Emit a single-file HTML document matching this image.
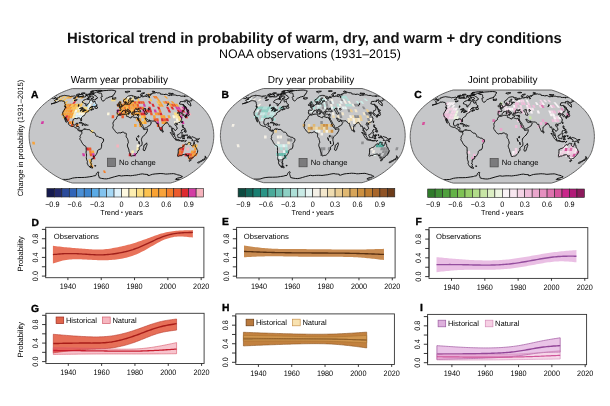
<!DOCTYPE html>
<html><head><meta charset="utf-8"><title>Historical trend in probability of warm, dry, and warm + dry conditions</title>
<style>
html,body{margin:0;padding:0;background:#fff;}
body{width:610px;height:406px;overflow:hidden;}
svg{display:block;}
text{font-family:"Liberation Sans",Arial,Helvetica,sans-serif;fill:#1a1a1a;text-rendering:geometricPrecision;}
.title{font-size:14.86px;font-weight:bold;fill:#111;}
.sub{font-size:12.4px;fill:#000;}
.t10{font-size:10.05px;fill:#000;}
.t7{font-size:7.3px;fill:#000;}
.t75{font-size:7.65px;fill:#000;}
.lg{font-size:7.55px;fill:#000;}
.t76{font-size:7.6px;fill:#000;}
.nc{font-size:7.6px;fill:#000;}
.tn{font-size:7.9px;fill:#000;}
.pl{font-size:7.6px;fill:#000;}
.lb{font-size:10.3px;font-weight:bold;fill:#000;stroke:#000;stroke-width:0.35px;}
</style></head><body>
<svg width="610" height="406" viewBox="0 0 610 406">
<rect width="610" height="406" fill="#fff"/>
<text x="314.4" y="43.4" text-anchor="middle" class="title">Historical trend in probability of warm, dry, and warm + dry conditions</text>
<text x="309.9" y="57.7" text-anchor="middle" class="sub">NOAA observations (1931–2015)</text>
<text transform="translate(22.9 137.9) rotate(-90)" text-anchor="middle" class="t76">Change in probability (1931–2015)</text>
<text x="119.4" y="83.1" text-anchor="middle" class="t10">Warm year probability</text>
<text x="311.0" y="83.1" text-anchor="middle" class="t10">Dry year probability</text>
<text x="502.6" y="83.3" text-anchor="middle" class="t10">Joint probability</text>
<text x="31.0" y="97.7" class="lb">A</text>
<text x="221.4" y="97.9" class="lb">B</text>
<text x="414.3" y="97.8" class="lb">C</text>
<clipPath id="clipA"><path d="M170.6 88.6 L172.31 89.08 L174.29 89.73 L176.48 90.53 L178.83 91.46 L181.26 92.5 L183.62 93.62 L185.79 94.79 L187.81 95.99 L189.74 97.23 L191.61 98.5 L193.43 99.8 L195.2 101.13 L196.91 102.48 L198.56 103.85 L200.13 105.24 L201.6 106.65 L202.95 108.07 L204.21 109.5 L205.43 110.95 L206.56 112.4 L207.58 113.85 L208.51 115.32 L209.35 116.78 L210.11 118.24 L210.76 119.7 L211.31 121.17 L211.76 122.63 L212.16 124.09 L212.54 125.56 L212.88 127.02 L213.16 128.48 L213.38 129.95 L213.55 131.41 L213.67 132.87 L213.75 134.34 L213.8 135.8 L213.75 137.26 L213.67 138.73 L213.55 140.19 L213.38 141.65 L213.16 143.12 L212.88 144.58 L212.54 146.04 L212.16 147.51 L211.76 148.97 L211.31 150.43 L210.76 151.9 L210.11 153.36 L209.35 154.82 L208.51 156.28 L207.58 157.75 L206.56 159.2 L205.43 160.65 L204.21 162.1 L202.95 163.53 L201.6 164.95 L200.13 166.36 L198.56 167.75 L196.91 169.12 L195.2 170.47 L193.43 171.8 L191.61 173.1 L189.74 174.37 L187.81 175.61 L185.79 176.81 L183.62 177.98 L181.26 179.1 L178.83 180.14 L176.48 181.07 L174.29 181.87 L172.31 182.52 L170.6 183 L72.3 183 L70.59 182.52 L68.61 181.87 L66.42 181.07 L64.07 180.14 L61.64 179.1 L59.28 177.98 L57.11 176.81 L55.09 175.61 L53.16 174.37 L51.29 173.1 L49.47 171.8 L47.7 170.47 L45.99 169.12 L44.34 167.75 L42.77 166.36 L41.3 164.95 L39.95 163.53 L38.69 162.1 L37.47 160.65 L36.34 159.2 L35.32 157.75 L34.39 156.28 L33.55 154.82 L32.79 153.36 L32.14 151.9 L31.59 150.43 L31.14 148.97 L30.74 147.51 L30.36 146.04 L30.02 144.58 L29.74 143.12 L29.52 141.65 L29.35 140.19 L29.23 138.73 L29.15 137.26 L29.1 135.8 L29.15 134.34 L29.23 132.87 L29.35 131.41 L29.52 129.95 L29.74 128.48 L30.02 127.02 L30.36 125.56 L30.74 124.09 L31.14 122.63 L31.59 121.17 L32.14 119.7 L32.79 118.24 L33.55 116.78 L34.39 115.32 L35.32 113.85 L36.34 112.4 L37.47 110.95 L38.69 109.5 L39.95 108.07 L41.3 106.65 L42.77 105.24 L44.34 103.85 L45.99 102.48 L47.7 101.13 L49.47 99.8 L51.29 98.5 L53.16 97.23 L55.09 95.99 L57.11 94.79 L59.28 93.62 L61.64 92.5 L64.07 91.46 L66.42 90.53 L68.61 89.73 L70.59 89.08 L72.3 88.6Z"/></clipPath><path d="M170.6 88.6 L172.31 89.08 L174.29 89.73 L176.48 90.53 L178.83 91.46 L181.26 92.5 L183.62 93.62 L185.79 94.79 L187.81 95.99 L189.74 97.23 L191.61 98.5 L193.43 99.8 L195.2 101.13 L196.91 102.48 L198.56 103.85 L200.13 105.24 L201.6 106.65 L202.95 108.07 L204.21 109.5 L205.43 110.95 L206.56 112.4 L207.58 113.85 L208.51 115.32 L209.35 116.78 L210.11 118.24 L210.76 119.7 L211.31 121.17 L211.76 122.63 L212.16 124.09 L212.54 125.56 L212.88 127.02 L213.16 128.48 L213.38 129.95 L213.55 131.41 L213.67 132.87 L213.75 134.34 L213.8 135.8 L213.75 137.26 L213.67 138.73 L213.55 140.19 L213.38 141.65 L213.16 143.12 L212.88 144.58 L212.54 146.04 L212.16 147.51 L211.76 148.97 L211.31 150.43 L210.76 151.9 L210.11 153.36 L209.35 154.82 L208.51 156.28 L207.58 157.75 L206.56 159.2 L205.43 160.65 L204.21 162.1 L202.95 163.53 L201.6 164.95 L200.13 166.36 L198.56 167.75 L196.91 169.12 L195.2 170.47 L193.43 171.8 L191.61 173.1 L189.74 174.37 L187.81 175.61 L185.79 176.81 L183.62 177.98 L181.26 179.1 L178.83 180.14 L176.48 181.07 L174.29 181.87 L172.31 182.52 L170.6 183 L72.3 183 L70.59 182.52 L68.61 181.87 L66.42 181.07 L64.07 180.14 L61.64 179.1 L59.28 177.98 L57.11 176.81 L55.09 175.61 L53.16 174.37 L51.29 173.1 L49.47 171.8 L47.7 170.47 L45.99 169.12 L44.34 167.75 L42.77 166.36 L41.3 164.95 L39.95 163.53 L38.69 162.1 L37.47 160.65 L36.34 159.2 L35.32 157.75 L34.39 156.28 L33.55 154.82 L32.79 153.36 L32.14 151.9 L31.59 150.43 L31.14 148.97 L30.74 147.51 L30.36 146.04 L30.02 144.58 L29.74 143.12 L29.52 141.65 L29.35 140.19 L29.23 138.73 L29.15 137.26 L29.1 135.8 L29.15 134.34 L29.23 132.87 L29.35 131.41 L29.52 129.95 L29.74 128.48 L30.02 127.02 L30.36 125.56 L30.74 124.09 L31.14 122.63 L31.59 121.17 L32.14 119.7 L32.79 118.24 L33.55 116.78 L34.39 115.32 L35.32 113.85 L36.34 112.4 L37.47 110.95 L38.69 109.5 L39.95 108.07 L41.3 106.65 L42.77 105.24 L44.34 103.85 L45.99 102.48 L47.7 101.13 L49.47 99.8 L51.29 98.5 L53.16 97.23 L55.09 95.99 L57.11 94.79 L59.28 93.62 L61.64 92.5 L64.07 91.46 L66.42 90.53 L68.61 89.73 L70.59 89.08 L72.3 88.6Z" fill="#c6c7c9"/><g clip-path="url(#clipA)"><path d="M53.85 101.13 L55.89 101.13 L59.09 98.5 L57.14 98.5Z" fill="#fcdd80"/><path d="M57.14 98.5 L59.09 98.5 L62.46 95.99 L60.62 95.99Z" fill="#fcc24e"/><path d="M57.94 101.13 L59.99 101.13 L62.98 98.5 L61.04 98.5Z" fill="#fcc24e"/><path d="M61.04 98.5 L62.98 98.5 L66.15 95.99 L64.3 95.99Z" fill="#fcc24e"/><path d="M62.04 101.13 L64.09 101.13 L66.88 98.5 L64.93 98.5Z" fill="#fcc24e"/><path d="M64.93 98.5 L66.88 98.5 L69.83 95.99 L67.99 95.99Z" fill="#fcc24e"/><path d="M66.88 98.5 L68.83 98.5 L71.68 95.99 L69.83 95.99Z" fill="#f9a233"/><path d="M63.62 103.85 L65.76 103.85 L68.19 101.13 L66.14 101.13Z" fill="#fcc24e"/><path d="M68.83 98.5 L70.78 98.5 L73.52 95.99 L71.68 95.99Z" fill="#f9a233"/><path d="M72.28 101.13 L74.33 101.13 L76.63 98.5 L74.68 98.5Z" fill="#fcdd80"/><path d="M74.68 98.5 L76.63 98.5 L79.05 95.99 L77.21 95.99Z" fill="#f9a233"/><path d="M78.58 98.5 L80.52 98.5 L82.74 95.99 L80.9 95.99Z" fill="#fcdd80"/><path d="M80.52 98.5 L82.47 98.5 L84.58 95.99 L82.74 95.99Z" fill="#f9a233"/><path d="M63.56 106.65 L65.79 106.65 L67.9 103.85 L65.76 103.85Z" fill="#f8a33a"/><path d="M60.99 115.32 L63.41 115.32 L64.71 112.4 L62.35 112.4Z" fill="#f9a233"/><path d="M62.35 112.4 L64.71 112.4 L66.27 109.5 L63.97 109.5Z" fill="#f8a33a"/><path d="M63.97 109.5 L66.27 109.5 L68.02 106.65 L65.79 106.65Z" fill="#f57f2a"/><path d="M65.79 106.65 L68.02 106.65 L70.04 103.85 L67.9 103.85Z" fill="#f9a233"/><path d="M62.35 118.24 L64.81 118.24 L65.83 115.32 L63.41 115.32Z" fill="#fcc24e"/><path d="M63.41 115.32 L65.83 115.32 L67.07 112.4 L64.71 112.4Z" fill="#f9a233"/><path d="M64.71 112.4 L67.07 112.4 L68.57 109.5 L66.27 109.5Z" fill="#f8a33a"/><path d="M66.27 109.5 L68.57 109.5 L70.24 106.65 L68.02 106.65Z" fill="#f9a233"/><path d="M68.02 106.65 L70.24 106.65 L72.18 103.85 L70.04 103.85Z" fill="#f57f2a"/><path d="M64.81 118.24 L67.27 118.24 L68.25 115.32 L65.83 115.32Z" fill="#dd2a2f"/><path d="M65.83 115.32 L68.25 115.32 L69.44 112.4 L67.07 112.4Z" fill="#f8a33a"/><path d="M67.07 112.4 L69.44 112.4 L70.87 109.5 L68.57 109.5Z" fill="#f9a233"/><path d="M68.57 109.5 L70.87 109.5 L72.47 106.65 L70.24 106.65Z" fill="#f9a233"/><path d="M70.24 106.65 L72.47 106.65 L74.33 103.85 L72.18 103.85Z" fill="#fcc24e"/><path d="M67.27 118.24 L69.73 118.24 L70.67 115.32 L68.25 115.32Z" fill="#f57f2a"/><path d="M68.25 115.32 L70.67 115.32 L71.8 112.4 L69.44 112.4Z" fill="#f9a233"/><path d="M69.44 112.4 L71.8 112.4 L73.17 109.5 L70.87 109.5Z" fill="#f57f2a"/><path d="M70.87 109.5 L73.17 109.5 L74.7 106.65 L72.47 106.65Z" fill="#fcc24e"/><path d="M72.47 106.65 L74.7 106.65 L76.47 103.85 L74.33 103.85Z" fill="#f9a233"/><path d="M69.73 118.24 L72.2 118.24 L73.08 115.32 L70.67 115.32Z" fill="#f8a33a"/><path d="M70.67 115.32 L73.08 115.32 L74.17 112.4 L71.8 112.4Z" fill="#f9a233"/><path d="M71.8 112.4 L74.17 112.4 L75.47 109.5 L73.17 109.5Z" fill="#fcc24e"/><path d="M73.17 109.5 L75.47 109.5 L76.92 106.65 L74.7 106.65Z" fill="#fcc24e"/><path d="M74.7 106.65 L76.92 106.65 L78.61 103.85 L76.47 103.85Z" fill="#fcc24e"/><path d="M72.2 118.24 L74.66 118.24 L75.5 115.32 L73.08 115.32Z" fill="#fdeeb0"/><path d="M73.08 115.32 L75.5 115.32 L76.53 112.4 L74.17 112.4Z" fill="#fdeeb0"/><path d="M74.17 112.4 L76.53 112.4 L77.77 109.5 L75.47 109.5Z" fill="#fdf8e0"/><path d="M75.47 109.5 L77.77 109.5 L79.15 106.65 L76.92 106.65Z" fill="#fcdd80"/><path d="M76.92 106.65 L79.15 106.65 L80.75 103.85 L78.61 103.85Z" fill="#fcc24e"/><path d="M74.66 118.24 L77.12 118.24 L77.92 115.32 L75.5 115.32Z" fill="#dff2fb"/><path d="M75.5 115.32 L77.92 115.32 L78.9 112.4 L76.53 112.4Z" fill="#dff2fb"/><path d="M76.53 112.4 L78.9 112.4 L80.07 109.5 L77.77 109.5Z" fill="#fcdd80"/><path d="M77.77 109.5 L80.07 109.5 L81.37 106.65 L79.15 106.65Z" fill="#fdf8e0"/><path d="M77.12 118.24 L79.58 118.24 L80.34 115.32 L77.92 115.32Z" fill="#dff2fb"/><path d="M77.92 115.32 L80.34 115.32 L81.26 112.4 L78.9 112.4Z" fill="#fdf8e0"/><path d="M78.9 112.4 L81.26 112.4 L82.37 109.5 L80.07 109.5Z" fill="#fdeeb0"/><path d="M80.07 109.5 L82.37 109.5 L83.6 106.65 L81.37 106.65Z" fill="#fdeeb0"/><path d="M79.58 118.24 L82.05 118.24 L82.76 115.32 L80.34 115.32Z" fill="#dff2fb"/><path d="M80.34 115.32 L82.76 115.32 L83.62 112.4 L81.26 112.4Z" fill="#fdf8e0"/><path d="M81.26 112.4 L83.62 112.4 L84.67 109.5 L82.37 109.5Z" fill="#fcc24e"/><path d="M82.37 109.5 L84.67 109.5 L85.83 106.65 L83.6 106.65Z" fill="#fcdd80"/><path d="M82.76 115.32 L85.18 115.32 L85.99 112.4 L83.62 112.4Z" fill="#fdf8e0"/><path d="M83.62 112.4 L85.99 112.4 L86.96 109.5 L84.67 109.5Z" fill="#fcc24e"/><path d="M84.67 109.5 L86.96 109.5 L88.05 106.65 L85.83 106.65Z" fill="#fcdd80"/><path d="M85.99 112.4 L88.35 112.4 L89.26 109.5 L86.96 109.5Z" fill="#fcc24e"/><path d="M89.26 109.5 L91.56 109.5 L92.51 106.65 L90.28 106.65Z" fill="#fcdd80"/><path d="M85.83 106.65 L88.05 106.65 L89.32 103.85 L87.18 103.85Z" fill="#a6d8f5"/><path d="M87.18 103.85 L89.32 103.85 L90.72 101.13 L88.67 101.13Z" fill="#fdf8e0"/><path d="M86.96 109.5 L89.26 109.5 L90.28 106.65 L88.05 106.65Z" fill="#dff2fb"/><path d="M88.05 106.65 L90.28 106.65 L91.46 103.85 L89.32 103.85Z" fill="#fdf8e0"/><path d="M89.32 103.85 L91.46 103.85 L92.77 101.13 L90.72 101.13Z" fill="#dff2fb"/><path d="M92.51 106.65 L94.73 106.65 L95.75 103.85 L93.6 103.85Z" fill="#a6d8f5"/><path d="M93.6 103.85 L95.75 103.85 L96.87 101.13 L94.82 101.13Z" fill="#dff2fb"/><path d="M94.73 106.65 L96.96 106.65 L97.89 103.85 L95.75 103.85Z" fill="#dff2fb"/><path d="M79.15 106.65 L81.37 106.65 L82.89 103.85 L80.75 103.85Z" fill="#fcc24e"/><path d="M80.75 103.85 L82.89 103.85 L84.57 101.13 L82.53 101.13Z" fill="#fcdd80"/><path d="M68.54 124.09 L71.06 124.09 L71.53 121.17 L69.03 121.17Z" fill="#f57f2a"/><path d="M70.66 127.02 L73.2 127.02 L73.58 124.09 L71.06 124.09Z" fill="#ec5a2d"/><path d="M72.18 103.85 L74.33 103.85 L76.38 101.13 L74.33 101.13Z" fill="#dd2a2f"/><path d="M66.54 121.17 L69.03 121.17 L69.73 118.24 L67.27 118.24Z" fill="#ec5a2d"/><path d="M71.06 124.09 L73.58 124.09 L74.03 121.17 L71.53 121.17Z" fill="#f9a233"/><path d="M111.21 101.13 L113.26 101.13 L113.65 98.5 L111.71 98.5Z" fill="#fcdd80"/><path d="M113.26 101.13 L115.3 101.13 L115.6 98.5 L113.65 98.5Z" fill="#fcdd80"/><path d="M106.94 115.32 L109.36 115.32 L109.63 112.4 L107.27 112.4Z" fill="#fdf8e0"/><path d="M111.6 118.24 L114.06 118.24 L114.2 115.32 L111.78 115.32Z" fill="#ec5a2d"/><path d="M40.82 124.09 L43.34 124.09 L44.07 121.17 L41.58 121.17Z" fill="#d33ca4"/><path d="M32.56 144.58 L35.1 144.58 L34.63 141.65 L32.08 141.65Z" fill="#f8a33a"/><path d="M75.74 127.02 L78.28 127.02 L78.62 124.09 L76.1 124.09Z" fill="#f57f2a"/><path d="M90.71 132.87 L93.27 132.87 L93.36 129.95 L90.81 129.95Z" fill="#fcdd80"/><path d="M86.51 150.43 L89 150.43 L88.69 147.51 L86.18 147.51Z" fill="#dd2a2f"/><path d="M89.44 153.36 L91.9 153.36 L91.5 150.43 L89 150.43Z" fill="#f57f2a"/><path d="M89 150.43 L91.5 150.43 L91.21 147.51 L88.69 147.51Z" fill="#ec5a2d"/><path d="M91.9 153.36 L94.36 153.36 L93.99 150.43 L91.5 150.43Z" fill="#f8a33a"/><path d="M92.43 156.28 L94.85 156.28 L94.36 153.36 L91.9 153.36Z" fill="#d33ca4"/><path d="M93.08 159.2 L95.44 159.2 L94.85 156.28 L92.43 156.28Z" fill="#dd2a2f"/><path d="M89.26 162.1 L91.56 162.1 L90.72 159.2 L88.35 159.2Z" fill="#fcc24e"/><path d="M90.28 164.95 L92.51 164.95 L91.56 162.1 L89.26 162.1Z" fill="#fcc24e"/><path d="M91.46 167.75 L93.6 167.75 L92.51 164.95 L90.28 164.95Z" fill="#f9a233"/><path d="M82.76 156.28 L85.18 156.28 L84.51 153.36 L82.05 153.36Z" fill="#d33ca4"/><path d="M103.91 173.1 L105.86 173.1 L105.06 170.47 L103.01 170.47Z" fill="#f57f2a"/><path d="M90.01 156.28 L92.43 156.28 L91.9 153.36 L89.44 153.36Z" fill="#ec5a2d"/><path d="M116.61 115.32 L119.03 115.32 L119.09 112.4 L116.72 112.4Z" fill="#fcc24e"/><path d="M116.72 112.4 L119.09 112.4 L119.15 109.5 L116.85 109.5Z" fill="#d33ca4"/><path d="M117 106.65 L119.22 106.65 L119.31 103.85 L117.17 103.85Z" fill="#f57f2a"/><path d="M119.03 115.32 L121.45 115.32 L121.45 112.4 L119.09 112.4Z" fill="#dd2a2f"/><path d="M119.09 112.4 L121.45 112.4 L121.45 109.5 L119.15 109.5Z" fill="#f9a233"/><path d="M119.15 109.5 L121.45 109.5 L121.45 106.65 L119.22 106.65Z" fill="#f9a233"/><path d="M119.22 106.65 L121.45 106.65 L121.45 103.85 L119.31 103.85Z" fill="#fcc24e"/><path d="M119.31 103.85 L121.45 103.85 L121.45 101.13 L119.4 101.13Z" fill="#f8a33a"/><path d="M121.45 115.32 L123.87 115.32 L123.81 112.4 L121.45 112.4Z" fill="#f57f2a"/><path d="M121.45 112.4 L123.81 112.4 L123.75 109.5 L121.45 109.5Z" fill="#f9a233"/><path d="M121.45 109.5 L123.75 109.5 L123.68 106.65 L121.45 106.65Z" fill="#f9a233"/><path d="M121.45 106.65 L123.68 106.65 L123.59 103.85 L121.45 103.85Z" fill="#f57f2a"/><path d="M123.87 115.32 L126.29 115.32 L126.18 112.4 L123.81 112.4Z" fill="#f8a33a"/><path d="M123.81 112.4 L126.18 112.4 L126.05 109.5 L123.75 109.5Z" fill="#f57f2a"/><path d="M123.75 109.5 L126.05 109.5 L125.9 106.65 L123.68 106.65Z" fill="#f57f2a"/><path d="M123.68 106.65 L125.9 106.65 L125.73 103.85 L123.59 103.85Z" fill="#f9a233"/><path d="M123.59 103.85 L125.73 103.85 L125.55 101.13 L123.5 101.13Z" fill="#f57f2a"/><path d="M126.29 115.32 L128.7 115.32 L128.54 112.4 L126.18 112.4Z" fill="#fcc24e"/><path d="M126.18 112.4 L128.54 112.4 L128.35 109.5 L126.05 109.5Z" fill="#f8a33a"/><path d="M126.05 109.5 L128.35 109.5 L128.13 106.65 L125.9 106.65Z" fill="#fcc24e"/><path d="M125.9 106.65 L128.13 106.65 L127.88 103.85 L125.73 103.85Z" fill="#f8a33a"/><path d="M125.73 103.85 L127.88 103.85 L127.6 101.13 L125.55 101.13Z" fill="#f8a33a"/><path d="M128.54 112.4 L130.91 112.4 L130.65 109.5 L128.35 109.5Z" fill="#f57f2a"/><path d="M128.35 109.5 L130.65 109.5 L130.36 106.65 L128.13 106.65Z" fill="#f57f2a"/><path d="M128.13 106.65 L130.36 106.65 L130.02 103.85 L127.88 103.85Z" fill="#f57f2a"/><path d="M127.88 103.85 L130.02 103.85 L129.64 101.13 L127.6 101.13Z" fill="#f8a33a"/><path d="M131.12 115.32 L133.54 115.32 L133.27 112.4 L130.91 112.4Z" fill="#f8a33a"/><path d="M130.91 112.4 L133.27 112.4 L132.95 109.5 L130.65 109.5Z" fill="#fcc24e"/><path d="M130.65 109.5 L132.95 109.5 L132.58 106.65 L130.36 106.65Z" fill="#f8a33a"/><path d="M130.36 106.65 L132.58 106.65 L132.16 103.85 L130.02 103.85Z" fill="#f9a233"/><path d="M130.02 103.85 L132.16 103.85 L131.69 101.13 L129.64 101.13Z" fill="#f9a233"/><path d="M133.54 115.32 L135.96 115.32 L135.63 112.4 L133.27 112.4Z" fill="#f8a33a"/><path d="M133.27 112.4 L135.63 112.4 L135.24 109.5 L132.95 109.5Z" fill="#f57f2a"/><path d="M132.95 109.5 L135.24 109.5 L134.81 106.65 L132.58 106.65Z" fill="#f8a33a"/><path d="M132.58 106.65 L134.81 106.65 L134.3 103.85 L132.16 103.85Z" fill="#f57f2a"/><path d="M132.16 103.85 L134.3 103.85 L133.74 101.13 L131.69 101.13Z" fill="#f8a33a"/><path d="M135.96 115.32 L138.38 115.32 L138 112.4 L135.63 112.4Z" fill="#f9a233"/><path d="M135.24 109.5 L137.54 109.5 L137.03 106.65 L134.81 106.65Z" fill="#f57f2a"/><path d="M134.81 106.65 L137.03 106.65 L136.44 103.85 L134.3 103.85Z" fill="#f9a233"/><path d="M134.3 103.85 L136.44 103.85 L135.79 101.13 L133.74 101.13Z" fill="#ec5a2d"/><path d="M138.38 115.32 L140.8 115.32 L140.36 112.4 L138 112.4Z" fill="#f9a233"/><path d="M138 112.4 L140.36 112.4 L139.84 109.5 L137.54 109.5Z" fill="#f9a233"/><path d="M137.54 109.5 L139.84 109.5 L139.26 106.65 L137.03 106.65Z" fill="#f57f2a"/><path d="M137.03 106.65 L139.26 106.65 L138.59 103.85 L136.44 103.85Z" fill="#ec5a2d"/><path d="M136.44 103.85 L138.59 103.85 L137.84 101.13 L135.79 101.13Z" fill="#f9a233"/><path d="M123.5 101.13 L125.55 101.13 L125.35 98.5 L123.4 98.5Z" fill="#fcc24e"/><path d="M125.55 101.13 L127.6 101.13 L127.3 98.5 L125.35 98.5Z" fill="#fcc24e"/><path d="M127.6 101.13 L129.64 101.13 L129.25 98.5 L127.3 98.5Z" fill="#fdeeb0"/><path d="M127.3 98.5 L129.25 98.5 L128.82 95.99 L126.98 95.99Z" fill="#fdf8e0"/><path d="M129.64 101.13 L131.69 101.13 L131.19 98.5 L129.25 98.5Z" fill="#fcc24e"/><path d="M131.69 101.13 L133.74 101.13 L133.14 98.5 L131.19 98.5Z" fill="#fcdd80"/><path d="M133.14 98.5 L135.09 98.5 L134.35 95.99 L132.51 95.99Z" fill="#fdeeb0"/><path d="M121.45 118.24 L123.91 118.24 L123.87 115.32 L121.45 115.32Z" fill="#ec5a2d"/><path d="M134.15 127.02 L136.69 127.02 L136.57 124.09 L134.05 124.09Z" fill="#f9a233"/><path d="M136.43 121.17 L138.92 121.17 L138.69 118.24 L136.23 118.24Z" fill="#f9a233"/><path d="M139.23 127.02 L141.77 127.02 L141.61 124.09 L139.09 124.09Z" fill="#f9a233"/><path d="M139.09 124.09 L141.61 124.09 L141.42 121.17 L138.92 121.17Z" fill="#f8a33a"/><path d="M138.92 121.17 L141.42 121.17 L141.15 118.24 L138.69 118.24Z" fill="#f8a33a"/><path d="M141.61 124.09 L144.13 124.09 L143.91 121.17 L141.42 121.17Z" fill="#fcc24e"/><path d="M141.15 118.24 L143.61 118.24 L143.21 115.32 L140.8 115.32Z" fill="#fcc24e"/><path d="M144.13 124.09 L146.65 124.09 L146.41 121.17 L143.91 121.17Z" fill="#f9a233"/><path d="M143.91 121.17 L146.41 121.17 L146.08 118.24 L143.61 118.24Z" fill="#fcc24e"/><path d="M143.61 118.24 L146.08 118.24 L145.63 115.32 L143.21 115.32Z" fill="#f9a233"/><path d="M140.8 115.32 L143.21 115.32 L142.73 112.4 L140.36 112.4Z" fill="#dd2a2f"/><path d="M139.84 109.5 L142.14 109.5 L141.49 106.65 L139.26 106.65Z" fill="#dd2a2f"/><path d="M138.59 103.85 L140.73 103.85 L139.89 101.13 L137.84 101.13Z" fill="#dd2a2f"/><path d="M143.21 115.32 L145.63 115.32 L145.09 112.4 L142.73 112.4Z" fill="#dd2a2f"/><path d="M142.73 112.4 L145.09 112.4 L144.44 109.5 L142.14 109.5Z" fill="#d33ca4"/><path d="M142.14 109.5 L144.44 109.5 L143.71 106.65 L141.49 106.65Z" fill="#f57f2a"/><path d="M140.73 103.85 L142.87 103.85 L141.94 101.13 L139.89 101.13Z" fill="#ec5a2d"/><path d="M145.09 112.4 L147.46 112.4 L146.74 109.5 L144.44 109.5Z" fill="#ec5a2d"/><path d="M143.71 106.65 L145.94 106.65 L145.01 103.85 L142.87 103.85Z" fill="#d33ca4"/><path d="M142.87 103.85 L145.01 103.85 L143.98 101.13 L141.94 101.13Z" fill="#ec5a2d"/><path d="M147.46 112.4 L149.82 112.4 L149.04 109.5 L146.74 109.5Z" fill="#dd2a2f"/><path d="M150.47 115.32 L152.89 115.32 L152.18 112.4 L149.82 112.4Z" fill="#ec5a2d"/><path d="M149.82 112.4 L152.18 112.4 L151.34 109.5 L149.04 109.5Z" fill="#dd2a2f"/><path d="M149.04 109.5 L151.34 109.5 L150.39 106.65 L148.17 106.65Z" fill="#dd2a2f"/><path d="M149.3 103.85 L151.44 103.85 L150.13 101.13 L148.08 101.13Z" fill="#dd2a2f"/><path d="M155.31 115.32 L157.72 115.32 L156.91 112.4 L154.55 112.4Z" fill="#f9a233"/><path d="M154.55 112.4 L156.91 112.4 L155.94 109.5 L153.64 109.5Z" fill="#d33ca4"/><path d="M152.62 106.65 L154.85 106.65 L153.58 103.85 L151.44 103.85Z" fill="#dd2a2f"/><path d="M157.72 115.32 L160.14 115.32 L159.28 112.4 L156.91 112.4Z" fill="#f57f2a"/><path d="M160.14 115.32 L162.56 115.32 L161.64 112.4 L159.28 112.4Z" fill="#dd2a2f"/><path d="M159.28 112.4 L161.64 112.4 L160.53 109.5 L158.23 109.5Z" fill="#f57f2a"/><path d="M158.23 109.5 L160.53 109.5 L159.3 106.65 L157.07 106.65Z" fill="#dd2a2f"/><path d="M159.3 106.65 L161.53 106.65 L160.01 103.85 L157.86 103.85Z" fill="#f8a33a"/><path d="M157.86 103.85 L160.01 103.85 L158.33 101.13 L156.28 101.13Z" fill="#fcc24e"/><path d="M154.58 98.5 L156.53 98.5 L154.63 95.99 L152.79 95.99Z" fill="#f57f2a"/><path d="M161.53 106.65 L163.75 106.65 L162.15 103.85 L160.01 103.85Z" fill="#f9a233"/><path d="M160.01 103.85 L162.15 103.85 L160.37 101.13 L158.33 101.13Z" fill="#f9a233"/><path d="M158.33 101.13 L160.37 101.13 L158.48 98.5 L156.53 98.5Z" fill="#f9a233"/><path d="M156.53 98.5 L158.48 98.5 L156.47 95.99 L154.63 95.99Z" fill="#f57f2a"/><path d="M164.29 103.85 L166.43 103.85 L164.47 101.13 L162.42 101.13Z" fill="#f9a233"/><path d="M166.43 103.85 L168.57 103.85 L166.52 101.13 L164.47 101.13Z" fill="#ec5a2d"/><path d="M170.43 106.65 L172.66 106.65 L170.72 103.85 L168.57 103.85Z" fill="#f8a33a"/><path d="M168.57 103.85 L170.72 103.85 L168.57 101.13 L166.52 101.13Z" fill="#f9a233"/><path d="M172.66 106.65 L174.88 106.65 L172.86 103.85 L170.72 103.85Z" fill="#ec5a2d"/><path d="M166.27 98.5 L168.22 98.5 L165.69 95.99 L163.85 95.99Z" fill="#f8a33a"/><path d="M174.88 106.65 L177.11 106.65 L175 103.85 L172.86 103.85Z" fill="#ec5a2d"/><path d="M172.86 103.85 L175 103.85 L172.67 101.13 L170.62 101.13Z" fill="#f8a33a"/><path d="M177.11 106.65 L179.34 106.65 L177.14 103.85 L175 103.85Z" fill="#f9a233"/><path d="M137.84 101.13 L139.89 101.13 L138.99 98.5 L137.04 98.5Z" fill="#fcc24e"/><path d="M150.13 101.13 L152.18 101.13 L150.68 98.5 L148.73 98.5Z" fill="#fcc24e"/><path d="M149.1 95.99 L150.94 95.99 L149.08 93.62 L147.35 93.62Z" fill="#f9a233"/><path d="M168.73 112.4 L171.1 112.4 L169.73 109.5 L167.43 109.5Z" fill="#dd2a2f"/><path d="M167.43 109.5 L169.73 109.5 L168.2 106.65 L165.98 106.65Z" fill="#dd2a2f"/><path d="M172.03 109.5 L174.33 109.5 L172.66 106.65 L170.43 106.65Z" fill="#dd2a2f"/><path d="M180.55 118.24 L183.02 118.24 L181.91 115.32 L179.49 115.32Z" fill="#d33ca4"/><path d="M178.19 112.4 L180.55 112.4 L178.93 109.5 L176.63 109.5Z" fill="#dd2a2f"/><path d="M176.63 109.5 L178.93 109.5 L177.11 106.65 L174.88 106.65Z" fill="#d33ca4"/><path d="M181.91 115.32 L184.33 115.32 L182.92 112.4 L180.55 112.4Z" fill="#f6b3bd"/><path d="M180.55 112.4 L182.92 112.4 L181.22 109.5 L178.93 109.5Z" fill="#d33ca4"/><path d="M178.93 109.5 L181.22 109.5 L179.34 106.65 L177.11 106.65Z" fill="#d33ca4"/><path d="M185.48 118.24 L187.94 118.24 L186.74 115.32 L184.33 115.32Z" fill="#dd2a2f"/><path d="M182.92 112.4 L185.28 112.4 L183.52 109.5 L181.22 109.5Z" fill="#dd2a2f"/><path d="M181.22 109.5 L183.52 109.5 L181.56 106.65 L179.34 106.65Z" fill="#f6b3bd"/><path d="M186.74 115.32 L189.16 115.32 L187.65 112.4 L185.28 112.4Z" fill="#d33ca4"/><path d="M183.52 109.5 L185.82 109.5 L183.79 106.65 L181.56 106.65Z" fill="#d33ca4"/><path d="M189.16 115.32 L191.58 115.32 L190.01 112.4 L187.65 112.4Z" fill="#f6b3bd"/><path d="M187.65 112.4 L190.01 112.4 L188.12 109.5 L185.82 109.5Z" fill="#d33ca4"/><path d="M185.82 109.5 L188.12 109.5 L186.02 106.65 L183.79 106.65Z" fill="#d33ca4"/><path d="M174.36 124.09 L176.88 124.09 L176.36 121.17 L173.87 121.17Z" fill="#fdf8e0"/><path d="M173.17 118.24 L175.63 118.24 L174.65 115.32 L172.23 115.32Z" fill="#fdf8e0"/><path d="M176.88 124.09 L179.4 124.09 L178.86 121.17 L176.36 121.17Z" fill="#fdf8e0"/><path d="M176.36 121.17 L178.86 121.17 L178.09 118.24 L175.63 118.24Z" fill="#fdf8e0"/><path d="M175.63 118.24 L178.09 118.24 L177.07 115.32 L174.65 115.32Z" fill="#fdeeb0"/><path d="M174.65 115.32 L177.07 115.32 L175.83 112.4 L173.46 112.4Z" fill="#fcdd80"/><path d="M178.86 121.17 L181.35 121.17 L180.55 118.24 L178.09 118.24Z" fill="#fcdd80"/><path d="M178.09 118.24 L180.55 118.24 L179.49 115.32 L177.07 115.32Z" fill="#fcdd80"/><path d="M177.07 115.32 L179.49 115.32 L178.19 112.4 L175.83 112.4Z" fill="#fcdd80"/><path d="M161.76 124.09 L164.28 124.09 L163.88 121.17 L161.39 121.17Z" fill="#f8a33a"/><path d="M160.85 118.24 L163.32 118.24 L162.56 115.32 L160.14 115.32Z" fill="#f8a33a"/><path d="M164.28 124.09 L166.8 124.09 L166.38 121.17 L163.88 121.17Z" fill="#f8a33a"/><path d="M163.88 121.17 L166.38 121.17 L165.78 118.24 L163.32 118.24Z" fill="#ec5a2d"/><path d="M163.32 118.24 L165.78 118.24 L164.98 115.32 L162.56 115.32Z" fill="#f9a233"/><path d="M168.24 118.24 L170.7 118.24 L169.82 115.32 L167.4 115.32Z" fill="#f8a33a"/><path d="M153.9 121.17 L156.39 121.17 L155.93 118.24 L153.46 118.24Z" fill="#ec5a2d"/><path d="M153.46 118.24 L155.93 118.24 L155.31 115.32 L152.89 115.32Z" fill="#f9a233"/><path d="M157 127.02 L159.54 127.02 L159.24 124.09 L156.72 124.09Z" fill="#ec5a2d"/><path d="M156.72 124.09 L159.24 124.09 L158.89 121.17 L156.39 121.17Z" fill="#d33ca4"/><path d="M156.39 121.17 L158.89 121.17 L158.39 118.24 L155.93 118.24Z" fill="#ec5a2d"/><path d="M159.75 129.95 L162.31 129.95 L162.08 127.02 L159.54 127.02Z" fill="#dd2a2f"/><path d="M161.39 121.17 L163.88 121.17 L163.32 118.24 L160.85 118.24Z" fill="#dd2a2f"/><path d="M166.38 121.17 L168.87 121.17 L168.24 118.24 L165.78 118.24Z" fill="#dd2a2f"/><path d="M181.92 124.09 L184.44 124.09 L183.85 121.17 L181.35 121.17Z" fill="#d33ca4"/><path d="M116.41 147.51 L118.93 147.51 L118.91 144.58 L116.37 144.58Z" fill="#f6b3bd"/><path d="M136.57 147.51 L139.09 147.51 L139.23 144.58 L136.69 144.58Z" fill="#fdf8e0"/><path d="M131.3 153.36 L133.76 153.36 L133.93 150.43 L131.43 150.43Z" fill="#fdeeb0"/><path d="M128.7 156.28 L131.12 156.28 L131.3 153.36 L128.84 153.36Z" fill="#dd2a2f"/><path d="M133.54 156.28 L135.96 156.28 L136.23 153.36 L133.76 153.36Z" fill="#d33ca4"/><path d="M136.43 150.43 L138.92 150.43 L139.09 147.51 L136.57 147.51Z" fill="#fdeeb0"/><path d="M177.07 156.28 L179.49 156.28 L180.55 153.36 L178.09 153.36Z" fill="#ec5a2d"/><path d="M178.09 153.36 L180.55 153.36 L181.35 150.43 L178.86 150.43Z" fill="#f57f2a"/><path d="M178.86 150.43 L181.35 150.43 L181.92 147.51 L179.4 147.51Z" fill="#ec5a2d"/><path d="M179.49 156.28 L181.91 156.28 L183.02 153.36 L180.55 153.36Z" fill="#ec5a2d"/><path d="M180.55 153.36 L183.02 153.36 L183.85 150.43 L181.35 150.43Z" fill="#ec5a2d"/><path d="M181.35 150.43 L183.85 150.43 L184.44 147.51 L181.92 147.51Z" fill="#dd2a2f"/><path d="M181.92 147.51 L184.44 147.51 L184.94 144.58 L182.4 144.58Z" fill="#ec5a2d"/><path d="M187.65 159.2 L190.01 159.2 L191.58 156.28 L189.16 156.28Z" fill="#f57f2a"/><path d="M189.16 156.28 L191.58 156.28 L192.87 153.36 L190.4 153.36Z" fill="#ec5a2d"/><path d="M190.4 153.36 L192.87 153.36 L193.83 150.43 L191.34 150.43Z" fill="#f8a33a"/><path d="M192 147.51 L194.52 147.51 L195.1 144.58 L192.56 144.58Z" fill="#f9a233"/><path d="M190.01 159.2 L192.37 159.2 L194 156.28 L191.58 156.28Z" fill="#ec5a2d"/><path d="M191.58 156.28 L194 156.28 L195.33 153.36 L192.87 153.36Z" fill="#f9a233"/><path d="M192.87 153.36 L195.33 153.36 L196.33 150.43 L193.83 150.43Z" fill="#f57f2a"/><path d="M193.83 150.43 L196.33 150.43 L197.04 147.51 L194.52 147.51Z" fill="#f8a33a"/><path d="M194.52 147.51 L197.04 147.51 L197.64 144.58 L195.1 144.58Z" fill="#fcc24e"/><path d="M194 156.28 L196.42 156.28 L197.79 153.36 L195.33 153.36Z" fill="#f57f2a"/><path d="M184.33 156.28 L186.74 156.28 L187.94 153.36 L185.48 153.36Z" fill="#dd2a2f"/><path d="M186.74 156.28 L189.16 156.28 L190.4 153.36 L187.94 153.36Z" fill="#dd2a2f"/><path d="M186.35 150.43 L188.84 150.43 L189.48 147.51 L186.96 147.51Z" fill="#f6b3bd"/><path d="M187.48 144.58 L190.02 144.58 L190.39 141.65 L187.84 141.65Z" fill="#fcdd80"/><path d="M56.31 98.24 L56.41 98.76 L57.58 98.76 L57.72 99.28 L55.47 99.8 L54.29 100.59 L55.07 101.13 L55.92 101.83 L55.63 102.48 L52.34 103.57 L51.02 104.02 L53.31 103.46 L55.76 102.75 L57.17 102.21 L58.88 101.4 L59.97 100.59 L60.11 101.02 L61.21 100.75 L61.91 100.86 L62.86 101.13 L63.98 101.23 L64.63 101.83 L64.79 102.1 L64.77 103.02 L64.71 103.57 L65.24 103.96 L65.3 104.4 L65.06 105.52 L65 106.2 L65.6 106.93 L65.32 107.56 L64.95 108.64 L63.76 110.66 L62.83 112.11 L62.63 113.27 L62.83 113.85 L62.86 114.56 L63.03 115.55 L63.91 115.9 L64.24 116.72 L64.26 117.66 L64.41 118.24 L64.72 119.41 L65.24 120.29 L65.58 121.46 L66.3 122.4 L66.21 121.58 L65.92 120.58 L65.54 119.12 L65.24 117.36 L65.98 117.66 L66.36 118.83 L66.8 120 L67.11 120.82 L67.69 121.64 L68.32 122.34 L68.38 123.51 L68.39 124.09 L68.8 124.68 L69.39 125.15 L70.32 125.73 L71.28 126.08 L72.24 126.49 L73.27 126.44 L73.78 126.38 L74.45 127.2 L75.16 127.66 L76.15 127.96 L76.9 128.19 L77.13 128.48 L77.59 129.07 L77.7 129.65 L77.68 130.06 L78.28 130.24 L78.75 130.88 L79.52 131 L80.26 131.53 L80.52 131.35 L80.81 130.59 L81.31 130.88 L81.8 131.35 L81.92 130.88 L81.64 130.42 L81.09 130.24 L80.31 130.47 L79.79 130.65 L79.3 130.24 L78.84 129.48 L78.86 128.48 L79.13 127.14 L78.59 126.49 L77.82 126.49 L76.8 126.55 L76.77 125.56 L77.27 124.39 L77.71 123.27 L76.97 123.22 L75.97 123.51 L75.81 124.39 L75.22 124.97 L73.95 125.09 L73.22 124.86 L72.81 124.15 L72.52 123.04 L72.57 121.75 L72.99 120.58 L73.2 119.59 L73.97 119.06 L74.83 118.53 L76.08 118.48 L76.75 118.77 L77.37 118.65 L77.41 118.07 L78.18 117.95 L79.15 118.01 L79.83 118.24 L80.27 118.48 L80.47 119.41 L80.66 120.29 L81.03 121.05 L81.34 120.99 L81.63 120.11 L81.57 119.12 L81.45 118.07 L81.67 117.3 L82.3 116.72 L83.14 116.08 L83.89 115.61 L84.5 115.32 L85.01 114.85 L85 114.15 L85.18 113.68 L85.73 113.27 L85.79 112.75 L86.33 112.51 L86.57 112.05 L87.35 111.82 L88.35 111.47 L88.67 111.35 L88.48 110.89 L88.66 110.49 L89.54 110.08 L90.59 109.68 L91.39 109.33 L91.96 109.27 L91.12 109.74 L91.08 110.31 L92.18 109.74 L93.44 109.39 L93.99 109.05 L93.43 108.93 L92.25 108.76 L91.96 108.24 L92.43 107.5 L92.12 107.1 L91.23 107.1 L90.31 107.79 L89.43 108.36 L89.84 107.84 L91.02 107.05 L91.88 106.54 L93.46 106.48 L94.79 106.48 L96.1 105.86 L97.02 105.35 L97.18 104.63 L96.28 104.13 L95.81 103.68 L95.39 103.13 L95.25 102.48 L95.14 101.77 L95.07 101.02 L94.1 101.77 L93.17 101.99 L92.68 101.72 L93.04 100.59 L92.48 100.27 L91.92 99.9 L91.2 99.9 L90.39 99.85 L90.04 100.59 L89.59 101.4 L89.31 102.21 L88.98 103.08 L88.49 103.63 L87.34 104.13 L87.05 104.96 L86.77 105.75 L85.97 105.86 L85.85 105.19 L85.76 104.68 L86.24 103.85 L85.13 103.68 L84.25 103.35 L83.92 102.97 L83.28 102.64 L82.49 102.7 L82.38 101.77 L82.73 101.07 L83.45 100.38 L84.08 100.06 L85.4 99.54 L86.83 98.96 L87.47 98.6 L88.28 97.99 L88.14 97.38 L88.85 97.03 L89.85 96.33 L90.75 96.38 L90.91 96.73 L90.15 97.23 L89.32 97.88 L88.85 97.73 L88.21 97.99 L88.69 97.68 L88.25 96.73 L88.14 96.38 L87.66 96.28 L87.35 95.99 L87.42 95.26 L87.01 95.12 L85.87 95.99 L85.5 96.88 L84.48 96.97 L83.26 97.08 L82.21 96.97 L81.41 96.83 L80.61 96.88 L79.9 97.03 L78.72 97.08 L77.85 97.08 L77.57 96.53 L77.13 96.23 L76.36 96.08 L75.04 96.28 L74.55 95.89 L73.59 96.08 L72.68 96.23 L71.76 96.23 L70.47 96.53 L69.9 96.23 L69.28 96.13 L68.61 95.94 L67.75 95.89 L66.84 95.74 L65.95 95.6 L65.17 95.5 L64.65 95.36 L63.39 95.6 L62.12 95.84 L60.74 96.28 L59.46 96.53 L59.76 96.97 L59.48 97.38 L58.61 97.68 L57.57 97.88 L56.31 98.24M97.47 92.2 L99.77 91.46 L101.77 91 L103.94 90.63 L106.16 90.53 L108.76 90.29 L111.84 90.16 L114.15 90.42 L115.23 90.89 L116.08 91.26 L115.13 91.87 L115.3 92.5 L114.48 93.17 L114.84 93.85 L113.64 94.55 L113.49 95.26 L112.65 95.74 L113.15 95.99 L112.15 96.38 L110.16 96.88 L108.96 97.13 L107.57 97.99 L106.31 98.29 L105.5 99.02 L104.65 99.8 L103.92 100.86 L103.03 101.07 L102.34 100.7 L101.72 100.17 L101.46 99.28 L101.38 98.5 L100.93 97.73 L101.38 96.73 L102.43 96.48 L102.03 95.74 L101.72 95.26 L101.74 94.55 L101.62 93.85 L101.42 93.35 L100.42 93.08 L99.06 93.08 L98.43 92.81 L97.53 92.5 L97.47 92.2M89.28 94.79 L91.15 94.27 L92.95 94.22 L94 94.69 L94.66 95.26 L95.8 95.74 L96.32 96.08 L96.4 96.58 L97.23 97.48 L97.74 97.73 L96.97 98.34 L95.76 98.81 L95.86 99.38 L94.78 99.96 L93.94 99.64 L93.03 99.12 L92.06 98.76 L90.89 98.76 L91.79 98.24 L93.45 97.73 L93.72 96.97 L92.89 96.23 L91.55 96.04 L90.19 95.89 L89.24 95.69 L89.28 94.79M79.26 94.64 L81.13 94.41 L82.82 94.64 L83.02 95.5 L83.76 96.08 L82 96.38 L79.62 96.53 L78.01 96.28 L78 95.6 L79.26 94.64M76.24 95.07 L77.71 94.18 L79.64 93.9 L80.24 94.41 L78.01 95.26 L76.24 95.07M91.55 92.5 L92.33 93.03 L94.36 93.03 L95.41 92.63 L96.65 92.03 L98.34 91.62 L99.99 91.23 L102.21 90.67 L100.8 90.39 L97.8 90.36 L94.94 90.7 L92.61 91.07 L91.3 91.87 L91.55 92.5M90.24 93.08 L92.46 92.9 L94.19 93.03 L93.74 93.71 L91.53 93.85 L89.63 93.67 L90.24 93.08M81.83 93.03 L84.43 92.85 L85.27 93.26 L84.09 93.67 L82.14 93.85 L81.16 93.53 L81.83 93.03M91.1 91.26 L92.71 91 L93.59 91.3 L91.95 91.87 L90.25 92.2 L91.1 91.26M85.82 94.32 L87.42 94.13 L86.91 95.02 L85.43 95.26 L85.82 94.32M88.17 94.08 L89.87 94.13 L88.3 94.88 L88.17 94.08M87.36 98.76 L88.83 98.91 L89.62 99.22 L87.63 99.54 L87.38 99.02 L88.41 98.09 L87.36 98.76M94.57 108.01 L95.17 107.39 L95.96 106.31 L96.98 105.75 L96.74 106.65 L97.45 107.1 L97.56 108.01 L97.06 108.53 L96.11 108.36 L94.57 108.01M64.65 106.2 L65.65 106.54 L65.94 107.5 L65.39 107.44 L64.96 106.88 L64.65 106.2M78.81 122.98 L79.84 122.4 L80.86 122.28 L81.81 122.69 L82.65 123.22 L83.45 123.68 L84.07 123.98 L82.39 124.15 L82.29 123.68 L81.75 123.16 L80.75 123.1 L79.77 122.92 L78.81 122.98M83.86 125.03 L84.76 124.15 L85.66 124.21 L86.62 124.68 L86.9 124.91 L86.07 125.15 L85.27 125.5 L84.55 125.15 L83.86 125.03M87.5 124.97 L88.3 125.03 L88.08 125.26 L87.47 125.26M81.89 125.03 L82.88 125.15 L82.61 125.32 L81.87 125.15M81.92 130.88 L82.34 130.65 L82.77 130.24 L82.91 129.6 L83.6 129.24 L84.49 128.84 L84.87 128.54 L85.15 128.89 L84.81 129.36 L84.94 129.95 L85.22 129.48 L85.75 129.01 L86.51 129.19 L86.74 129.6 L87.76 129.6 L88.78 129.6 L89.55 129.6 L89.89 129.95 L90.36 130.83 L91.02 131.12 L91.76 131.82 L92.26 132.29 L93.28 132.35 L94.05 132.52 L94.8 133.05 L95.16 133.34 L95.3 134.04 L95.8 134.81 L95.8 135.68 L96.31 135.98 L96.67 136.39 L97.34 136.21 L98.37 136.62 L98.89 137.26 L99.91 137.44 L100.94 137.5 L101.72 138.02 L102.49 138.67 L103.37 138.9 L103.64 140.07 L103.46 141.18 L102.82 142 L102.29 142.94 L101.65 143.58 L101.65 144.87 L101.62 146.22 L101.43 147.27 L100.9 148.56 L100.4 149.26 L99.16 149.44 L98.2 149.96 L97.52 150.72 L97.34 151.9 L96.98 153.07 L96.56 153.94 L96.04 154.7 L95.5 155.58 L95.07 156.17 L94.21 156.23 L93.15 155.99 L93.8 156.64 L93.92 157.45 L93.59 158.33 L92.45 158.56 L91.85 158.62 L92.13 159.55 L91.05 159.72 L90.99 160.36 L91.47 160.71 L91.18 161.29 L91.29 162.1 L90.65 162.55 L90.65 163.24 L91.66 163.81 L91.29 164.67 L91.1 165.12 L91.06 165.8 L91.53 166.3 L91.09 166.41 L90.87 166.92 L90.49 167.03 L88.93 166.36 L88.29 165.52 L87.58 164.21 L87.11 163.13 L87.3 162.38 L87.45 161.52 L86.97 160.36 L86.55 159.2 L86.3 157.63 L86.46 156.58 L86.55 155.11 L86.28 153.36 L86.07 152.19 L86.25 150.72 L86.16 149.26 L86.16 147.8 L85.92 146.51 L85.33 146.1 L84.19 145.4 L83.09 144.46 L82.62 143.7 L81.99 142.71 L81.46 141.65 L80.78 140.37 L79.98 139.43 L79.84 138.43 L80.28 137.79 L80.53 137.26 L79.95 136.68 L80.35 135.8 L80.41 135.27 L80.93 134.92 L81.2 134.34 L81.72 133.69 L81.84 132.99 L81.82 132.17 L81.59 131.53 L81.92 130.88M91.49 166.41 L92.96 167.75 L92.44 168.03 L91.25 167.75 L89.92 167.2 L90.95 167.08 L91.49 166.41M94.39 165.63 L95.85 165.63 L95.78 166.08 L94.68 166.08M118.61 114.85 L119.28 115.2 L120.39 115.26 L121.45 114.79 L122.65 114.38 L123.85 114.26 L125.53 114.2 L126.34 114.03 L126.78 114.26 L126.51 114.73 L126.81 115.2 L126.4 115.72 L126.41 116.19 L127.06 116.49 L127.79 116.6 L128.88 116.9 L129.3 117.48 L130.29 117.77 L131.05 118.07 L131.31 117.54 L131.23 116.95 L131.93 116.54 L132.68 116.72 L133.68 117.13 L134.69 117.42 L135.69 117.71 L136.4 117.36 L137.29 117.48 L137.46 118.24 L138.17 119.76 L138.8 120.88 L139.32 121.87 L139.93 122.92 L140.21 123.51 L140.39 124.86 L140.97 125.38 L141.39 126.49 L141.77 127.02 L142.56 127.72 L143.1 128.37 L143.52 128.78 L143.48 129.13 L143.91 129.65 L144.67 129.54 L145.43 129.3 L146.19 129.24 L146.95 129.07 L147.55 128.89 L147.49 129.71 L147.32 130.83 L146.79 132 L146.05 133.17 L145.3 134.34 L144.28 135.1 L143.51 135.98 L142.79 136.79 L142.12 137.32 L141.74 138.32 L141.37 139.31 L141.61 139.9 L141.54 140.77 L141.78 141.54 L142.07 142.06 L142.08 143.12 L142.09 144.29 L141.84 145.16 L140.42 146.1 L139.63 146.86 L138.99 147.39 L139.19 148.38 L139.23 149.55 L138.94 150.2 L137.91 150.72 L137.77 151.31 L137.53 152.48 L136.89 153.07 L136.28 153.94 L135.37 154.82 L134.59 155.41 L133.89 155.64 L132.87 155.64 L132.12 155.88 L131.13 156.17 L130.57 155.88 L130.35 155.41 L130.35 154.65 L129.96 153.65 L129.61 152.54 L129.15 151.6 L128.94 150.43 L128.72 149.14 L128.24 148.09 L127.76 146.92 L127.42 145.93 L127.49 144.93 L127.81 143.7 L128.44 142.53 L128.19 141.36 L128.1 140.66 L127.75 139.78 L127.7 139.19 L127.5 138.61 L126.83 137.85 L126.17 136.74 L126.22 135.51 L126.37 134.34 L126.42 133.63 L125.96 133.22 L125.29 133.22 L124.52 133.28 L124.01 132.52 L123.6 132.05 L122.73 132.11 L122.06 132.23 L120.94 132.82 L120.17 132.93 L119.4 132.76 L118.63 132.82 L117.61 133.22 L117.09 132.99 L116.33 132.41 L115.56 131.76 L115.05 131.35 L114.7 130.88 L114.65 130.24 L114.05 129.6 L113.65 129.19 L113.14 128.78 L112.95 128.07 L112.71 127.31 L112.56 127.14 L113.08 126.32 L113.3 125.56 L113.22 124.68 L112.99 123.8 L112.9 123.39 L113.34 122.05 L113.75 121.46 L114.23 120.58 L114.85 119.7 L115.75 119.35 L116.51 118.71 L116.68 117.95 L116.65 117.36 L117.26 116.31 L118.1 115.84 L118.45 115.2 L118.61 114.85M146.58 142.82 L147.04 144.7 L146.74 145.46 L146.44 146.22 L145.87 147.8 L145.29 149.55 L144.97 150.37 L144.04 150.72 L143.42 150.31 L143.17 148.97 L143.48 148.21 L143.84 147.21 L143.72 145.98 L144.01 145.28 L144.95 144.93 L145.76 143.99 L146.31 143.12 L146.58 142.82M138.67 118.53 L138.27 117.48 L138.47 116.6 L138.7 115.96 L138.8 115.2 L138.64 114.32 L138.01 114.26 L137.33 114.61 L136.34 114.32 L135.64 114.56 L134.89 114.26 L134.51 113.85 L133.99 113.39 L134.17 112.81 L133.84 112.4 L134.19 112.17 L135.09 111.82 L136.21 111.76 L137.12 111.24 L137.92 111.24 L138.84 111.76 L139.57 111.88 L140.36 111.82 L140.95 111.47 L140.8 110.89 L140.02 110.43 L139.23 109.91 L138.68 109.68 L138.95 108.93 L139.29 108.3 L138.79 108.3 L137.85 108.64 L137.49 109.22 L138.17 109.39 L137.66 109.68 L136.95 109.85 L136.4 109.27 L136.76 108.93 L135.95 108.7 L135.45 108.7 L135.09 109.39 L134.7 109.91 L134.48 110.66 L134.5 111.24 L135.03 111.7 L134.62 111.82 L133.94 112.05 L133.69 111.93 L132.75 111.93 L132.3 112.17 L132.73 112.69 L132.27 112.86 L132.66 113.45 L132.92 113.74 L132.5 114.44 L132.25 114.32 L131.86 114.2 L131.51 113.39 L131.08 112.75 L130.6 112.11 L130.58 111.35 L130.08 110.95 L129.35 110.49 L128.62 110.08 L128.3 109.5 L127.68 109.16 L127.1 109.33 L127.13 109.91 L127.71 110.37 L128.23 111.12 L128.96 111.59 L129.69 111.99 L130.19 112.34 L129.56 112.75 L129.53 113.04 L129.14 113.56 L128.94 113.45 L129.08 112.69 L128.82 112.34 L128.48 112.22 L128.04 111.88 L127.3 111.35 L126.68 110.95 L126.33 110.66 L126.17 110.14 L125.46 109.85 L124.92 110.2 L124.33 110.6 L123.68 110.43 L122.94 110.54 L122.9 111.06 L122.95 111.3 L121.92 111.76 L121.54 112.4 L121.31 112.81 L121.5 113.1 L121.12 113.8 L120.68 114.09 L120.39 114.32 L119.34 114.32 L118.75 114.73 L118.38 114.26 L117.9 114.03 L117.18 114.15 L117.25 113.45 L116.93 113.1 L117.25 112.22 L117.38 111.35 L117.12 110.66 L117.74 110.25 L118.67 110.31 L119.83 110.37 L120.71 110.43 L120.9 109.68 L120.9 108.82 L120.45 108.3 L119.46 107.9 L119.38 107.44 L120.1 107.33 L120.73 107.39 L120.87 106.82 L121.54 106.99 L122.07 106.59 L122.2 106.14 L122.55 106.03 L123.12 105.8 L123.38 105.35 L123.54 104.96 L124.01 104.74 L124.53 104.63 L125.13 104.63 L125.29 104.35 L125.12 103.63 L124.87 102.97 L125.07 102.7 L125.8 102.37 L125.89 102.97 L126.06 103.08 L125.71 103.52 L125.56 103.85 L126.14 104.18 L126.75 104.29 L127.59 104.46 L128.43 104.24 L129.44 104.02 L129.93 104.18 L130.47 103.74 L130.35 102.86 L130.83 102.42 L131.35 102.75 L131.64 102.26 L131.22 101.72 L132.36 101.4 L133.06 101.4 L133.71 101.18 L132.95 100.86 L132.18 100.91 L130.84 101.18 L130.11 100.7 L130.04 99.75 L130.33 99.12 L131.05 98.55 L131.34 98.45 L130.92 98.09 L130.04 98.14 L129.74 98.65 L129.35 99.17 L128.82 99.59 L128.52 100.06 L128.5 100.81 L129.16 101.18 L128.96 101.5 L128.4 102.42 L128.37 102.91 L127.69 103.24 L126.91 103.57 L126.79 103.13 L126.48 102.48 L126.09 101.72 L125.78 101.5 L125.67 101.66 L124.95 102.04 L124.37 102.21 L123.77 101.83 L123.59 101.29 L123.48 100.49 L123.65 99.9 L124.47 99.48 L125.28 99.17 L125.72 98.76 L126.24 98.04 L126.63 97.38 L127.24 96.83 L127.6 96.48 L128.25 96.08 L128.81 95.94 L129.69 95.69 L130.37 95.5 L131.03 95.5 L131.71 95.45 L132.42 95.65 L132.91 95.84 L132.54 96.08 L133.3 96.04 L133.9 96.33 L135.07 96.48 L135.91 96.78 L136.78 97.13 L137.16 97.58 L136.86 97.83 L136.18 97.99 L135.13 97.93 L134.46 97.63 L133.89 97.48 L134.28 97.78 L134.89 98.04 L135.09 98.76 L135.85 98.96 L136.08 99.07 L136.44 98.7 L137.07 98.7 L137.25 98.55 L136.96 98.14 L137.73 97.78 L138.38 97.88 L138.26 97.33 L137.92 96.83 L138.77 96.88 L139.07 97.18 L138.69 97.48 L139.69 97.58 L140.02 97.18 L140.96 96.73 L141.54 96.53 L142.29 96.78 L143 96.68 L143.73 96.73 L143.78 96.04 L145 96.23 L145.61 96.33 L146.55 96.53 L147.17 96.83 L147.22 96.53 L146.68 96.13 L146.18 96.04 L145.73 95.36 L146.04 94.88 L146.1 94.55 L146.77 94.46 L147.44 94.74 L147.7 95.26 L147.54 95.36 L148.09 95.74 L148.53 96.48 L149.09 96.78 L149.2 97.13 L148.85 97.68 L149.24 97.83 L149.7 97.08 L149.39 96.48 L148.95 96.38 L148.53 95.74 L147.99 95.26 L148.33 94.93 L148.19 94.6 L148.86 95.07 L149.58 94.83 L150.85 95.12 L150.19 94.74 L149.91 94.27 L150.65 94.22 L151.9 94.13 L151.51 93.67 L151.86 93.53 L152.85 93.26 L153.72 93.12 L154.4 93.12 L154.7 92.94 L155.48 92.94 L155.35 92.72 L156.02 92.42 L156.76 92.55 L157.58 92.9 L158.81 92.85 L159.82 93.03 L160.42 93.26 L160.48 93.49 L160.47 93.67 L160.34 94.08 L161.15 94.18 L162.08 94.22 L163.3 94.27 L163.65 94.5 L165.2 94.55 L165.07 94.22 L166.15 94.27 L167.06 94.5 L167.69 94.83 L167.8 95.12 L168.58 95.41 L169.4 95.6 L169.13 95.12 L169.99 95.31 L170.42 95.17 L171.35 95.36 L172.1 95.26 L171.27 94.83 L171.79 94.74 L172.91 94.93 L174.02 94.93 L175.1 94.93 L175.83 95.21 L177.28 95.6 L178.64 95.5 L179.7 95.55 L180.23 95.89 L181.41 96.28 L182.13 96.13 L183.61 96.18 L184.93 96.63 L185.16 96.48 L184.24 95.94 L185.6 96.08 L186.45 96.04 L187.76 96.28 L188.59 96.48M54.31 96.48 L54.71 96.83 L54.87 97.38 L55.65 97.53 L55.96 97.93 L55.03 98.19 L53.86 98.76 L53.1 98.6 L52.36 98.29 L51.29 98.5M191.61 98.5 L191.47 98.76 L190.89 98.7 L191.6 98.96 L192.42 99.38 L193.33 99.9 L192.39 99.8 L191.76 100.17 L191.46 100.22 L191.33 100.59 L191.19 100.97 L191.29 101.18 L190.26 100.81 L189.72 101.23 L189.25 101.02 L189.21 101.29 L188.5 101.18 L188.94 102.1 L189.19 102.31 L189.81 102.42 L190.61 103.19 L190.25 103.24 L190.55 103.68 L190.95 103.91 L190.57 104.24 L191.01 104.85 L190.49 104.98 L190.92 105.58 L190.77 106.08 L190.24 105.69 L189.27 104.85 L187.8 103.63 L187.22 102.86 L187.25 102.53 L187.01 102.31 L187.56 102.21 L187.52 101.5 L187.6 100.97 L187.82 100.54 L187.17 99.75 L186.75 99.8 L187.09 100.27 L186.74 100.86 L185.6 100.17 L184.8 100.38 L184.75 101.23 L185.49 101.61 L184.7 101.72 L184.14 101.77 L183.73 101.4 L183 101.29 L182.75 101.56 L181.46 101.5 L180.26 101.66 L179.92 102.7 L179.47 104.02 L180.21 104.07 L180.72 104.42 L181.24 104.52 L181.28 104.27 L181.78 104.29 L182.93 104.91 L183.4 105.41 L183.52 105.97 L184.01 106.65 L184.52 107.56 L184.4 108.36 L184.5 108.76 L184.36 109.45 L184.13 110.09 L184.06 110.43 L183.63 110.77 L183.35 110.77 L182.89 110.49 L182.49 110.89 L182.58 111.12 L182.35 111.06 L182.26 111.47 L182.49 111.88 L182.32 111.99 L182.19 112.28 L182 112.46 L181.8 112.51 L181.95 112.81 L181.93 112.86 L182.53 113.21 L183.3 113.91 L183.61 114.26 L183.93 114.96 L183.86 115.26 L183.48 115.37 L183.19 115.61 L182.78 115.67 L182.61 115.37 L182.5 114.91 L182.01 114.32 L182.34 114.2 L181.78 113.74 L181.49 113.62 L181.47 113.68 L180.96 113.5 L180.99 113.27 L181.03 113.15 L180.72 112.63 L180.25 112.46 L179.68 112.63 L179.41 112.86 L179 113.04 L179.12 112.75 L178.92 112.54 L179.11 112.17 L178.68 111.88 L178.39 112.05 L178.03 112.46 L177.91 112.81 L177.47 112.86 L177.36 113.15 L177.81 113.5 L178.24 113.62 L178.37 113.91 L178.81 114.03 L179.15 113.62 L179.69 113.85 L180.02 113.85 L180.22 114.2 L179.6 114.32 L179.51 114.67 L179.2 114.96 L179.13 115.37 L179.73 115.67 L180.15 116.25 L180.64 116.78 L181.15 117.25 L181.31 117.71 L181.06 117.83 L181.27 118.18 L181.63 118.36 L181.72 119.3 L181.44 119.35 L181.25 119.94 L181.06 120.76 L180.77 121.46 L180.18 121.99 L179.57 122.46 L179.03 122.51 L178.78 122.81 L178.55 122.63 L178.29 122.87 L177.63 123.16 L177.15 123.27 L177.05 123.92 L176.8 123.92 L176.59 123.51 L176.7 123.27 L175.96 123.1 L175.77 123.16 L175.2 123.04 L175.1 123.68 L174.83 124.21 L174.8 124.62 L175.25 125.26 L175.87 126.03 L176.37 126.38 L176.74 126.85 L177.08 127.96 L177.13 128.95 L176.76 129.36 L176.18 129.71 L175.81 130.24 L175.23 130.77 L175.01 130.42 L175.13 130.01 L174.69 129.65 L174.28 129.6 L174.05 129.24 L173.74 128.66 L173.26 128.43 L172.8 128.43 L172.84 127.96 L172.4 127.96 L172.41 128.6 L172.23 129.48 L172.11 129.97 L172.5 130.42 L172.74 130.94 L172.87 131.47 L173.14 131.76 L173.46 131.88 L173.73 132.17 L174.19 132.58 L174.43 132.93 L174.45 133.46 L174.4 133.63 L174.46 133.81 L174.52 134.16 L174.73 134.34 L174.9 134.86 L174.54 135.1 L174.07 134.63 L173.44 134.16 L173.27 133.63 L173.07 133.52 L173 132.99 L172.78 132.7 L172.81 132.29 L172.7 132 L172.48 131.82 L172.36 131.53 L172.08 131.18 L171.82 130.88 L171.73 131.23 L171.66 130.88 L171.69 130.53 L171.8 129.95 L171.84 129.13 L171.61 128.78 L171.6 128.13 L171.37 127.84 L171.14 127.14 L170.95 126.38 L170.68 125.91 L170.37 126.2 L169.86 126.61 L169.55 126.55 L169.23 126.44 L169.28 125.67 L169.11 125.15 L168.61 124.45 L168.69 124.27 L168.37 124.15 L167.96 123.68 L167.77 123.39 L167.67 123.1 L167.53 122.81 L167.28 122.46 L166.83 122.46 L166.91 122.69 L166.81 123.04 L166.55 122.92 L166.5 122.98 L166.35 122.94 L166.14 122.87 L166.12 123.1 L165.77 123.1 L165.17 123.22 L165.24 123.68 L165.02 123.98 L164.37 124.39 L163.85 125.09 L163.54 125.44 L163.08 125.85 L163.1 126.08 L162.87 126.26 L162.43 126.44 L162.18 126.49 L162.08 126.96 L162.25 127.72 L162.34 128.19 L162.17 128.72 L162.24 129.71 L161.94 129.77 L161.76 130.24 L161.92 130.42 L161.47 130.59 L161.29 130.94 L161.09 131.14 L160.6 130.59 L160.3 129.77 L160.06 129.19 L159.89 128.89 L159.6 128.37 L159.39 127.61 L159.26 127.25 L158.73 126.44 L158.42 125.32 L158.19 124.56 L158.11 123.86 L157.95 123.27 L157.28 123.63 L156.92 123.57 L156.19 122.87 L156.37 122.63 L156.2 122.46 L155.59 121.93 L155.17 121.81 L154.97 121.34 L154.57 120.93 L153.63 121.05 L152.84 121.05 L152.14 121.11 L151.18 120.93 L150.61 120.82 L150.06 120.76 L149.76 120.02 L149.51 119.94 L149.13 120.02 L148.66 120.29 L148.04 120.11 L147.49 119.65 L146.97 119.47 L146.61 118.94 L146.12 118.18 L145.88 118.24 L145.51 118.07 L145.39 118.3 L145.08 118.25 L145.23 118.53 L145.19 118.65 L145.39 119.06 L145.65 119.59 L145.91 119.7 L146.04 119.94 L146.41 120.17 L146.41 120.64 L146.48 120.82 L146.64 120.99 L146.76 121.17 L146.82 121.29 L146.98 121.4 L147.13 121.4 L147.25 121.64 L147.36 121.75 L147.75 121.64 L148.46 121.69 L148.91 121.23 L149.08 120.93 L149.38 120.52 L149.51 120.35 L149.57 120.41 L149.55 120.64 L149.51 120.76 L149.61 121.23 L149.85 121.64 L150.17 121.81 L150.53 121.93 L150.84 121.99 L151.29 122.51 L151.45 122.63 L151.46 122.75 L151.26 123.27 L151.08 123.45 L150.91 123.86 L150.65 123.8 L150.57 123.98 L150.54 124.27 L150.62 124.62 L150.58 124.74 L150.33 124.74 L150.04 124.91 L150.01 125.21 L149.92 125.32 L149.62 125.32 L149.43 125.5 L149.45 125.73 L149.2 125.88 L148.9 125.85 L148.61 126.03 L148.35 126.03 L148.01 126.2 L147.93 126.49 L147.94 126.67 L147.45 126.9 L146.65 127.2 L146.22 127.61 L145.97 127.66 L145.81 127.61 L145.57 127.84 L145.22 127.96 L144.81 128.02 L144.66 128.02 L144.57 128.19 L144.42 128.22 L144.37 128.37 L144.12 128.37 L143.97 128.43 L143.61 128.43 L143.44 128.07 L143.48 127.72 L143.37 127.55 L143.25 127.14 L143.08 126.9 L143.18 126.85 L143.12 126.61 L143.16 126.49 L143.15 126.26 L143.03 125.97 L142.87 125.79 L142.85 125.56 L142.59 125.38 L142.26 124.86 L142.08 124.39 L141.7 123.98 L141.5 123.92 L141.11 123.33 L141.03 122.92 L141.06 122.57 L140.72 121.93 L140.46 121.69 L140.2 121.58 L140.02 121.23 L140.02 121.11 L139.85 120.82 L139.69 120.7 L139.45 120.23 L139.12 119.76 L138.84 119.35 L138.59 119.35 L138.66 119.06 L138.64 118.83 L138.67 118.53 L138.44 119.41 L138.27 119.65 L137.83 119.18 L137.51 118.3M118.91 106.59 L119.59 106.42 L120.12 106.25 L121.01 106.2 L122.02 105.97 L121.71 105.8 L122.19 105.19 L122.15 105.02 L121.54 104.79 L121.49 104.63 L121.19 104.13 L120.93 104.07 L120.77 103.57 L120.52 103.3 L120.26 103.13 L120.65 102.64 L120.7 102.42 L120.19 102.37 L119.73 102.42 L120.16 101.88 L119.37 101.88 L119.11 102.31 L118.92 102.75 L119.08 103.13 L118.93 103.68 L119.31 103.8 L119.34 104.07 L119.9 104.07 L120.03 104.29 L120.2 104.46 L120.1 104.74 L119.45 104.79 L119.61 105.35 L119.12 105.58 L119.6 105.75 L119.95 105.86 L119.29 106.03 L118.91 106.59M118.77 104.46 L118.82 105.41 L118.47 105.41 L117.67 105.69 L117.1 105.63 L117.34 105.19 L117.11 104.74 L117.35 104.35 L117.79 104.13 L118.2 103.8 L118.58 103.74 L119 104.07 L118.77 104.46M112.54 99.07 L112.9 98.81 L112.09 98.55 L112.81 98.45 L112.04 98.19 L112.42 97.83 L112.96 97.78 L113.48 98.14 L114.15 97.83 L114.59 97.99 L115.24 97.73 L115.89 97.73 L115.77 98.09 L116.15 98.45 L115.61 98.81 L114.05 99.28 L113.35 99.17 L112.54 99.07M125.04 92.03 L125.3 91.62 L126.56 91.5 L127.16 91.34 L128.42 91.3 L130.04 91.42 L129.5 91.7 L128.3 92.03 L127.75 92.46 L127.18 92.9 L126.44 92.55 L125.9 92.29 L125.04 92.03M140.46 95.26 L140.52 94.36 L141.08 93.81 L141.55 93.21 L142.45 93.03 L143.59 92.77 L144.68 92.94 L144.04 93.35 L142.78 93.76 L142.03 94.22 L141.77 94.69 L141.8 95.41 L142.5 95.69 L141.07 95.55 L140.46 95.26M152.09 91.74 L152.37 91.34 L152.8 91.07 L155.05 91.78 L154.41 92.03 L154.24 92.29 L152.83 92.07 L152.09 91.74M168.56 93.49 L168.67 93.12 L170.33 93.3 L171.65 93.49 L172.36 93.39 L173.35 93.58 L172.1 93.76 L170.92 94.13 L169.6 93.94 L168.56 93.49M136.62 91.26 L137.7 91 L139.48 90.89 L140.98 91.19 L139.3 91.46 L137.39 91.46M56.46 95.26 L56.95 95.41 L56.35 95.55 L55.92 95.5M185.04 115.96 L185.2 115.67 L185.48 115.08 L186.36 114.91 L186.97 114.96 L187.04 114.2 L187.35 114.26 L187.72 113.85 L187.94 113.45 L187.85 112.75 L187.4 112.05 L187.37 111.7 L187.82 111.59 L188.33 112.28 L188.86 112.86 L188.7 113.45 L188.99 114.09 L189.08 114.56 L189.32 114.85 L188.98 115.14 L188.82 115.32 L188.5 115.55 L187.82 115.55 L187.8 115.72 L187.52 116.19 L186.9 115.55 L186.08 115.67 L185.67 115.96 L185.04 115.96M184.62 116.37 L184.81 116.72 L185.3 117.48 L185.62 117.54 L185.87 117.42 L185.84 116.72 L185.6 116.25 L185.04 115.96 L184.62 116.37M185.99 116.49 L186.35 116.66 L186.96 116.02 L186.76 115.78 L186.13 115.9 L185.99 116.49M187.13 111.53 L186.98 111.06 L186.68 110.89 L187.08 110.43 L186.44 109.33 L186.59 109.22 L187.93 109.97 L189.02 110.49 L188.53 110.72 L188.44 111.24 L187.47 110.89 L187.6 111.53 L187.13 111.53M186.35 108.93 L186.99 108.87 L186.23 108.19 L185.66 107.05 L186.33 107.27 L184.38 105.63 L183.83 104.79 L182.84 104.18 L183.02 104.57 L183.71 105.35 L183.63 105.58 L185.07 107.33 L185.71 107.96 L186.35 108.93M181.65 122.34 L181.77 121.46 L182.06 120.99 L182.33 121.17 L182.27 122.16 L182.12 122.98 L181.72 122.46 L181.65 122.34M176.25 124.56 L176.63 124.09 L177.22 124.04 L177.41 124.27 L177.3 124.8 L176.8 125.15 L176.37 124.97 L176.25 124.56M182.38 124.97 L183.27 125.15 L183.33 125.79 L183.19 126.49 L183.15 126.96 L183.32 127.43 L184.02 127.72 L184.52 128.07 L184.68 128.48 L184.23 128.19 L183.86 128.02 L183.25 127.66 L182.84 127.66 L182.72 127.14 L182.31 126.73 L182.23 126.2 L182.46 126.38 L182.37 125.5 L182.38 124.97M183.89 131.76 L184.32 131.23 L184.97 131 L185.55 130.59 L185.77 130.24 L186.08 130.88 L186.18 131.59 L186.07 132.11 L185.68 132.52 L185.48 131.82 L184.94 132.17 L184.84 131.41 L184.33 131.35 L183.89 131.76M183.65 129.36 L184.22 129.01 L185.08 128.48 L185.52 129.19 L185.28 129.83 L184.93 129.95 L184.45 130.36 L184.02 130.01 L183.65 129.36M181.38 130.88 L182.45 129.65 L182.53 129.36 L182.29 129.6 L181.57 130.71 L181.38 130.88M177.41 134.92 L177.71 134.63 L178.07 134.81 L178.48 134.69 L178.57 134.22 L179.39 133.99 L179.73 133.52 L180.17 133.11 L180.61 132.64 L180.95 132.23 L181.18 131.76 L181.66 132.05 L181.72 132.29 L182.51 132.64 L182.47 132.87 L182.11 132.89 L182.23 133.17 L181.88 133.4 L181.59 133.93 L182.02 134.45 L181.92 134.75 L182.5 135.27 L181.88 135.33 L181.73 135.74 L181.73 136.27 L181.26 136.68 L181.19 137.26 L180.96 138.14 L180.4 138.02 L180.15 137.85 L179.54 137.61 L178.92 137.85 L178.72 137.56 L178.36 137.56 L177.95 137.5 L177.92 136.74 L177.67 136.39 L177.42 136.09 L177.37 135.57 L177.41 134.92M170.26 132.58 L171.4 132.76 L171.88 133.28 L172.57 133.93 L173.04 134.57 L173.61 134.57 L174.34 135.45 L174.7 135.74 L174.49 136.21 L175 136.44 L175.25 137.15 L175.85 137.61 L175.72 138.32 L175.63 139.25 L175.07 139.25 L174.68 138.73 L174.03 138.26 L173.44 137.44 L173.2 137.03 L172.8 136.21 L172.4 135.68 L172.02 134.75 L171.55 134.34 L171.28 133.87 L170.86 133.52 L170.33 132.87 L170.26 132.58M175.61 139.66 L175.99 139.28 L176.91 139.37 L177.19 139.78 L178.01 139.84 L178.28 139.55 L179.08 139.84 L179.16 140.25 L180.02 140.37 L180.03 140.95 L179.49 140.66 L179.03 140.72 L178.47 140.66 L178.02 140.54 L177.42 140.31 L176.85 140.37 L176.2 140.13 L175.95 140.07 L175.4 139.84 L175.61 139.66M180.41 140.66 L180.76 140.72 L181.79 140.72 L182.29 140.83 L183.07 140.66 L184.25 140.54 L183.3 141.01 L182.27 141.07 L181.24 141.13 L180.74 141.01 L180.41 140.66M184.77 141.77 L185.37 141.3 L186.39 140.66 L185.39 141.01 L184.8 141.42 L184.77 141.77M182.61 138.96 L182.74 138.32 L182.71 137.85 L182.37 137.44 L182.58 137.03 L182.91 135.68 L183.06 135.45 L183.47 135.04 L184.5 135.27 L185.11 135.27 L185.62 134.86 L185.27 135.57 L184.91 135.68 L184.4 135.57 L183.58 135.57 L183.12 135.68 L183.06 136.09 L183.46 136.62 L183.78 136.39 L184.7 136.15 L183.77 136.91 L184.26 137.67 L184.09 137.85 L184.56 138.9 L184.25 139.02 L184.07 138.43 L183.77 138.26 L183.45 138.49 L183.43 137.91 L183.17 139.02 L182.61 138.96M187.04 134.51 L187.47 135.16 L187.17 135.57 L187.42 136.21 L186.96 135.98 L186.85 135.1 L187.04 134.51M187.07 137.79 L188.36 137.56 L188.49 138.08 L187.22 137.91 L187.07 137.79M188.65 136.56 L189.37 136.03 L190.19 136.27 L190.36 137.44 L190.92 137.79 L191.93 136.68 L192.38 136.79 L193.19 137.2 L193.75 137.32 L194.61 137.73 L195.57 138.08 L196.15 138.78 L196.18 139.02 L197.03 139.37 L197.16 139.66 L196.65 139.72 L196.77 140.13 L197.2 140.48 L197.45 141.13 L197.95 141.18 L197.73 141.36 L198.44 141.83 L198.01 142.06 L196.98 141.71 L196.6 141.36 L196.12 140.54 L195.48 140.25 L195.06 140.42 L194.73 140.6 L194.74 141.07 L194.32 141.24 L193.51 141.13 L193.09 140.66 L192.59 140.54 L192.47 140.72 L191.81 140.72 L192.05 140.25 L192.42 140.07 L192.32 139.43 L192.09 138.96 L191.14 138.43 L190.73 138.43 L189.99 137.85 L189.82 138.14 L189.51 138.2 L189.52 137.97 L189.13 137.44 L189.7 137.26 L189.09 137.09 L188.39 136.33 L188.65 136.56M197.41 139.08 L198.49 139.02 L199.34 138.49 L199.26 139.02 L198.51 139.49 L197.41 139.08M178.45 148.68 L178.21 150.2 L178.29 151.19 L178.18 153.07 L177.84 154.3 L177.78 155.29 L177.25 155.82 L177.84 156.28 L178.5 156.34 L179.67 155.7 L180.45 155.58 L181.54 155.64 L181.99 155.11 L183.1 154.65 L184.58 154.35 L185.8 154.24 L186.32 154.53 L187.01 154.88 L186.97 155.99 L187.06 156.23 L187.93 155.58 L188.67 155.11 L188.19 155.76 L188.4 155.93 L188.36 156.34 L188.53 156.69 L188.43 157.4 L188.58 158.04 L189.06 158.21 L189.7 158.5 L190.41 158.1 L190.97 158.62 L191.76 158.15 L192.32 157.92 L193.18 157.75 L193.62 157.1 L194.49 156.17 L194.98 155.58 L195.62 154.94 L196.36 154.3 L196.95 153.24 L197.53 152.25 L197.7 151.02 L197.73 150.61 L197.41 150.14 L197.07 149.55 L196.99 149.03 L196.81 148.73 L196.52 148.27 L196.38 147.74 L195.79 147.21 L195.35 146.92 L195.34 146.22 L195.26 145.63 L195.16 145.34 L195.21 144.81 L195.09 144.35 L194.81 144.17 L194.48 143.99 L194.48 143.29 L194.18 142.06 L193.93 142.41 L193.68 143.23 L193.42 144.58 L193.18 145.4 L192.61 145.98 L192.31 145.98 L191.95 145.98 L191.66 145.63 L191 145.11 L190.52 144.64 L190.25 144.4 L190.37 143.94 L190.93 143.58 L191.11 143 L190.94 142.76 L190.4 142.94 L189.86 142.76 L189.24 142.47 L189.07 142.59 L188.68 142.41 L188.09 143.12 L187.74 143.47 L187.28 144.23 L187.18 144.58 L186.57 144.58 L186.46 144.29 L186.16 143.88 L185.57 144.11 L185.08 144.35 L184.58 144.93 L183.99 145.46 L183.36 145.93 L182.91 146.74 L182.59 147.15 L181.87 147.51 L181.33 147.74 L180.59 147.92 L180.18 147.97 L179.5 148.38 L179.02 148.56 L178.75 148.97 L178.45 148.68M189.62 159.61 L190.28 159.84 L191.24 159.72 L190.83 160.36 L190.18 161.06 L189.55 161.29 L189.22 161.23 L189.21 160.77 L189.33 160.36 L189.62 159.61M205.18 155.93 L205.49 156.4 L205.48 156.99 L205.45 157.57 L205.84 157.34 L205.73 157.8 L206.15 158.04 L206.79 157.86 L206.34 158.39 L205.9 158.74 L205.18 159.14 L205.05 159.26 L204.1 159.96 L203.55 160.19 L203.49 159.96 L204.08 159.49 L204.18 159.09 L203.96 158.74 L204.5 158.5 L205.08 157.69 L205.22 157.16 L205.4 156.87 L205.05 156.4 L205.18 155.93M202.95 159.49 L202.79 159.96 L203.26 159.96 L203.04 160.25 L202.72 160.48 L202.21 160.88 L201.61 161.17 L201.56 161.46 L201.19 161.46 L200.68 161.63 L200.21 162.04 L199.47 162.61 L198.86 162.9 L198.54 163.01 L198.13 163.01 L198 162.84 L197.54 162.78 L197.59 162.61 L198.19 162.15 L199.25 161.58 L199.62 161.46 L200.77 160.94 L201.27 160.65 L201.82 160.25 L202.09 160.07 L202.4 159.78 L202.95 159.49M162.35 131.82 L162.21 131 L162.36 130.06 L162.74 130.36 L163.02 130.77 L163.3 131.41 L163.23 132 L162.57 132.29 L162.35 131.82M125.77 111.59 L125.94 111.12 L125.82 110.66 L125.51 110.89 L125.52 111.3 L125.77 111.59M125.97 111.88 L126.07 112.11 L126.05 112.86 L125.73 112.98 L125.44 112.86 L125.41 112.17 L125.31 111.82 L125.97 111.88M128.84 113.45 L128.7 114.38 L127.38 113.8 L127.94 113.45 L128.84 113.45M132.88 114.91 L134.15 115.14 L133.16 115.37 L132.8 115.14M137.44 115.55 L138.14 114.91 L137.07 115.26 L137.44 115.55M62.33 179.4 L65.7 179.44 L68.72 179.31 L70.81 178.66 L72.62 178.11 L74.55 177.79 L77.66 177.52 L81.16 177.52 L84.56 177.42 L86.17 177.28 L89.28 176.81 L92.49 176.34 L93.63 175.91 L95.64 175.61 L96.17 174.63 L96.38 173.61 L96.96 172.84 L97.93 171.96 L98.86 172.27 L98.6 173 L98.24 173.87 L98.38 174.87 L98.87 176.1 L99.08 177.05 L99.29 177.79 L101.72 178.43 L104.31 178.79 L106.38 178.88 L108.56 178.52 L111.03 177.79 L114.3 176.81 L117.08 176.1 L119.01 175.56 L121.45 176 L123.29 175.76 L125.14 175.61 L126.99 175.56 L128.82 175.61 L130.63 175.76 L132.54 175.52 L134.48 175.22 L136.4 175.02 L138.47 174.52 L140.52 174.12 L142.55 173.87 L144.29 174.22 L146.11 174.37 L147.92 174.52 L147.78 175.37 L149.17 175.52 L150.71 174.87 L152.63 174.27 L155.17 173.92 L158.01 173.72 L160.1 173.51 L161.94 173.61 L163.78 173.72 L165.37 174.07 L167.33 174.02 L169.45 173.82 L171.48 173.72 L173.51 173.61 L175.03 173.97 L176.46 174.37 L177.72 174.87 L179.27 175.12 L180.58 175.52 L180.97 176 L182.27 176.34 L182.4 176.81 L181.07 177.28 L179.2 177.75 L177.33 178.21 L175.88 178.88 L175.5 179.31 L176.03 179.53 L177.85 179.44 L179.17 179.44 L180.57 179.4M143.78 108.64 L144.84 108.36 L145.67 108.59 L145.78 109.33 L145.01 109.39 L144.98 109.85 L145.97 111.06 L146.29 111.82 L146.75 112.4 L147.08 113.27 L147.3 113.91 L146.42 114.32 L145.55 114.03 L144.89 113.8 L144.74 113.27 L144.78 112.28 L144.21 111.35 L143.55 110.66 L143.43 109.91 L142.97 109.74 L143.22 109.22 L143.78 108.64M148.09 108.59 L149.24 108.64 L149.73 109.5 L149.03 110.31 L148.29 109.62 L148.09 108.59M167.19 105.69 L167.79 105.24 L168.32 104.4 L168.3 103.46 L167.95 103.57 L167.86 104.68 L167.24 105.41 L167.19 105.69M137.87 135.98 L138.79 135.62 L138.89 136.39 L138.48 137.26 L137.76 136.91 L137.87 135.98M136.37 137.79 L136.71 139.31 L137.3 140.83 L137.21 140.07 L136.62 138.61 L136.37 137.79M138.82 141.36 L139.2 142.53 L139.4 144.17 L139.03 143.12 L138.82 141.36M79.54 108.53 L80.47 108.59 L81.42 108.19 L81.58 108.64 L82.9 108.64 L83.05 108.07 L82.81 107.39 L81.64 107.5 L81.06 107.79 L79.54 108.53M80.37 111.24 L80.79 110.08 L81.64 109.05 L82.6 108.93 L82.18 109.39 L81.6 109.79 L81.26 110.66 L80.79 111.24 L80.37 111.24M82.76 108.99 L83.17 109.33 L82.99 109.91 L83.07 110.66 L83.71 109.97 L84.39 109.62 L84.59 109.1 L84 108.87 L82.76 108.99M82.37 111.41 L83.24 111.47 L84.66 110.77 L83.92 110.89 L82.87 111.18 L82.37 111.41M84.39 110.49 L85.23 110.49 L86.1 110.37 L86.15 109.97 L85.37 110.08 L84.61 110.25 L84.39 110.49M78.19 106.37 L78.95 105.8 L78.83 104.52 L78.51 104.68 L78.19 106.37M74.06 100.49 L75.39 100.59 L77.31 99.75 L76.26 99.8 L74.83 100.06 L74.06 100.49M73.37 98.24 L74.19 98.6 L75.75 97.99 L75.67 97.48 L74.27 97.73 L73.37 98.24" fill="none" stroke="#111" stroke-width="1.0" stroke-linejoin="round"/></g><path d="M170.6 88.6 L172.31 89.08 L174.29 89.73 L176.48 90.53 L178.83 91.46 L181.26 92.5 L183.62 93.62 L185.79 94.79 L187.81 95.99 L189.74 97.23 L191.61 98.5 L193.43 99.8 L195.2 101.13 L196.91 102.48 L198.56 103.85 L200.13 105.24 L201.6 106.65 L202.95 108.07 L204.21 109.5 L205.43 110.95 L206.56 112.4 L207.58 113.85 L208.51 115.32 L209.35 116.78 L210.11 118.24 L210.76 119.7 L211.31 121.17 L211.76 122.63 L212.16 124.09 L212.54 125.56 L212.88 127.02 L213.16 128.48 L213.38 129.95 L213.55 131.41 L213.67 132.87 L213.75 134.34 L213.8 135.8 L213.75 137.26 L213.67 138.73 L213.55 140.19 L213.38 141.65 L213.16 143.12 L212.88 144.58 L212.54 146.04 L212.16 147.51 L211.76 148.97 L211.31 150.43 L210.76 151.9 L210.11 153.36 L209.35 154.82 L208.51 156.28 L207.58 157.75 L206.56 159.2 L205.43 160.65 L204.21 162.1 L202.95 163.53 L201.6 164.95 L200.13 166.36 L198.56 167.75 L196.91 169.12 L195.2 170.47 L193.43 171.8 L191.61 173.1 L189.74 174.37 L187.81 175.61 L185.79 176.81 L183.62 177.98 L181.26 179.1 L178.83 180.14 L176.48 181.07 L174.29 181.87 L172.31 182.52 L170.6 183 L72.3 183 L70.59 182.52 L68.61 181.87 L66.42 181.07 L64.07 180.14 L61.64 179.1 L59.28 177.98 L57.11 176.81 L55.09 175.61 L53.16 174.37 L51.29 173.1 L49.47 171.8 L47.7 170.47 L45.99 169.12 L44.34 167.75 L42.77 166.36 L41.3 164.95 L39.95 163.53 L38.69 162.1 L37.47 160.65 L36.34 159.2 L35.32 157.75 L34.39 156.28 L33.55 154.82 L32.79 153.36 L32.14 151.9 L31.59 150.43 L31.14 148.97 L30.74 147.51 L30.36 146.04 L30.02 144.58 L29.74 143.12 L29.52 141.65 L29.35 140.19 L29.23 138.73 L29.15 137.26 L29.1 135.8 L29.15 134.34 L29.23 132.87 L29.35 131.41 L29.52 129.95 L29.74 128.48 L30.02 127.02 L30.36 125.56 L30.74 124.09 L31.14 122.63 L31.59 121.17 L32.14 119.7 L32.79 118.24 L33.55 116.78 L34.39 115.32 L35.32 113.85 L36.34 112.4 L37.47 110.95 L38.69 109.5 L39.95 108.07 L41.3 106.65 L42.77 105.24 L44.34 103.85 L45.99 102.48 L47.7 101.13 L49.47 99.8 L51.29 98.5 L53.16 97.23 L55.09 95.99 L57.11 94.79 L59.28 93.62 L61.64 92.5 L64.07 91.46 L66.42 90.53 L68.61 89.73 L70.59 89.08 L72.3 88.6Z" fill="none" stroke="#555" stroke-width="0.9"/><rect x="107.4" y="158.2" width="8.1" height="8.4" fill="#7b7b7d" stroke="#4a4a4a" stroke-width="0.7"/><text x="119.1" y="164.8" class="nc">No change</text>
<rect x="46.9" y="188.5" width="7.46" height="8.5" fill="#151a4e" stroke="#222" stroke-width="0.6"/><rect x="54.36" y="188.5" width="7.46" height="8.5" fill="#23296b" stroke="#222" stroke-width="0.6"/><rect x="61.82" y="188.5" width="7.46" height="8.5" fill="#2a4a9a" stroke="#222" stroke-width="0.6"/><rect x="69.29" y="188.5" width="7.46" height="8.5" fill="#3064b8" stroke="#222" stroke-width="0.6"/><rect x="76.75" y="188.5" width="7.46" height="8.5" fill="#4a8fd6" stroke="#222" stroke-width="0.6"/><rect x="84.21" y="188.5" width="7.46" height="8.5" fill="#3d85cf" stroke="#222" stroke-width="0.6"/><rect x="91.67" y="188.5" width="7.46" height="8.5" fill="#5aaae5" stroke="#222" stroke-width="0.6"/><rect x="99.13" y="188.5" width="7.46" height="8.5" fill="#82c3ef" stroke="#222" stroke-width="0.6"/><rect x="106.6" y="188.5" width="7.46" height="8.5" fill="#a6d8f5" stroke="#222" stroke-width="0.6"/><rect x="114.06" y="188.5" width="7.46" height="8.5" fill="#dff2fb" stroke="#222" stroke-width="0.6"/><rect x="121.52" y="188.5" width="7.46" height="8.5" fill="#fdf8e0" stroke="#222" stroke-width="0.6"/><rect x="128.98" y="188.5" width="7.46" height="8.5" fill="#fdeeb0" stroke="#222" stroke-width="0.6"/><rect x="136.44" y="188.5" width="7.46" height="8.5" fill="#fcdd80" stroke="#222" stroke-width="0.6"/><rect x="143.9" y="188.5" width="7.46" height="8.5" fill="#fcc24e" stroke="#222" stroke-width="0.6"/><rect x="151.37" y="188.5" width="7.46" height="8.5" fill="#f9a233" stroke="#222" stroke-width="0.6"/><rect x="158.83" y="188.5" width="7.46" height="8.5" fill="#f8a33a" stroke="#222" stroke-width="0.6"/><rect x="166.29" y="188.5" width="7.46" height="8.5" fill="#f57f2a" stroke="#222" stroke-width="0.6"/><rect x="173.75" y="188.5" width="7.46" height="8.5" fill="#ec5a2d" stroke="#222" stroke-width="0.6"/><rect x="181.21" y="188.5" width="7.46" height="8.5" fill="#dd2a2f" stroke="#222" stroke-width="0.6"/><rect x="188.68" y="188.5" width="7.46" height="8.5" fill="#d33ca4" stroke="#222" stroke-width="0.6"/><rect x="196.14" y="188.5" width="7.46" height="8.5" fill="#f6b3bd" stroke="#222" stroke-width="0.6"/><text transform="translate(59.46 206.6) scale(0.92 1)" text-anchor="end" class="tn">−0.9</text><text transform="translate(81.85 206.6) scale(0.92 1)" text-anchor="end" class="tn">−0.6</text><text transform="translate(104.23 206.6) scale(0.92 1)" text-anchor="end" class="tn">−0.3</text><text transform="translate(121.52 206.6) scale(0.92 1)" text-anchor="middle" class="tn">0</text><text transform="translate(143.9 206.6) scale(0.92 1)" text-anchor="middle" class="tn">0.3</text><text transform="translate(166.29 206.6) scale(0.92 1)" text-anchor="middle" class="tn">0.6</text><text transform="translate(188.68 206.6) scale(0.92 1)" text-anchor="middle" class="tn">0.9</text><text x="121.52" y="215" text-anchor="middle" class="t7">Trend <tspan font-size="5.2" dy="-0.7">•</tspan><tspan dy="0.7"> years</tspan></text>
<clipPath id="clipB"><path d="M361.98 88.5 L363.69 88.98 L365.67 89.63 L367.86 90.42 L370.21 91.35 L372.64 92.39 L375 93.51 L377.18 94.67 L379.2 95.87 L381.13 97.11 L383 98.38 L384.82 99.68 L386.59 101 L388.31 102.35 L389.95 103.72 L391.53 105.11 L392.99 106.51 L394.34 107.93 L395.61 109.36 L396.82 110.8 L397.96 112.25 L398.98 113.7 L399.91 115.16 L400.75 116.62 L401.5 118.08 L402.16 119.54 L402.71 121 L403.16 122.46 L403.56 123.92 L403.93 125.38 L404.28 126.84 L404.56 128.3 L404.77 129.76 L404.95 131.22 L405.07 132.68 L405.15 134.14 L405.2 135.6 L405.15 137.06 L405.07 138.52 L404.95 139.98 L404.77 141.44 L404.56 142.9 L404.28 144.36 L403.93 145.82 L403.56 147.28 L403.16 148.74 L402.71 150.2 L402.16 151.66 L401.5 153.12 L400.75 154.58 L399.91 156.04 L398.98 157.5 L397.96 158.95 L396.82 160.4 L395.61 161.84 L394.34 163.27 L392.99 164.69 L391.53 166.09 L389.95 167.48 L388.31 168.85 L386.59 170.2 L384.82 171.52 L383 172.82 L381.13 174.09 L379.2 175.33 L377.18 176.53 L375 177.69 L372.64 178.81 L370.21 179.85 L367.86 180.78 L365.67 181.57 L363.69 182.22 L361.98 182.7 L263.62 182.7 L261.91 182.22 L259.93 181.57 L257.74 180.78 L255.39 179.85 L252.96 178.81 L250.6 177.69 L248.42 176.53 L246.4 175.33 L244.47 174.09 L242.6 172.82 L240.78 171.52 L239.01 170.2 L237.29 168.85 L235.65 167.48 L234.07 166.09 L232.61 164.69 L231.26 163.27 L229.99 161.84 L228.78 160.4 L227.64 158.95 L226.62 157.5 L225.69 156.04 L224.85 154.58 L224.1 153.12 L223.44 151.66 L222.89 150.2 L222.44 148.74 L222.04 147.28 L221.67 145.82 L221.32 144.36 L221.04 142.9 L220.83 141.44 L220.65 139.98 L220.53 138.52 L220.45 137.06 L220.4 135.6 L220.45 134.14 L220.53 132.68 L220.65 131.22 L220.83 129.76 L221.04 128.3 L221.32 126.84 L221.67 125.38 L222.04 123.92 L222.44 122.46 L222.89 121 L223.44 119.54 L224.1 118.08 L224.85 116.62 L225.69 115.16 L226.62 113.7 L227.64 112.25 L228.78 110.8 L229.99 109.36 L231.26 107.93 L232.61 106.51 L234.07 105.11 L235.65 103.72 L237.29 102.35 L239.01 101 L240.78 99.68 L242.6 98.38 L244.47 97.11 L246.4 95.87 L248.42 94.67 L250.6 93.51 L252.96 92.39 L255.39 91.35 L257.74 90.42 L259.93 89.63 L261.91 88.98 L263.62 88.5Z"/></clipPath><path d="M361.98 88.5 L363.69 88.98 L365.67 89.63 L367.86 90.42 L370.21 91.35 L372.64 92.39 L375 93.51 L377.18 94.67 L379.2 95.87 L381.13 97.11 L383 98.38 L384.82 99.68 L386.59 101 L388.31 102.35 L389.95 103.72 L391.53 105.11 L392.99 106.51 L394.34 107.93 L395.61 109.36 L396.82 110.8 L397.96 112.25 L398.98 113.7 L399.91 115.16 L400.75 116.62 L401.5 118.08 L402.16 119.54 L402.71 121 L403.16 122.46 L403.56 123.92 L403.93 125.38 L404.28 126.84 L404.56 128.3 L404.77 129.76 L404.95 131.22 L405.07 132.68 L405.15 134.14 L405.2 135.6 L405.15 137.06 L405.07 138.52 L404.95 139.98 L404.77 141.44 L404.56 142.9 L404.28 144.36 L403.93 145.82 L403.56 147.28 L403.16 148.74 L402.71 150.2 L402.16 151.66 L401.5 153.12 L400.75 154.58 L399.91 156.04 L398.98 157.5 L397.96 158.95 L396.82 160.4 L395.61 161.84 L394.34 163.27 L392.99 164.69 L391.53 166.09 L389.95 167.48 L388.31 168.85 L386.59 170.2 L384.82 171.52 L383 172.82 L381.13 174.09 L379.2 175.33 L377.18 176.53 L375 177.69 L372.64 178.81 L370.21 179.85 L367.86 180.78 L365.67 181.57 L363.69 182.22 L361.98 182.7 L263.62 182.7 L261.91 182.22 L259.93 181.57 L257.74 180.78 L255.39 179.85 L252.96 178.81 L250.6 177.69 L248.42 176.53 L246.4 175.33 L244.47 174.09 L242.6 172.82 L240.78 171.52 L239.01 170.2 L237.29 168.85 L235.65 167.48 L234.07 166.09 L232.61 164.69 L231.26 163.27 L229.99 161.84 L228.78 160.4 L227.64 158.95 L226.62 157.5 L225.69 156.04 L224.85 154.58 L224.1 153.12 L223.44 151.66 L222.89 150.2 L222.44 148.74 L222.04 147.28 L221.67 145.82 L221.32 144.36 L221.04 142.9 L220.83 141.44 L220.65 139.98 L220.53 138.52 L220.45 137.06 L220.4 135.6 L220.45 134.14 L220.53 132.68 L220.65 131.22 L220.83 129.76 L221.04 128.3 L221.32 126.84 L221.67 125.38 L222.04 123.92 L222.44 122.46 L222.89 121 L223.44 119.54 L224.1 118.08 L224.85 116.62 L225.69 115.16 L226.62 113.7 L227.64 112.25 L228.78 110.8 L229.99 109.36 L231.26 107.93 L232.61 106.51 L234.07 105.11 L235.65 103.72 L237.29 102.35 L239.01 101 L240.78 99.68 L242.6 98.38 L244.47 97.11 L246.4 95.87 L248.42 94.67 L250.6 93.51 L252.96 92.39 L255.39 91.35 L257.74 90.42 L259.93 89.63 L261.91 88.98 L263.62 88.5Z" fill="#c6c7c9"/><g clip-path="url(#clipB)"><path d="M255.29 109.36 L257.59 109.36 L259.34 106.51 L257.11 106.51Z" fill="#8dd0c4"/><path d="M253.66 118.08 L256.13 118.08 L257.15 115.16 L254.73 115.16Z" fill="#addfd7"/><path d="M254.73 115.16 L257.15 115.16 L258.39 112.25 L256.03 112.25Z" fill="#addfd7"/><path d="M256.03 112.25 L258.39 112.25 L259.89 109.36 L257.59 109.36Z" fill="#e8f5f3"/><path d="M257.59 109.36 L259.89 109.36 L261.56 106.51 L259.34 106.51Z" fill="#8dd0c4"/><path d="M256.13 118.08 L258.59 118.08 L259.57 115.16 L257.15 115.16Z" fill="#addfd7"/><path d="M257.15 115.16 L259.57 115.16 L260.76 112.25 L258.39 112.25Z" fill="#8d8e90"/><path d="M258.39 112.25 L260.76 112.25 L262.19 109.36 L259.89 109.36Z" fill="#8d8e90"/><path d="M259.89 109.36 L262.19 109.36 L263.79 106.51 L261.56 106.51Z" fill="#8dd0c4"/><path d="M259.57 115.16 L261.99 115.16 L263.13 112.25 L260.76 112.25Z" fill="#c9ebe6"/><path d="M260.76 112.25 L263.13 112.25 L264.49 109.36 L262.19 109.36Z" fill="#8dd0c4"/><path d="M262.19 109.36 L264.49 109.36 L266.02 106.51 L263.79 106.51Z" fill="#addfd7"/><path d="M261.06 118.08 L263.52 118.08 L264.41 115.16 L261.99 115.16Z" fill="#addfd7"/><path d="M261.99 115.16 L264.41 115.16 L265.49 112.25 L263.13 112.25Z" fill="#c9ebe6"/><path d="M263.13 112.25 L265.49 112.25 L266.8 109.36 L264.49 109.36Z" fill="#8dd0c4"/><path d="M264.49 109.36 L266.8 109.36 L268.25 106.51 L266.02 106.51Z" fill="#addfd7"/><path d="M263.52 118.08 L265.98 118.08 L266.83 115.16 L264.41 115.16Z" fill="#8dd0c4"/><path d="M264.41 115.16 L266.83 115.16 L267.86 112.25 L265.49 112.25Z" fill="#addfd7"/><path d="M265.49 112.25 L267.86 112.25 L269.1 109.36 L266.8 109.36Z" fill="#8dd0c4"/><path d="M266.8 109.36 L269.1 109.36 L270.48 106.51 L268.25 106.51Z" fill="#8dd0c4"/><path d="M265.98 118.08 L268.45 118.08 L269.25 115.16 L266.83 115.16Z" fill="#addfd7"/><path d="M267.86 112.25 L270.22 112.25 L271.4 109.36 L269.1 109.36Z" fill="#c9ebe6"/><path d="M269.1 109.36 L271.4 109.36 L272.7 106.51 L270.48 106.51Z" fill="#addfd7"/><path d="M268.45 118.08 L270.91 118.08 L271.67 115.16 L269.25 115.16Z" fill="#addfd7"/><path d="M269.25 115.16 L271.67 115.16 L272.59 112.25 L270.22 112.25Z" fill="#c9ebe6"/><path d="M270.22 112.25 L272.59 112.25 L273.7 109.36 L271.4 109.36Z" fill="#c9ebe6"/><path d="M271.4 109.36 L273.7 109.36 L274.93 106.51 L272.7 106.51Z" fill="#c9ebe6"/><path d="M270.91 118.08 L273.38 118.08 L274.09 115.16 L271.67 115.16Z" fill="#addfd7"/><path d="M271.67 115.16 L274.09 115.16 L274.95 112.25 L272.59 112.25Z" fill="#c9ebe6"/><path d="M272.59 112.25 L274.95 112.25 L276 109.36 L273.7 109.36Z" fill="#addfd7"/><path d="M273.7 109.36 L276 109.36 L277.16 106.51 L274.93 106.51Z" fill="#c9ebe6"/><path d="M257.11 106.51 L259.34 106.51 L261.36 103.72 L259.22 103.72Z" fill="#f4f0e6"/><path d="M274.95 112.25 L277.32 112.25 L278.3 109.36 L276 109.36Z" fill="#c9ebe6"/><path d="M278.3 109.36 L280.6 109.36 L281.61 106.51 L279.39 106.51Z" fill="#8dd0c4"/><path d="M280.6 109.36 L282.9 109.36 L283.84 106.51 L281.61 106.51Z" fill="#8dd0c4"/><path d="M260.36 121 L262.85 121 L263.52 118.08 L261.06 118.08Z" fill="#c9ebe6"/><path d="M248.45 98.38 L250.4 98.38 L253.78 95.87 L251.93 95.87Z" fill="#f4f0e6"/><path d="M247.21 101 L249.26 101 L252.35 98.38 L250.4 98.38Z" fill="#e8f5f3"/><path d="M252.35 98.38 L254.3 98.38 L257.47 95.87 L255.62 95.87Z" fill="#8d8e90"/><path d="M251.31 101 L253.36 101 L256.25 98.38 L254.3 98.38Z" fill="#f4f0e6"/><path d="M257.46 101 L259.51 101 L262.1 98.38 L260.15 98.38Z" fill="#f4f0e6"/><path d="M260.15 98.38 L262.1 98.38 L264.85 95.87 L263 95.87Z" fill="#8d8e90"/><path d="M274.35 132.68 L276.92 132.68 L277.03 129.76 L274.48 129.76Z" fill="#e9cc92"/><path d="M276.92 138.52 L279.48 138.52 L279.43 135.6 L276.87 135.6Z" fill="#f4f0e6"/><path d="M279.48 138.52 L282.04 138.52 L282 135.6 L279.43 135.6Z" fill="#f4f0e6"/><path d="M287.25 141.44 L289.81 141.44 L289.73 138.52 L287.17 138.52Z" fill="#8d8e90"/><path d="M289.81 141.44 L292.36 141.44 L292.3 138.52 L289.73 138.52Z" fill="#8d8e90"/><path d="M287.39 144.36 L289.93 144.36 L289.81 141.44 L287.25 141.44Z" fill="#f3e7cc"/><path d="M277.23 144.36 L279.77 144.36 L279.59 141.44 L277.03 141.44Z" fill="#f4f0e6"/><path d="M264.1 138.52 L266.66 138.52 L266.6 135.6 L264.03 135.6Z" fill="#f4f0e6"/><path d="M231.49 126.84 L234.03 126.84 L234.65 123.92 L232.13 123.92Z" fill="#f4f0e6"/><path d="M237.17 147.28 L239.69 147.28 L239.11 144.36 L236.57 144.36Z" fill="#f4f0e6"/><path d="M272.84 121 L275.34 121 L275.84 118.08 L273.38 118.08Z" fill="#addfd7"/><path d="M278.3 161.84 L280.6 161.84 L279.68 158.95 L277.32 158.95Z" fill="#8d8e90"/><path d="M277.32 158.95 L279.68 158.95 L278.93 156.04 L276.51 156.04Z" fill="#e8f5f3"/><path d="M276.51 156.04 L278.93 156.04 L278.3 153.12 L275.84 153.12Z" fill="#8dd0c4"/><path d="M274.99 147.28 L277.51 147.28 L277.23 144.36 L274.69 144.36Z" fill="#c9ebe6"/><path d="M280.6 161.84 L282.9 161.84 L282.05 158.95 L279.68 158.95Z" fill="#8d8e90"/><path d="M279.68 158.95 L282.05 158.95 L281.35 156.04 L278.93 156.04Z" fill="#e8f5f3"/><path d="M278.93 156.04 L281.35 156.04 L280.77 153.12 L278.3 153.12Z" fill="#68bcae"/><path d="M277.51 147.28 L280.03 147.28 L279.77 144.36 L277.23 144.36Z" fill="#c9ebe6"/><path d="M281.35 156.04 L283.76 156.04 L283.23 153.12 L280.77 153.12Z" fill="#68bcae"/><path d="M280.33 150.2 L282.83 150.2 L282.55 147.28 L280.03 147.28Z" fill="#addfd7"/><path d="M280.03 147.28 L282.55 147.28 L282.31 144.36 L279.77 144.36Z" fill="#c9ebe6"/><path d="M284.41 158.95 L286.78 158.95 L286.18 156.04 L283.76 156.04Z" fill="#68bcae"/><path d="M283.76 156.04 L286.18 156.04 L285.7 153.12 L283.23 153.12Z" fill="#68bcae"/><path d="M283.23 153.12 L285.7 153.12 L285.33 150.2 L282.83 150.2Z" fill="#e8f5f3"/><path d="M282.55 147.28 L285.07 147.28 L284.85 144.36 L282.31 144.36Z" fill="#e8f5f3"/><path d="M285.7 153.12 L288.16 153.12 L287.83 150.2 L285.33 150.2Z" fill="#68bcae"/><path d="M285.33 150.2 L287.83 150.2 L287.59 147.28 L285.07 147.28Z" fill="#addfd7"/><path d="M285.07 147.28 L287.59 147.28 L287.39 144.36 L284.85 144.36Z" fill="#c9ebe6"/><path d="M280.65 167.48 L282.8 167.48 L281.61 164.69 L279.39 164.69Z" fill="#8d8e90"/><path d="M282.8 167.48 L284.94 167.48 L283.84 164.69 L281.61 164.69Z" fill="#8d8e90"/><path d="M281.61 164.69 L283.84 164.69 L282.9 161.84 L280.6 161.84Z" fill="#8d8e90"/><path d="M310.66 103.72 L312.8 103.72 L312.8 101 L310.75 101Z" fill="#addfd7"/><path d="M314.94 103.72 L317.09 103.72 L316.9 101 L314.85 101Z" fill="#c9ebe6"/><path d="M314.85 101 L316.9 101 L316.7 98.38 L314.75 98.38Z" fill="#addfd7"/><path d="M317.09 103.72 L319.23 103.72 L318.95 101 L316.9 101Z" fill="#8d8e90"/><path d="M316.9 101 L318.95 101 L318.65 98.38 L316.7 98.38Z" fill="#addfd7"/><path d="M319.23 103.72 L321.37 103.72 L321 101 L318.95 101Z" fill="#8d8e90"/><path d="M318.95 101 L321 101 L320.6 98.38 L318.65 98.38Z" fill="#addfd7"/><path d="M318.65 98.38 L320.6 98.38 L320.18 95.87 L318.33 95.87Z" fill="#c9ebe6"/><path d="M321.37 103.72 L323.52 103.72 L323.05 101 L321 101Z" fill="#c9ebe6"/><path d="M321 101 L323.05 101 L322.55 98.38 L320.6 98.38Z" fill="#c9ebe6"/><path d="M323.52 103.72 L325.66 103.72 L325.1 101 L323.05 101Z" fill="#e8f5f3"/><path d="M323.05 101 L325.1 101 L324.5 98.38 L322.55 98.38Z" fill="#addfd7"/><path d="M312.8 109.36 L315.1 109.36 L315.03 106.51 L312.8 106.51Z" fill="#addfd7"/><path d="M317.4 109.36 L319.7 109.36 L319.48 106.51 L317.26 106.51Z" fill="#c9ebe6"/><path d="M317.26 106.51 L319.48 106.51 L319.23 103.72 L317.09 103.72Z" fill="#e8f5f3"/><path d="M319.48 106.51 L321.71 106.51 L321.37 103.72 L319.23 103.72Z" fill="#c9ebe6"/><path d="M322 109.36 L324.3 109.36 L323.94 106.51 L321.71 106.51Z" fill="#8d8e90"/><path d="M321.71 106.51 L323.94 106.51 L323.52 103.72 L321.37 103.72Z" fill="#8d8e90"/><path d="M324.3 109.36 L326.6 109.36 L326.17 106.51 L323.94 106.51Z" fill="#e8f5f3"/><path d="M323.94 106.51 L326.17 106.51 L325.66 103.72 L323.52 103.72Z" fill="#c9ebe6"/><path d="M326.6 109.36 L328.9 109.36 L328.39 106.51 L326.17 106.51Z" fill="#8d8e90"/><path d="M326.17 106.51 L328.39 106.51 L327.8 103.72 L325.66 103.72Z" fill="#8d8e90"/><path d="M325.66 103.72 L327.8 103.72 L327.15 101 L325.1 101Z" fill="#8d8e90"/><path d="M310.43 112.25 L312.8 112.25 L312.8 109.36 L310.5 109.36Z" fill="#e8f5f3"/><path d="M325.1 101 L327.15 101 L326.45 98.38 L324.5 98.38Z" fill="#e8f5f3"/><path d="M324.5 98.38 L326.45 98.38 L325.71 95.87 L323.87 95.87Z" fill="#f4f0e6"/><path d="M327.15 101 L329.2 101 L328.4 98.38 L326.45 98.38Z" fill="#8d8e90"/><path d="M331.2 109.36 L333.5 109.36 L332.85 106.51 L330.62 106.51Z" fill="#e8f5f3"/><path d="M330.62 106.51 L332.85 106.51 L332.09 103.72 L329.95 103.72Z" fill="#f4f0e6"/><path d="M329.95 103.72 L332.09 103.72 L331.25 101 L329.2 101Z" fill="#8d8e90"/><path d="M333.5 109.36 L335.8 109.36 L335.08 106.51 L332.85 106.51Z" fill="#addfd7"/><path d="M332.09 103.72 L334.23 103.72 L333.3 101 L331.25 101Z" fill="#e8f5f3"/><path d="M331.25 101 L333.3 101 L332.3 98.38 L330.35 98.38Z" fill="#f4f0e6"/><path d="M330.35 98.38 L332.3 98.38 L331.24 95.87 L329.4 95.87Z" fill="#8d8e90"/><path d="M338.1 109.36 L340.4 109.36 L339.53 106.51 L337.3 106.51Z" fill="#e8f5f3"/><path d="M337.3 106.51 L339.53 106.51 L338.52 103.72 L336.37 103.72Z" fill="#addfd7"/><path d="M339.53 106.51 L341.76 106.51 L340.66 103.72 L338.52 103.72Z" fill="#f4f0e6"/><path d="M342.7 109.36 L345 109.36 L343.99 106.51 L341.76 106.51Z" fill="#e8f5f3"/><path d="M340.66 103.72 L342.8 103.72 L341.5 101 L339.45 101Z" fill="#e8f5f3"/><path d="M345 109.36 L347.3 109.36 L346.21 106.51 L343.99 106.51Z" fill="#e8f5f3"/><path d="M341.5 101 L343.55 101 L342.05 98.38 L340.1 98.38Z" fill="#8d8e90"/><path d="M346.21 106.51 L348.44 106.51 L347.09 103.72 L344.95 103.72Z" fill="#addfd7"/><path d="M344.95 103.72 L347.09 103.72 L345.6 101 L343.55 101Z" fill="#f4f0e6"/><path d="M343.55 101 L345.6 101 L344 98.38 L342.05 98.38Z" fill="#e8f5f3"/><path d="M342.05 98.38 L344 98.38 L342.31 95.87 L340.47 95.87Z" fill="#addfd7"/><path d="M348.44 106.51 L350.67 106.51 L349.23 103.72 L347.09 103.72Z" fill="#addfd7"/><path d="M344 98.38 L345.95 98.38 L344.15 95.87 L342.31 95.87Z" fill="#addfd7"/><path d="M350.67 106.51 L352.9 106.51 L351.38 103.72 L349.23 103.72Z" fill="#addfd7"/><path d="M349.23 103.72 L351.38 103.72 L349.7 101 L347.65 101Z" fill="#f4f0e6"/><path d="M347.65 101 L349.7 101 L347.9 98.38 L345.95 98.38Z" fill="#addfd7"/><path d="M345.95 98.38 L347.9 98.38 L346 95.87 L344.15 95.87Z" fill="#addfd7"/><path d="M352.9 106.51 L355.12 106.51 L353.52 103.72 L351.38 103.72Z" fill="#f4f0e6"/><path d="M355.12 106.51 L357.35 106.51 L355.66 103.72 L353.52 103.72Z" fill="#8d8e90"/><path d="M357.35 106.51 L359.58 106.51 L357.81 103.72 L355.66 103.72Z" fill="#8d8e90"/><path d="M357.81 103.72 L359.95 103.72 L357.89 101 L355.84 101Z" fill="#c9ebe6"/><path d="M363.41 109.36 L365.71 109.36 L364.04 106.51 L361.81 106.51Z" fill="#8d8e90"/><path d="M362.09 103.72 L364.24 103.72 L361.99 101 L359.94 101Z" fill="#c9ebe6"/><path d="M366.09 101 L368.14 101 L365.45 98.38 L363.5 98.38Z" fill="#c9ebe6"/><path d="M332.51 118.08 L334.98 118.08 L334.58 115.16 L332.16 115.16Z" fill="#efdcb0"/><path d="M332.16 115.16 L334.58 115.16 L334.09 112.25 L331.72 112.25Z" fill="#f4f0e6"/><path d="M337.44 118.08 L339.9 118.08 L339.42 115.16 L337 115.16Z" fill="#f3e7cc"/><path d="M339.9 118.08 L342.37 118.08 L341.84 115.16 L339.42 115.16Z" fill="#8d8e90"/><path d="M339.42 115.16 L341.84 115.16 L341.19 112.25 L338.82 112.25Z" fill="#8d8e90"/><path d="M341.84 115.16 L344.25 115.16 L343.55 112.25 L341.19 112.25Z" fill="#f3e7cc"/><path d="M347.76 121 L350.26 121 L349.76 118.08 L347.3 118.08Z" fill="#f3e7cc"/><path d="M350.26 121 L352.76 121 L352.22 118.08 L349.76 118.08Z" fill="#efdcb0"/><path d="M349.76 118.08 L352.22 118.08 L351.51 115.16 L349.09 115.16Z" fill="#f4f0e6"/><path d="M348.28 112.25 L350.65 112.25 L349.6 109.36 L347.3 109.36Z" fill="#8d8e90"/><path d="M353.14 123.92 L355.66 123.92 L355.26 121 L352.76 121Z" fill="#f4f0e6"/><path d="M352.76 121 L355.26 121 L354.69 118.08 L352.22 118.08Z" fill="#f4f0e6"/><path d="M352.22 118.08 L354.69 118.08 L353.93 115.16 L351.51 115.16Z" fill="#efdcb0"/><path d="M350.65 112.25 L353.01 112.25 L351.9 109.36 L349.6 109.36Z" fill="#e9cc92"/><path d="M355.66 123.92 L358.18 123.92 L357.75 121 L355.26 121Z" fill="#efdcb0"/><path d="M355.26 121 L357.75 121 L357.15 118.08 L354.69 118.08Z" fill="#efdcb0"/><path d="M354.69 118.08 L357.15 118.08 L356.35 115.16 L353.93 115.16Z" fill="#8d8e90"/><path d="M357.15 118.08 L359.62 118.08 L358.77 115.16 L356.35 115.16Z" fill="#8d8e90"/><path d="M355.38 112.25 L357.74 112.25 L356.5 109.36 L354.2 109.36Z" fill="#f3e7cc"/><path d="M360.25 121 L362.75 121 L362.08 118.08 L359.62 118.08Z" fill="#e9cc92"/><path d="M359.62 118.08 L362.08 118.08 L361.19 115.16 L358.77 115.16Z" fill="#e9cc92"/><path d="M363.61 115.16 L366.03 115.16 L364.84 112.25 L362.47 112.25Z" fill="#f3e7cc"/><path d="M368.26 123.92 L370.78 123.92 L370.24 121 L367.74 121Z" fill="#efdcb0"/><path d="M367.74 121 L370.24 121 L369.47 118.08 L367.01 118.08Z" fill="#8d8e90"/><path d="M367.01 118.08 L369.47 118.08 L368.45 115.16 L366.03 115.16Z" fill="#efdcb0"/><path d="M366.03 115.16 L368.45 115.16 L367.21 112.25 L364.84 112.25Z" fill="#8d8e90"/><path d="M370.24 121 L372.74 121 L371.94 118.08 L369.47 118.08Z" fill="#f4f0e6"/><path d="M369.47 118.08 L371.94 118.08 L370.87 115.16 L368.45 115.16Z" fill="#8d8e90"/><path d="M368.45 115.16 L370.87 115.16 L369.57 112.25 L367.21 112.25Z" fill="#8d8e90"/><path d="M367.21 112.25 L369.57 112.25 L368.01 109.36 L365.71 109.36Z" fill="#e9cc92"/><path d="M348.09 123.92 L350.61 123.92 L350.26 121 L347.76 121Z" fill="#f3e7cc"/><path d="M351.12 129.76 L353.68 129.76 L353.46 126.84 L350.92 126.84Z" fill="#f3e7cc"/><path d="M353.46 126.84 L356 126.84 L355.66 123.92 L353.14 123.92Z" fill="#8d8e90"/><path d="M358.18 123.92 L360.7 123.92 L360.25 121 L357.75 121Z" fill="#f3e7cc"/><path d="M357.75 121 L360.25 121 L359.62 118.08 L357.15 118.08Z" fill="#f3e7cc"/><path d="M302.64 126.84 L305.18 126.84 L305.24 123.92 L302.72 123.92Z" fill="#d7a55a"/><path d="M307.67 132.68 L310.24 132.68 L310.25 129.76 L307.69 129.76Z" fill="#e9cc92"/><path d="M307.69 129.76 L310.25 129.76 L310.26 126.84 L307.72 126.84Z" fill="#d7a55a"/><path d="M307.72 126.84 L310.26 126.84 L310.28 123.92 L307.76 123.92Z" fill="#efdcb0"/><path d="M310.25 129.76 L312.8 129.76 L312.8 126.84 L310.26 126.84Z" fill="#cd9040"/><path d="M312.8 129.76 L315.35 129.76 L315.34 126.84 L312.8 126.84Z" fill="#e9cc92"/><path d="M312.8 126.84 L315.34 126.84 L315.32 123.92 L312.8 123.92Z" fill="#e0b872"/><path d="M315.36 132.68 L317.93 132.68 L317.91 129.76 L315.35 129.76Z" fill="#e8f5f3"/><path d="M315.35 129.76 L317.91 129.76 L317.88 126.84 L315.34 126.84Z" fill="#efdcb0"/><path d="M317.91 129.76 L320.46 129.76 L320.42 126.84 L317.88 126.84Z" fill="#e0b872"/><path d="M320.46 129.76 L323.02 129.76 L322.96 126.84 L320.42 126.84Z" fill="#e0b872"/><path d="M320.42 126.84 L322.96 126.84 L322.88 123.92 L320.36 123.92Z" fill="#e0b872"/><path d="M323.05 132.68 L325.62 132.68 L325.57 129.76 L323.02 129.76Z" fill="#e9cc92"/><path d="M323.02 129.76 L325.57 129.76 L325.5 126.84 L322.96 126.84Z" fill="#efdcb0"/><path d="M322.96 126.84 L325.5 126.84 L325.4 123.92 L322.88 123.92Z" fill="#cd9040"/><path d="M325.62 132.68 L328.18 132.68 L328.13 129.76 L325.57 129.76Z" fill="#f4f0e6"/><path d="M325.57 129.76 L328.13 129.76 L328.05 126.84 L325.5 126.84Z" fill="#d7a55a"/><path d="M325.5 126.84 L328.05 126.84 L327.93 123.92 L325.4 123.92Z" fill="#cd9040"/><path d="M328.18 132.68 L330.74 132.68 L330.68 129.76 L328.13 129.76Z" fill="#e9cc92"/><path d="M328.05 126.84 L330.59 126.84 L330.45 123.92 L327.93 123.92Z" fill="#e9cc92"/><path d="M330.74 132.68 L333.3 132.68 L333.24 129.76 L330.68 129.76Z" fill="#cd9040"/><path d="M330.59 126.84 L333.13 126.84 L332.97 123.92 L330.45 123.92Z" fill="#cd9040"/><path d="M317.93 132.68 L320.49 132.68 L320.46 129.76 L317.91 129.76Z" fill="#f4f0e6"/><path d="M320.5 135.6 L323.07 135.6 L323.05 132.68 L320.49 132.68Z" fill="#f4f0e6"/><path d="M320.06 156.04 L322.48 156.04 L322.66 153.12 L320.19 153.12Z" fill="#8d8e90"/><path d="M320.19 153.12 L322.66 153.12 L322.79 150.2 L320.29 150.2Z" fill="#8d8e90"/><path d="M320.29 150.2 L322.79 150.2 L322.88 147.28 L320.36 147.28Z" fill="#8d8e90"/><path d="M322.79 150.2 L325.29 150.2 L325.4 147.28 L322.88 147.28Z" fill="#8d8e90"/><path d="M327.78 150.2 L330.28 150.2 L330.45 147.28 L327.93 147.28Z" fill="#8d8e90"/><path d="M320.36 123.92 L322.88 123.92 L322.79 121 L320.29 121Z" fill="#8d8e90"/><path d="M330.74 138.52 L333.3 138.52 L333.33 135.6 L330.77 135.6Z" fill="#8d8e90"/><path d="M375.82 147.28 L378.35 147.28 L378.87 144.36 L376.32 144.36Z" fill="#4aaa9a"/><path d="M378.35 147.28 L380.87 147.28 L381.41 144.36 L378.87 144.36Z" fill="#4aaa9a"/><path d="M378.87 144.36 L381.41 144.36 L381.78 141.44 L379.23 141.44Z" fill="#68bcae"/><path d="M380.87 147.28 L383.39 147.28 L383.95 144.36 L381.41 144.36Z" fill="#4aaa9a"/><path d="M378.13 156.04 L380.55 156.04 L381.79 153.12 L379.33 153.12Z" fill="#8d8e90"/><path d="M380.23 150.2 L382.73 150.2 L383.39 147.28 L380.87 147.28Z" fill="#8d8e90"/><path d="M379.03 158.95 L381.4 158.95 L382.97 156.04 L380.55 156.04Z" fill="#8d8e90"/><path d="M381.79 153.12 L384.26 153.12 L385.22 150.2 L382.73 150.2Z" fill="#8d8e90"/><path d="M382.73 150.2 L385.22 150.2 L385.91 147.28 L383.39 147.28Z" fill="#8d8e90"/><path d="M381.4 158.95 L383.76 158.95 L385.39 156.04 L382.97 156.04Z" fill="#8d8e90"/><path d="M382.97 156.04 L385.39 156.04 L386.72 153.12 L384.26 153.12Z" fill="#8d8e90"/><path d="M384.26 153.12 L386.72 153.12 L387.72 150.2 L385.22 150.2Z" fill="#8d8e90"/><path d="M385.22 150.2 L387.72 150.2 L388.43 147.28 L385.91 147.28Z" fill="#8d8e90"/><path d="M385.39 156.04 L387.81 156.04 L389.18 153.12 L386.72 153.12Z" fill="#8d8e90"/><path d="M386.72 153.12 L389.18 153.12 L390.22 150.2 L387.72 150.2Z" fill="#8d8e90"/><path d="M370.24 150.2 L372.74 150.2 L373.3 147.28 L370.78 147.28Z" fill="#f4f0e6"/><path d="M371.94 153.12 L374.4 153.12 L375.23 150.2 L372.74 150.2Z" fill="#f4f0e6"/><path d="M373.29 156.04 L375.71 156.04 L376.86 153.12 L374.4 153.12Z" fill="#e8f5f3"/><path d="M361.08 144.36 L363.62 144.36 L363.9 141.44 L361.34 141.44Z" fill="#8d8e90"/><path d="M395.21 150.2 L397.71 150.2 L398.51 147.28 L395.99 147.28Z" fill="#8d8e90"/><path d="M247.63 98.12 L247.72 98.63 L248.9 98.63 L249.03 99.15 L246.78 99.68 L245.6 100.47 L246.39 101 L247.24 101.7 L246.94 102.35 L243.65 103.44 L242.33 103.88 L244.62 103.33 L247.07 102.62 L248.49 102.08 L250.19 101.27 L251.28 100.47 L251.42 100.89 L252.53 100.63 L253.23 100.73 L254.18 101 L255.3 101.11 L255.95 101.7 L256.11 101.97 L256.09 102.89 L256.03 103.44 L256.56 103.83 L256.62 104.27 L256.38 105.39 L256.32 106.06 L256.92 106.79 L256.64 107.42 L256.27 108.5 L255.08 110.51 L254.15 111.96 L253.94 113.12 L254.15 113.7 L254.18 114.4 L254.35 115.39 L255.23 115.74 L255.56 116.56 L255.58 117.49 L255.73 118.08 L256.04 119.25 L256.56 120.12 L256.9 121.29 L257.62 122.23 L257.53 121.41 L257.24 120.42 L256.86 118.95 L256.56 117.2 L257.3 117.49 L257.68 118.66 L258.12 119.83 L258.43 120.65 L259.01 121.47 L259.64 122.17 L259.7 123.34 L259.71 123.92 L260.12 124.5 L260.71 124.97 L261.64 125.55 L262.61 125.9 L263.57 126.31 L264.59 126.26 L265.1 126.2 L265.77 127.01 L266.49 127.48 L267.48 127.77 L268.22 128.01 L268.45 128.3 L268.92 128.88 L269.03 129.47 L269 129.88 L269.61 130.05 L270.08 130.69 L270.84 130.81 L271.59 131.34 L271.85 131.16 L272.14 130.4 L272.64 130.69 L273.13 131.16 L273.25 130.69 L272.97 130.23 L272.42 130.05 L271.64 130.29 L271.12 130.46 L270.63 130.05 L270.16 129.29 L270.18 128.3 L270.46 126.96 L269.91 126.31 L269.15 126.31 L268.13 126.37 L268.09 125.38 L268.59 124.21 L269.04 123.1 L268.29 123.04 L267.3 123.34 L267.13 124.21 L266.55 124.8 L265.27 124.91 L264.54 124.68 L264.14 123.98 L263.84 122.87 L263.9 121.58 L264.31 120.42 L264.52 119.42 L265.29 118.9 L266.16 118.37 L267.41 118.31 L268.08 118.6 L268.7 118.49 L268.74 117.9 L269.5 117.79 L270.47 117.85 L271.16 118.08 L271.6 118.31 L271.8 119.25 L271.99 120.12 L272.36 120.88 L272.67 120.82 L272.96 119.95 L272.9 118.95 L272.77 117.9 L273 117.14 L273.63 116.56 L274.47 115.92 L275.22 115.45 L275.83 115.16 L276.34 114.69 L276.33 113.99 L276.51 113.53 L277.06 113.12 L277.12 112.6 L277.66 112.36 L277.9 111.9 L278.68 111.67 L279.68 111.32 L280 111.21 L279.82 110.74 L279.99 110.34 L280.87 109.94 L281.92 109.53 L282.72 109.19 L283.29 109.13 L282.46 109.59 L282.42 110.17 L283.52 109.59 L284.77 109.25 L285.33 108.9 L284.77 108.79 L283.59 108.62 L283.3 108.1 L283.77 107.36 L283.46 106.96 L282.56 106.96 L281.64 107.65 L280.76 108.22 L281.17 107.7 L282.36 106.91 L283.21 106.4 L284.79 106.34 L286.13 106.34 L287.44 105.72 L288.36 105.22 L288.52 104.49 L287.62 103.99 L287.15 103.55 L286.73 103 L286.58 102.35 L286.48 101.64 L286.41 100.89 L285.44 101.64 L284.51 101.86 L284.01 101.59 L284.38 100.47 L283.82 100.15 L283.25 99.78 L282.53 99.78 L281.72 99.73 L281.37 100.47 L280.92 101.27 L280.65 102.08 L280.31 102.95 L279.82 103.5 L278.67 103.99 L278.38 104.83 L278.1 105.61 L277.3 105.72 L277.18 105.05 L277.09 104.55 L277.57 103.72 L276.46 103.55 L275.58 103.22 L275.25 102.84 L274.61 102.51 L273.82 102.57 L273.71 101.64 L274.06 100.95 L274.78 100.26 L275.41 99.94 L276.73 99.41 L278.16 98.84 L278.8 98.48 L279.62 97.87 L279.47 97.26 L280.19 96.91 L281.19 96.21 L282.08 96.26 L282.25 96.61 L281.48 97.11 L280.65 97.76 L280.18 97.61 L279.54 97.87 L280.02 97.56 L279.58 96.61 L279.47 96.26 L278.99 96.16 L278.68 95.87 L278.75 95.15 L278.34 95 L277.2 95.87 L276.83 96.76 L275.81 96.86 L274.59 96.96 L273.54 96.86 L272.73 96.71 L271.93 96.76 L271.23 96.91 L270.05 96.96 L269.18 96.96 L268.9 96.41 L268.46 96.12 L267.69 95.97 L266.36 96.16 L265.88 95.77 L264.92 95.97 L264.01 96.12 L263.08 96.12 L261.8 96.41 L261.22 96.12 L260.6 96.02 L259.93 95.82 L259.07 95.77 L258.16 95.63 L257.27 95.48 L256.49 95.39 L255.97 95.24 L254.71 95.48 L253.44 95.73 L252.06 96.16 L250.77 96.41 L251.08 96.86 L250.8 97.26 L249.93 97.56 L248.88 97.76 L247.63 98.12M288.81 92.09 L291.11 91.35 L293.11 90.89 L295.28 90.53 L297.51 90.42 L300.1 90.19 L303.19 90.06 L305.49 90.32 L306.58 90.78 L307.42 91.16 L306.48 91.76 L306.65 92.39 L305.82 93.06 L306.19 93.74 L304.98 94.44 L304.83 95.15 L304 95.63 L304.5 95.87 L303.49 96.26 L301.5 96.76 L300.3 97.01 L298.91 97.87 L297.65 98.17 L296.84 98.89 L296 99.68 L295.26 100.73 L294.37 100.95 L293.68 100.57 L293.06 100.04 L292.8 99.15 L292.72 98.38 L292.27 97.61 L292.72 96.61 L293.77 96.36 L293.37 95.63 L293.06 95.15 L293.08 94.44 L292.96 93.74 L292.76 93.24 L291.76 92.97 L290.4 92.97 L289.77 92.7 L288.86 92.39 L288.81 92.09M280.61 94.67 L282.49 94.16 L284.29 94.11 L285.33 94.58 L285.99 95.15 L287.13 95.63 L287.66 95.97 L287.74 96.46 L288.56 97.36 L289.08 97.61 L288.31 98.22 L287.1 98.69 L287.2 99.26 L286.11 99.83 L285.28 99.52 L284.37 99 L283.4 98.63 L282.22 98.63 L283.12 98.12 L284.78 97.61 L285.05 96.86 L284.23 96.12 L282.89 95.92 L281.52 95.77 L280.57 95.58 L280.61 94.67M270.58 94.53 L272.45 94.3 L274.15 94.53 L274.35 95.39 L275.09 95.97 L273.33 96.26 L270.95 96.41 L269.34 96.16 L269.32 95.48 L270.58 94.53M267.57 94.96 L269.04 94.06 L270.97 93.79 L271.57 94.3 L269.33 95.15 L267.57 94.96M282.88 92.39 L283.66 92.92 L285.69 92.92 L286.74 92.53 L287.99 91.93 L289.68 91.51 L291.33 91.12 L293.55 90.56 L292.14 90.29 L289.14 90.25 L286.27 90.6 L283.95 90.97 L282.64 91.76 L282.88 92.39M281.58 92.97 L283.8 92.79 L285.52 92.92 L285.07 93.6 L282.86 93.74 L280.96 93.56 L281.58 92.97M273.16 92.92 L275.76 92.75 L276.6 93.15 L275.42 93.56 L273.47 93.74 L272.49 93.42 L273.16 92.92M282.44 91.16 L284.04 90.89 L284.92 91.2 L283.29 91.76 L281.58 92.09 L282.44 91.16M277.15 94.2 L278.75 94.02 L278.24 94.91 L276.76 95.15 L277.15 94.2M279.5 93.97 L281.21 94.02 L279.63 94.77 L279.5 93.97M278.69 98.63 L280.16 98.79 L280.95 99.1 L278.96 99.41 L278.71 98.89 L279.74 97.97 L278.69 98.63M285.91 107.87 L286.5 107.25 L287.29 106.17 L288.32 105.61 L288.07 106.51 L288.79 106.96 L288.9 107.87 L288.4 108.39 L287.44 108.22 L285.91 107.87M255.97 106.06 L256.97 106.4 L257.26 107.36 L256.71 107.3 L256.28 106.74 L255.97 106.06M270.13 122.81 L271.17 122.23 L272.18 122.11 L273.14 122.52 L273.98 123.04 L274.78 123.51 L275.4 123.8 L273.72 123.98 L273.62 123.51 L273.08 122.98 L272.08 122.93 L271.1 122.75 L270.13 122.81M275.19 124.85 L276.09 123.98 L276.99 124.04 L277.95 124.5 L278.23 124.74 L277.4 124.97 L276.61 125.32 L275.88 124.97 L275.19 124.85M278.83 124.8 L279.64 124.85 L279.41 125.09 L278.8 125.09M273.21 124.85 L274.21 124.97 L273.94 125.15 L273.2 124.97M273.25 130.69 L273.67 130.46 L274.1 130.05 L274.24 129.41 L274.93 129.06 L275.82 128.65 L276.2 128.36 L276.48 128.71 L276.14 129.18 L276.27 129.76 L276.55 129.29 L277.08 128.83 L277.84 129 L278.07 129.41 L279.09 129.41 L280.11 129.41 L280.88 129.41 L281.22 129.76 L281.7 130.64 L282.35 130.93 L283.1 131.63 L283.6 132.1 L284.62 132.15 L285.38 132.33 L286.14 132.86 L286.49 133.15 L286.64 133.85 L287.14 134.61 L287.13 135.48 L287.65 135.78 L288.01 136.18 L288.68 136.01 L289.71 136.42 L290.22 137.06 L291.25 137.24 L292.28 137.29 L293.05 137.82 L293.83 138.46 L294.71 138.7 L294.98 139.86 L294.8 140.97 L294.16 141.79 L293.63 142.73 L292.99 143.37 L292.99 144.65 L292.96 146 L292.77 147.05 L292.24 148.33 L291.74 149.03 L290.5 149.21 L289.53 149.73 L288.85 150.49 L288.67 151.66 L288.32 152.83 L287.9 153.71 L287.37 154.46 L286.84 155.34 L286.41 155.92 L285.54 155.98 L284.48 155.75 L285.14 156.39 L285.26 157.21 L284.92 158.08 L283.78 158.31 L283.18 158.37 L283.46 159.3 L282.38 159.47 L282.33 160.11 L282.8 160.46 L282.51 161.03 L282.62 161.84 L281.99 162.3 L281.99 162.98 L283 163.55 L282.62 164.41 L282.44 164.86 L282.39 165.53 L282.86 166.04 L282.43 166.15 L282.21 166.65 L281.82 166.76 L280.26 166.09 L279.62 165.25 L278.91 163.95 L278.45 162.87 L278.63 162.13 L278.79 161.26 L278.3 160.11 L277.89 158.95 L277.63 157.38 L277.79 156.33 L277.88 154.87 L277.61 153.12 L277.4 151.95 L277.58 150.49 L277.49 149.03 L277.49 147.57 L277.25 146.29 L276.66 145.88 L275.52 145.18 L274.42 144.24 L273.95 143.48 L273.32 142.49 L272.79 141.44 L272.11 140.16 L271.3 139.22 L271.17 138.23 L271.61 137.59 L271.86 137.06 L271.28 136.48 L271.68 135.6 L271.74 135.07 L272.26 134.72 L272.52 134.14 L273.05 133.5 L273.17 132.8 L273.15 131.98 L272.92 131.34 L273.25 130.69M282.82 166.15 L284.3 167.48 L283.78 167.76 L282.58 167.48 L281.25 166.93 L282.28 166.82 L282.82 166.15M285.72 165.37 L287.18 165.37 L287.12 165.81 L286.02 165.81M309.95 114.69 L310.62 115.04 L311.74 115.1 L312.8 114.63 L314 114.23 L315.2 114.11 L316.88 114.05 L317.69 113.88 L318.13 114.11 L317.86 114.58 L318.17 115.04 L317.75 115.57 L317.77 116.03 L318.41 116.33 L319.14 116.44 L320.23 116.74 L320.65 117.32 L321.65 117.61 L322.4 117.9 L322.67 117.38 L322.58 116.79 L323.29 116.38 L324.03 116.56 L325.04 116.97 L326.04 117.26 L327.05 117.55 L327.76 117.2 L328.65 117.32 L328.82 118.08 L329.53 119.6 L330.16 120.71 L330.68 121.7 L331.29 122.75 L331.57 123.34 L331.75 124.68 L332.33 125.2 L332.75 126.31 L333.13 126.84 L333.92 127.54 L334.46 128.18 L334.88 128.59 L334.85 128.94 L335.27 129.47 L336.04 129.35 L336.79 129.12 L337.56 129.06 L338.31 128.88 L338.92 128.71 L338.85 129.53 L338.69 130.64 L338.16 131.8 L337.41 132.97 L336.66 134.14 L335.64 134.9 L334.87 135.78 L334.15 136.59 L333.48 137.12 L333.11 138.11 L332.73 139.1 L332.98 139.69 L332.9 140.56 L333.14 141.32 L333.43 141.85 L333.44 142.9 L333.45 144.07 L333.2 144.94 L331.78 145.88 L330.98 146.64 L330.35 147.16 L330.55 148.16 L330.59 149.32 L330.3 149.97 L329.26 150.49 L329.13 151.08 L328.89 152.25 L328.25 152.83 L327.63 153.71 L326.73 154.58 L325.94 155.17 L325.24 155.4 L324.22 155.4 L323.48 155.63 L322.49 155.92 L321.92 155.63 L321.71 155.17 L321.7 154.41 L321.31 153.41 L320.97 152.3 L320.5 151.37 L320.29 150.2 L320.07 148.92 L319.59 147.86 L319.11 146.7 L318.78 145.7 L318.84 144.71 L319.16 143.48 L319.79 142.32 L319.55 141.15 L319.45 140.45 L319.1 139.57 L319.05 138.99 L318.85 138.4 L318.19 137.64 L317.52 136.53 L317.57 135.31 L317.73 134.14 L317.77 133.44 L317.31 133.03 L316.65 133.03 L315.88 133.09 L315.36 132.33 L314.95 131.86 L314.08 131.92 L313.41 132.04 L312.29 132.62 L311.52 132.74 L310.75 132.56 L309.98 132.62 L308.95 133.03 L308.44 132.8 L307.68 132.21 L306.91 131.57 L306.4 131.16 L306.05 130.69 L306 130.05 L305.39 129.41 L304.99 129 L304.49 128.59 L304.29 127.89 L304.05 127.13 L303.9 126.96 L304.43 126.14 L304.65 125.38 L304.57 124.5 L304.34 123.63 L304.25 123.22 L304.68 121.88 L305.1 121.29 L305.57 120.42 L306.2 119.54 L307.1 119.19 L307.86 118.55 L308.03 117.79 L307.99 117.2 L308.61 116.15 L309.45 115.68 L309.8 115.04 L309.95 114.69M337.94 142.61 L338.41 144.48 L338.1 145.24 L337.8 146 L337.23 147.57 L336.65 149.32 L336.33 150.14 L335.4 150.49 L334.79 150.08 L334.54 148.74 L334.84 147.98 L335.21 146.99 L335.08 145.76 L335.38 145.06 L336.31 144.71 L337.12 143.78 L337.68 142.9 L337.94 142.61M330.03 118.37 L329.63 117.32 L329.83 116.44 L330.05 115.8 L330.16 115.04 L330 114.17 L329.37 114.11 L328.69 114.46 L327.69 114.17 L327 114.4 L326.25 114.11 L325.87 113.7 L325.35 113.24 L325.52 112.65 L325.19 112.25 L325.55 112.02 L326.45 111.67 L327.57 111.61 L328.48 111.09 L329.28 111.09 L330.2 111.61 L330.93 111.73 L331.72 111.67 L332.32 111.32 L332.16 110.74 L331.38 110.28 L330.59 109.76 L330.04 109.53 L330.31 108.79 L330.65 108.16 L330.15 108.16 L329.21 108.5 L328.85 109.07 L329.53 109.25 L329.02 109.53 L328.31 109.71 L327.76 109.13 L328.12 108.79 L327.31 108.56 L326.8 108.56 L326.45 109.25 L326.06 109.76 L325.83 110.51 L325.86 111.09 L326.39 111.55 L325.98 111.67 L325.3 111.9 L325.05 111.78 L324.11 111.78 L323.66 112.02 L324.09 112.54 L323.63 112.71 L324.02 113.29 L324.28 113.58 L323.86 114.28 L323.61 114.17 L323.22 114.05 L322.87 113.24 L322.43 112.6 L321.95 111.96 L321.94 111.21 L321.44 110.8 L320.7 110.34 L319.97 109.94 L319.65 109.36 L319.03 109.02 L318.45 109.19 L318.48 109.76 L319.07 110.22 L319.58 110.97 L320.31 111.44 L321.05 111.84 L321.55 112.19 L320.91 112.6 L320.89 112.89 L320.49 113.41 L320.29 113.29 L320.44 112.54 L320.18 112.19 L319.84 112.07 L319.39 111.73 L318.66 111.21 L318.03 110.8 L317.69 110.51 L317.52 109.99 L316.82 109.71 L316.27 110.05 L315.68 110.45 L315.03 110.28 L314.29 110.4 L314.25 110.92 L314.3 111.15 L313.27 111.61 L312.89 112.25 L312.66 112.65 L312.85 112.94 L312.47 113.64 L312.03 113.93 L311.74 114.17 L310.69 114.17 L310.1 114.58 L309.73 114.11 L309.25 113.88 L308.53 113.99 L308.6 113.29 L308.28 112.94 L308.6 112.07 L308.72 111.21 L308.47 110.51 L309.09 110.11 L310.02 110.17 L311.18 110.22 L312.06 110.28 L312.25 109.53 L312.25 108.67 L311.8 108.16 L310.81 107.76 L310.73 107.3 L311.45 107.19 L312.08 107.25 L312.22 106.68 L312.89 106.85 L313.42 106.45 L313.55 106 L313.91 105.89 L314.47 105.67 L314.73 105.22 L314.89 104.83 L315.36 104.6 L315.88 104.49 L316.49 104.49 L316.64 104.22 L316.47 103.5 L316.22 102.84 L316.42 102.57 L317.15 102.24 L317.24 102.84 L317.42 102.95 L317.06 103.39 L316.91 103.72 L317.5 104.05 L318.11 104.16 L318.94 104.33 L319.78 104.1 L320.79 103.88 L321.29 104.05 L321.83 103.61 L321.71 102.73 L322.19 102.29 L322.7 102.62 L323 102.13 L322.57 101.59 L323.71 101.27 L324.42 101.27 L325.07 101.05 L324.31 100.73 L323.54 100.79 L322.2 101.05 L321.47 100.57 L321.39 99.62 L321.68 99 L322.4 98.43 L322.7 98.33 L322.27 97.97 L321.39 98.02 L321.09 98.53 L320.71 99.05 L320.17 99.47 L319.88 99.94 L319.85 100.68 L320.51 101.05 L320.31 101.38 L319.76 102.29 L319.73 102.78 L319.04 103.11 L318.26 103.44 L318.14 103 L317.83 102.35 L317.44 101.59 L317.13 101.38 L317.02 101.54 L316.3 101.91 L315.72 102.08 L315.12 101.7 L314.94 101.16 L314.83 100.36 L315 99.78 L315.82 99.36 L316.63 99.05 L317.07 98.63 L317.59 97.92 L317.98 97.26 L318.59 96.71 L318.96 96.36 L319.6 95.97 L320.17 95.82 L321.04 95.58 L321.73 95.39 L322.39 95.39 L323.07 95.34 L323.77 95.53 L324.27 95.73 L323.89 95.97 L324.66 95.92 L325.26 96.21 L326.42 96.36 L327.27 96.66 L328.14 97.01 L328.52 97.46 L328.22 97.71 L327.54 97.87 L326.48 97.81 L325.82 97.51 L325.24 97.36 L325.63 97.66 L326.24 97.92 L326.44 98.63 L327.21 98.84 L327.43 98.94 L327.8 98.58 L328.43 98.58 L328.61 98.43 L328.32 98.02 L329.09 97.66 L329.74 97.76 L329.62 97.21 L329.28 96.71 L330.13 96.76 L330.43 97.06 L330.05 97.36 L331.05 97.46 L331.38 97.06 L332.32 96.61 L332.9 96.41 L333.66 96.66 L334.36 96.56 L335.1 96.61 L335.14 95.92 L336.36 96.12 L336.98 96.21 L337.91 96.41 L338.53 96.71 L338.58 96.41 L338.05 96.02 L337.54 95.92 L337.09 95.24 L337.4 94.77 L337.46 94.44 L338.14 94.34 L338.8 94.63 L339.06 95.15 L338.91 95.24 L339.46 95.63 L339.9 96.36 L340.46 96.66 L340.56 97.01 L340.21 97.56 L340.61 97.71 L341.06 96.96 L340.75 96.36 L340.32 96.26 L339.9 95.63 L339.35 95.15 L339.69 94.81 L339.56 94.48 L340.23 94.96 L340.95 94.72 L342.21 95 L341.55 94.63 L341.28 94.16 L342.02 94.11 L343.27 94.02 L342.87 93.56 L343.22 93.42 L344.21 93.15 L345.09 93.01 L345.77 93.01 L346.07 92.83 L346.85 92.83 L346.71 92.61 L347.39 92.31 L348.13 92.44 L348.95 92.79 L350.18 92.75 L351.19 92.92 L351.8 93.15 L351.85 93.37 L351.84 93.56 L351.71 93.97 L352.52 94.06 L353.46 94.11 L354.67 94.16 L355.03 94.39 L356.58 94.44 L356.45 94.11 L357.53 94.16 L358.43 94.39 L359.07 94.72 L359.17 95 L359.96 95.29 L360.77 95.48 L360.51 95 L361.36 95.2 L361.8 95.05 L362.73 95.24 L363.48 95.15 L362.65 94.72 L363.16 94.63 L364.29 94.81 L365.4 94.81 L366.48 94.81 L367.21 95.1 L368.66 95.48 L370.02 95.39 L371.08 95.44 L371.61 95.77 L372.8 96.16 L373.51 96.02 L374.99 96.07 L376.32 96.51 L376.55 96.36 L375.62 95.82 L376.99 95.97 L377.84 95.92 L379.15 96.16 L379.98 96.36M245.62 96.36 L246.02 96.71 L246.19 97.26 L246.96 97.41 L247.27 97.81 L246.34 98.07 L245.18 98.63 L244.41 98.48 L243.68 98.17 L242.6 98.38M383 98.38 L382.85 98.63 L382.27 98.58 L382.99 98.84 L383.8 99.26 L384.72 99.78 L383.78 99.68 L383.14 100.04 L382.85 100.1 L382.72 100.47 L382.58 100.84 L382.68 101.05 L381.65 100.68 L381.1 101.11 L380.64 100.89 L380.59 101.16 L379.89 101.05 L380.33 101.97 L380.57 102.19 L381.2 102.29 L382 103.06 L381.64 103.11 L381.94 103.55 L382.34 103.77 L381.95 104.1 L382.4 104.72 L381.87 104.85 L382.31 105.44 L382.16 105.95 L381.62 105.55 L380.66 104.72 L379.19 103.5 L378.6 102.73 L378.63 102.4 L378.4 102.19 L378.95 102.08 L378.91 101.38 L378.98 100.84 L379.21 100.41 L378.55 99.62 L378.14 99.68 L378.48 100.15 L378.12 100.73 L376.98 100.04 L376.18 100.26 L376.13 101.11 L376.88 101.48 L376.09 101.59 L375.52 101.64 L375.12 101.27 L374.38 101.16 L374.14 101.43 L372.84 101.38 L371.64 101.54 L371.3 102.57 L370.85 103.88 L371.59 103.94 L372.11 104.28 L372.62 104.38 L372.66 104.13 L373.16 104.16 L374.31 104.77 L374.79 105.27 L374.9 105.83 L375.4 106.51 L375.9 107.42 L375.79 108.22 L375.88 108.62 L375.74 109.3 L375.51 109.94 L375.45 110.28 L375.01 110.63 L374.73 110.63 L374.28 110.34 L373.87 110.74 L373.96 110.97 L373.74 110.92 L373.64 111.32 L373.87 111.73 L373.7 111.84 L373.58 112.13 L373.39 112.31 L373.18 112.36 L373.33 112.65 L373.31 112.71 L373.92 113.06 L374.69 113.76 L374.99 114.11 L375.31 114.81 L375.25 115.1 L374.86 115.22 L374.58 115.45 L374.16 115.51 L373.99 115.22 L373.89 114.75 L373.39 114.17 L373.72 114.05 L373.17 113.58 L372.87 113.47 L372.85 113.53 L372.34 113.35 L372.37 113.12 L372.41 113 L372.1 112.48 L371.63 112.31 L371.06 112.48 L370.79 112.71 L370.38 112.89 L370.5 112.6 L370.31 112.39 L370.49 112.02 L370.06 111.73 L369.77 111.9 L369.41 112.31 L369.29 112.65 L368.85 112.71 L368.74 113 L369.19 113.35 L369.62 113.47 L369.75 113.76 L370.19 113.88 L370.53 113.47 L371.07 113.7 L371.4 113.7 L371.61 114.05 L370.99 114.17 L370.89 114.52 L370.58 114.81 L370.51 115.22 L371.11 115.51 L371.53 116.09 L372.02 116.62 L372.53 117.09 L372.7 117.55 L372.44 117.67 L372.66 118.02 L373.01 118.2 L373.1 119.13 L372.82 119.19 L372.63 119.77 L372.44 120.59 L372.15 121.29 L371.56 121.82 L370.95 122.28 L370.41 122.34 L370.16 122.63 L369.93 122.46 L369.67 122.69 L369.01 122.98 L368.53 123.1 L368.43 123.74 L368.18 123.74 L367.97 123.34 L368.08 123.1 L367.34 122.93 L367.15 122.98 L366.58 122.87 L366.48 123.51 L366.21 124.04 L366.17 124.44 L366.63 125.09 L367.25 125.85 L367.75 126.2 L368.12 126.66 L368.46 127.77 L368.51 128.77 L368.14 129.18 L367.56 129.53 L367.19 130.05 L366.61 130.58 L366.38 130.23 L366.51 129.82 L366.07 129.47 L365.66 129.41 L365.42 129.06 L365.12 128.47 L364.64 128.24 L364.18 128.24 L364.22 127.77 L363.77 127.77 L363.79 128.42 L363.61 129.29 L363.49 129.78 L363.88 130.23 L364.12 130.75 L364.25 131.28 L364.52 131.57 L364.84 131.69 L365.11 131.98 L365.57 132.39 L365.81 132.74 L365.83 133.26 L365.78 133.44 L365.84 133.61 L365.9 133.96 L366.11 134.14 L366.27 134.67 L365.92 134.9 L365.45 134.43 L364.82 133.96 L364.65 133.44 L364.44 133.32 L364.37 132.8 L364.16 132.5 L364.19 132.1 L364.07 131.8 L363.86 131.63 L363.74 131.34 L363.46 130.99 L363.19 130.69 L363.11 131.04 L363.04 130.69 L363.07 130.34 L363.18 129.76 L363.22 128.94 L362.99 128.59 L362.98 127.95 L362.74 127.66 L362.52 126.96 L362.32 126.2 L362.06 125.73 L361.74 126.02 L361.23 126.43 L360.92 126.37 L360.6 126.26 L360.66 125.5 L360.49 124.97 L359.99 124.27 L360.07 124.09 L359.75 123.98 L359.33 123.51 L359.14 123.22 L359.05 122.93 L358.91 122.63 L358.66 122.28 L358.2 122.28 L358.29 122.52 L358.19 122.87 L357.92 122.75 L357.88 122.81 L357.72 122.77 L357.51 122.69 L357.49 122.93 L357.14 122.93 L356.54 123.04 L356.61 123.51 L356.4 123.8 L355.74 124.21 L355.22 124.91 L354.91 125.26 L354.45 125.67 L354.48 125.9 L354.24 126.08 L353.8 126.26 L353.56 126.31 L353.45 126.78 L353.62 127.54 L353.71 128.01 L353.55 128.53 L353.61 129.53 L353.31 129.58 L353.13 130.05 L353.3 130.23 L352.84 130.4 L352.66 130.75 L352.46 130.95 L351.97 130.4 L351.67 129.58 L351.44 129 L351.26 128.71 L350.97 128.18 L350.76 127.42 L350.63 127.07 L350.1 126.26 L349.79 125.15 L349.56 124.39 L349.48 123.69 L349.32 123.1 L348.65 123.45 L348.29 123.39 L347.56 122.69 L347.74 122.46 L347.57 122.28 L346.96 121.76 L346.54 121.64 L346.34 121.17 L345.94 120.77 L345 120.88 L344.2 120.88 L343.51 120.94 L342.54 120.77 L341.98 120.65 L341.42 120.59 L341.12 119.85 L340.88 119.77 L340.49 119.85 L340.02 120.12 L339.41 119.95 L338.86 119.48 L338.34 119.31 L337.98 118.78 L337.48 118.02 L337.24 118.08 L336.87 117.9 L336.76 118.14 L336.44 118.09 L336.59 118.37 L336.56 118.49 L336.75 118.9 L337.01 119.42 L337.27 119.54 L337.4 119.77 L337.77 120.01 L337.77 120.47 L337.84 120.65 L338.01 120.82 L338.12 121 L338.18 121.12 L338.35 121.23 L338.5 121.23 L338.62 121.47 L338.73 121.58 L339.12 121.47 L339.82 121.52 L340.28 121.06 L340.45 120.77 L340.75 120.36 L340.88 120.18 L340.93 120.24 L340.91 120.47 L340.88 120.59 L340.98 121.06 L341.22 121.47 L341.54 121.64 L341.9 121.76 L342.2 121.82 L342.66 122.34 L342.82 122.46 L342.83 122.58 L342.63 123.1 L342.44 123.28 L342.28 123.69 L342.02 123.63 L341.93 123.8 L341.91 124.09 L341.99 124.44 L341.95 124.56 L341.69 124.56 L341.41 124.74 L341.38 125.03 L341.29 125.15 L340.98 125.15 L340.79 125.32 L340.81 125.55 L340.57 125.7 L340.26 125.67 L339.97 125.85 L339.72 125.85 L339.38 126.02 L339.29 126.31 L339.31 126.49 L338.81 126.72 L338.02 127.01 L337.58 127.42 L337.33 127.48 L337.17 127.42 L336.93 127.66 L336.58 127.77 L336.18 127.83 L336.02 127.83 L335.93 128.01 L335.78 128.04 L335.73 128.18 L335.48 128.18 L335.33 128.24 L334.97 128.24 L334.8 127.89 L334.84 127.54 L334.73 127.37 L334.61 126.96 L334.44 126.72 L334.54 126.66 L334.48 126.43 L334.52 126.31 L334.51 126.08 L334.39 125.79 L334.23 125.61 L334.22 125.38 L333.95 125.2 L333.62 124.68 L333.44 124.21 L333.06 123.8 L332.86 123.74 L332.47 123.16 L332.4 122.75 L332.42 122.4 L332.08 121.76 L331.82 121.52 L331.56 121.41 L331.38 121.06 L331.38 120.94 L331.21 120.65 L331.05 120.53 L330.81 120.06 L330.48 119.6 L330.2 119.19 L329.95 119.19 L330.02 118.9 L330 118.66 L330.03 118.37 L329.8 119.25 L329.62 119.48 L329.19 119.01 L328.87 118.14M310.26 106.45 L310.93 106.29 L311.47 106.12 L312.36 106.06 L313.37 105.83 L313.06 105.67 L313.54 105.05 L313.5 104.88 L312.89 104.66 L312.84 104.49 L312.54 103.99 L312.28 103.94 L312.12 103.44 L311.86 103.17 L311.61 103 L312 102.51 L312.05 102.29 L311.54 102.24 L311.08 102.29 L311.51 101.75 L310.72 101.75 L310.46 102.19 L310.27 102.62 L310.43 103 L310.28 103.55 L310.66 103.66 L310.69 103.94 L311.25 103.94 L311.38 104.16 L311.55 104.33 L311.45 104.6 L310.8 104.66 L310.96 105.22 L310.47 105.44 L310.95 105.61 L311.3 105.72 L310.63 105.89 L310.26 106.45M310.12 104.33 L310.17 105.27 L309.82 105.27 L309.02 105.55 L308.45 105.5 L308.69 105.05 L308.46 104.6 L308.7 104.22 L309.14 103.99 L309.55 103.66 L309.93 103.61 L310.35 103.94 L310.12 104.33M303.89 98.94 L304.24 98.69 L303.43 98.43 L304.15 98.33 L303.38 98.07 L303.76 97.71 L304.31 97.66 L304.83 98.02 L305.49 97.71 L305.93 97.87 L306.58 97.61 L307.24 97.61 L307.12 97.97 L307.5 98.33 L306.95 98.69 L305.39 99.15 L304.7 99.05 L303.89 98.94M316.39 91.93 L316.65 91.51 L317.91 91.39 L318.51 91.24 L319.77 91.2 L321.4 91.31 L320.85 91.6 L319.66 91.93 L319.11 92.35 L318.53 92.79 L317.79 92.44 L317.25 92.18 L316.39 91.93M331.82 95.15 L331.89 94.25 L332.44 93.69 L332.92 93.1 L333.81 92.92 L334.95 92.66 L336.04 92.83 L335.41 93.24 L334.15 93.65 L333.39 94.11 L333.13 94.58 L333.16 95.29 L333.86 95.58 L332.43 95.44 L331.82 95.15M343.46 91.64 L343.74 91.24 L344.16 90.97 L346.42 91.68 L345.77 91.93 L345.61 92.18 L344.19 91.97 L343.46 91.64M359.93 93.37 L360.05 93.01 L361.7 93.19 L363.03 93.37 L363.74 93.28 L364.73 93.47 L363.47 93.65 L362.29 94.02 L360.97 93.83 L359.93 93.37M327.98 91.16 L329.05 90.89 L330.84 90.78 L332.34 91.08 L330.66 91.35 L328.75 91.35M247.78 95.15 L248.27 95.29 L247.66 95.44 L247.23 95.39M376.42 115.8 L376.59 115.51 L376.86 114.93 L377.75 114.75 L378.35 114.81 L378.42 114.05 L378.74 114.11 L379.11 113.7 L379.33 113.29 L379.23 112.6 L378.78 111.9 L378.76 111.55 L379.21 111.44 L379.72 112.13 L380.25 112.71 L380.09 113.29 L380.38 113.93 L380.47 114.4 L380.71 114.69 L380.37 114.98 L380.21 115.16 L379.88 115.39 L379.2 115.39 L379.19 115.57 L378.91 116.03 L378.28 115.39 L377.46 115.51 L377.05 115.8 L376.42 115.8M376.01 116.21 L376.2 116.56 L376.69 117.32 L377 117.38 L377.25 117.26 L377.22 116.56 L376.98 116.09 L376.42 115.8 L376.01 116.21M377.37 116.33 L377.74 116.5 L378.34 115.86 L378.14 115.63 L377.52 115.74 L377.37 116.33M378.51 111.38 L378.36 110.92 L378.07 110.74 L378.47 110.28 L377.83 109.19 L377.98 109.07 L379.32 109.82 L380.41 110.34 L379.91 110.57 L379.83 111.09 L378.86 110.74 L378.98 111.38 L378.51 111.38M377.73 108.79 L378.38 108.73 L377.62 108.04 L377.04 106.91 L377.71 107.13 L375.77 105.5 L375.21 104.66 L374.23 104.05 L374.41 104.44 L375.09 105.22 L375.02 105.44 L376.45 107.19 L377.09 107.82 L377.73 108.79M373.03 122.17 L373.15 121.29 L373.45 120.82 L373.71 121 L373.65 121.99 L373.51 122.81 L373.11 122.28 L373.03 122.17M367.63 124.39 L368.01 123.92 L368.6 123.86 L368.79 124.09 L368.68 124.62 L368.18 124.97 L367.75 124.8 L367.63 124.39M373.76 124.8 L374.65 124.97 L374.71 125.61 L374.57 126.31 L374.54 126.78 L374.71 127.25 L375.41 127.54 L375.91 127.89 L376.06 128.3 L375.62 128.01 L375.24 127.83 L374.63 127.48 L374.23 127.48 L374.11 126.96 L373.69 126.55 L373.61 126.02 L373.84 126.2 L373.75 125.32 L373.76 124.8M375.28 131.57 L375.7 131.04 L376.35 130.81 L376.93 130.4 L377.16 130.05 L377.47 130.69 L377.57 131.39 L377.45 131.92 L377.06 132.33 L376.87 131.63 L376.33 131.98 L376.23 131.22 L375.71 131.16 L375.28 131.57M375.03 129.18 L375.61 128.83 L376.47 128.3 L376.9 129 L376.66 129.64 L376.31 129.76 L375.84 130.17 L375.4 129.82 L375.03 129.18M372.76 130.69 L373.83 129.47 L373.91 129.18 L373.68 129.41 L372.95 130.52 L372.76 130.69M368.79 134.72 L369.09 134.43 L369.46 134.61 L369.86 134.49 L369.95 134.02 L370.77 133.79 L371.11 133.32 L371.56 132.91 L372 132.45 L372.33 132.04 L372.56 131.57 L373.04 131.86 L373.11 132.1 L373.89 132.45 L373.85 132.68 L373.49 132.7 L373.61 132.97 L373.26 133.21 L372.97 133.73 L373.4 134.26 L373.3 134.55 L373.88 135.07 L373.26 135.13 L373.12 135.54 L373.11 136.07 L372.64 136.48 L372.57 137.06 L372.34 137.94 L371.78 137.82 L371.53 137.64 L370.92 137.41 L370.3 137.64 L370.1 137.35 L369.74 137.35 L369.33 137.29 L369.3 136.53 L369.05 136.18 L368.8 135.89 L368.75 135.37 L368.79 134.72M361.64 132.39 L362.78 132.56 L363.26 133.09 L363.94 133.73 L364.42 134.37 L364.99 134.37 L365.72 135.25 L366.08 135.54 L365.87 136.01 L366.38 136.24 L366.63 136.94 L367.23 137.41 L367.1 138.11 L367.01 139.05 L366.45 139.05 L366.06 138.52 L365.41 138.05 L364.82 137.24 L364.58 136.83 L364.18 136.01 L363.77 135.48 L363.4 134.55 L362.93 134.14 L362.66 133.67 L362.24 133.32 L361.7 132.68 L361.64 132.39M366.99 139.45 L367.37 139.08 L368.29 139.16 L368.57 139.57 L369.39 139.63 L369.66 139.34 L370.46 139.63 L370.54 140.04 L371.4 140.16 L371.41 140.74 L370.87 140.45 L370.41 140.51 L369.85 140.45 L369.4 140.33 L368.8 140.1 L368.23 140.16 L367.58 139.92 L367.33 139.86 L366.78 139.63 L366.99 139.45M371.79 140.45 L372.15 140.51 L373.17 140.51 L373.67 140.62 L374.45 140.45 L375.64 140.33 L374.68 140.8 L373.65 140.86 L372.63 140.91 L372.12 140.8 L371.79 140.45M376.15 141.56 L376.75 141.09 L377.78 140.45 L376.78 140.8 L376.18 141.21 L376.15 141.56M373.99 138.75 L374.13 138.11 L374.09 137.64 L373.75 137.24 L373.97 136.83 L374.3 135.48 L374.45 135.25 L374.85 134.84 L375.88 135.07 L376.5 135.07 L377 134.67 L376.66 135.37 L376.3 135.48 L375.78 135.37 L374.96 135.37 L374.5 135.48 L374.45 135.89 L374.85 136.42 L375.16 136.18 L376.09 135.95 L375.15 136.71 L375.64 137.47 L375.48 137.64 L375.95 138.7 L375.63 138.81 L375.46 138.23 L375.15 138.05 L374.84 138.29 L374.81 137.7 L374.56 138.81 L373.99 138.75M378.43 134.32 L378.85 134.96 L378.55 135.37 L378.81 136.01 L378.35 135.78 L378.24 134.9 L378.43 134.32M378.46 137.59 L379.75 137.35 L379.88 137.88 L378.61 137.7 L378.46 137.59M380.03 136.36 L380.76 135.83 L381.58 136.07 L381.75 137.24 L382.3 137.59 L383.31 136.48 L383.77 136.59 L384.58 137 L385.14 137.12 L386 137.53 L386.96 137.88 L387.54 138.58 L387.57 138.81 L388.42 139.16 L388.55 139.45 L388.04 139.51 L388.16 139.92 L388.59 140.27 L388.84 140.91 L389.34 140.97 L389.12 141.15 L389.83 141.62 L389.4 141.85 L388.37 141.5 L387.99 141.15 L387.51 140.33 L386.87 140.04 L386.45 140.21 L386.12 140.39 L386.13 140.86 L385.71 141.03 L384.9 140.91 L384.48 140.45 L383.98 140.33 L383.86 140.51 L383.2 140.51 L383.44 140.04 L383.81 139.86 L383.7 139.22 L383.48 138.75 L382.53 138.23 L382.12 138.23 L381.38 137.64 L381.21 137.94 L380.9 137.99 L380.91 137.76 L380.52 137.24 L381.09 137.06 L380.48 136.88 L379.78 136.13 L380.03 136.36M388.8 138.87 L389.88 138.81 L390.73 138.29 L390.65 138.81 L389.9 139.28 L388.8 138.87M369.83 148.45 L369.59 149.97 L369.67 150.96 L369.56 152.83 L369.22 154.06 L369.16 155.05 L368.63 155.57 L369.22 156.04 L369.88 156.1 L371.05 155.46 L371.83 155.34 L372.92 155.4 L373.37 154.87 L374.48 154.41 L375.96 154.11 L377.18 154 L377.71 154.29 L378.4 154.64 L378.36 155.75 L378.45 155.98 L379.32 155.34 L380.05 154.87 L379.58 155.52 L379.79 155.69 L379.75 156.1 L379.92 156.45 L379.82 157.15 L379.96 157.79 L380.44 157.96 L381.09 158.26 L381.79 157.85 L382.36 158.37 L383.15 157.91 L383.71 157.67 L384.57 157.5 L385.01 156.86 L385.88 155.92 L386.37 155.34 L387.01 154.7 L387.75 154.06 L388.34 153 L388.93 152.01 L389.09 150.78 L389.12 150.38 L388.8 149.91 L388.46 149.32 L388.39 148.8 L388.2 148.51 L387.91 148.04 L387.77 147.51 L387.18 146.99 L386.74 146.7 L386.73 146 L386.65 145.41 L386.55 145.12 L386.6 144.59 L386.48 144.13 L386.2 143.95 L385.87 143.78 L385.87 143.08 L385.57 141.85 L385.32 142.2 L385.07 143.02 L384.81 144.36 L384.57 145.18 L384 145.76 L383.69 145.76 L383.34 145.76 L383.05 145.41 L382.39 144.89 L381.91 144.42 L381.64 144.19 L381.76 143.72 L382.32 143.37 L382.5 142.78 L382.32 142.55 L381.79 142.73 L381.25 142.55 L380.62 142.26 L380.46 142.37 L380.07 142.2 L379.48 142.9 L379.13 143.25 L378.66 144.01 L378.56 144.36 L377.95 144.36 L377.84 144.07 L377.54 143.66 L376.95 143.89 L376.46 144.13 L375.97 144.71 L375.38 145.24 L374.74 145.7 L374.3 146.52 L373.97 146.93 L373.25 147.28 L372.71 147.51 L371.97 147.69 L371.56 147.75 L370.88 148.16 L370.4 148.33 L370.13 148.74 L369.83 148.45M381.01 159.36 L381.66 159.59 L382.63 159.47 L382.22 160.11 L381.56 160.8 L380.94 161.03 L380.61 160.98 L380.59 160.52 L380.72 160.11 L381.01 159.36M396.57 155.69 L396.88 156.16 L396.87 156.74 L396.84 157.32 L397.23 157.09 L397.12 157.56 L397.54 157.79 L398.18 157.62 L397.73 158.14 L397.3 158.49 L396.58 158.89 L396.45 159.01 L395.5 159.71 L394.94 159.94 L394.89 159.71 L395.47 159.24 L395.58 158.84 L395.35 158.49 L395.89 158.26 L396.48 157.44 L396.62 156.92 L396.8 156.62 L396.45 156.16 L396.57 155.69M394.34 159.24 L394.18 159.71 L394.65 159.71 L394.43 159.99 L394.11 160.23 L393.6 160.63 L393 160.92 L392.95 161.21 L392.58 161.21 L392.07 161.38 L391.61 161.78 L390.86 162.36 L390.26 162.64 L389.93 162.76 L389.52 162.76 L389.39 162.58 L388.93 162.53 L388.98 162.36 L389.58 161.9 L390.64 161.32 L391.01 161.21 L392.16 160.69 L392.67 160.4 L393.21 159.99 L393.49 159.82 L393.8 159.53 L394.34 159.24M353.72 131.63 L353.58 130.81 L353.74 129.88 L354.11 130.17 L354.39 130.58 L354.67 131.22 L354.6 131.8 L353.94 132.1 L353.72 131.63M317.12 111.44 L317.29 110.97 L317.18 110.51 L316.86 110.74 L316.87 111.15 L317.12 111.44M317.32 111.73 L317.42 111.96 L317.41 112.71 L317.08 112.83 L316.79 112.71 L316.77 112.02 L316.66 111.67 L317.32 111.73M320.2 113.29 L320.06 114.23 L318.73 113.64 L319.29 113.29 L320.2 113.29M324.24 114.75 L325.51 114.98 L324.52 115.22 L324.16 114.98M328.8 115.39 L329.5 114.75 L328.42 115.1 L328.8 115.39M253.64 179.11 L257.02 179.15 L260.04 179.02 L262.13 178.37 L263.95 177.83 L265.88 177.51 L268.98 177.23 L272.49 177.23 L275.89 177.14 L277.5 177 L280.61 176.53 L283.82 176.05 L284.97 175.62 L286.98 175.33 L287.51 174.34 L287.72 173.33 L288.3 172.57 L289.26 171.68 L290.2 172 L289.94 172.72 L289.58 173.59 L289.72 174.59 L290.2 175.81 L290.41 176.76 L290.62 177.51 L293.06 178.14 L295.65 178.5 L297.72 178.59 L299.9 178.23 L302.37 177.51 L305.65 176.53 L308.43 175.81 L310.36 175.28 L312.8 175.72 L314.64 175.47 L316.49 175.33 L318.34 175.28 L320.18 175.33 L321.99 175.47 L323.89 175.23 L325.83 174.94 L327.76 174.74 L329.83 174.24 L331.89 173.84 L333.91 173.59 L335.65 173.94 L337.47 174.09 L339.28 174.24 L339.15 175.08 L340.53 175.23 L342.08 174.59 L344 173.99 L346.54 173.64 L349.38 173.44 L351.47 173.23 L353.32 173.33 L355.15 173.44 L356.74 173.79 L358.7 173.74 L360.83 173.54 L362.85 173.44 L364.89 173.33 L366.41 173.69 L367.84 174.09 L369.1 174.59 L370.65 174.84 L371.96 175.23 L372.35 175.72 L373.65 176.05 L373.78 176.53 L372.45 177 L370.58 177.46 L368.71 177.92 L367.26 178.59 L366.88 179.02 L367.41 179.23 L369.23 179.15 L370.55 179.15 L371.96 179.11M335.14 108.5 L336.2 108.22 L337.04 108.44 L337.14 109.19 L336.37 109.25 L336.35 109.71 L337.33 110.92 L337.65 111.67 L338.11 112.25 L338.44 113.12 L338.67 113.76 L337.78 114.17 L336.91 113.88 L336.25 113.64 L336.1 113.12 L336.15 112.13 L335.57 111.21 L334.91 110.51 L334.79 109.76 L334.34 109.59 L334.59 109.07 L335.14 108.5M339.45 108.44 L340.61 108.5 L341.09 109.36 L340.4 110.17 L339.65 109.48 L339.45 108.44M358.56 105.55 L359.16 105.11 L359.69 104.27 L359.67 103.33 L359.32 103.44 L359.23 104.55 L358.61 105.27 L358.56 105.55M329.23 135.78 L330.15 135.42 L330.25 136.18 L329.83 137.06 L329.12 136.71 L329.23 135.78M327.73 137.59 L328.07 139.1 L328.66 140.62 L328.57 139.86 L327.97 138.4 L327.73 137.59M330.18 141.15 L330.56 142.32 L330.76 143.95 L330.39 142.9 L330.18 141.15M270.87 108.39 L271.8 108.44 L272.75 108.04 L272.91 108.5 L274.23 108.5 L274.38 107.93 L274.14 107.25 L272.97 107.36 L272.38 107.65 L270.87 108.39M271.7 111.09 L272.12 109.94 L272.97 108.9 L273.93 108.79 L273.51 109.25 L272.93 109.65 L272.58 110.51 L272.12 111.09 L271.7 111.09M274.09 108.84 L274.5 109.19 L274.32 109.76 L274.4 110.51 L275.04 109.82 L275.72 109.48 L275.92 108.96 L275.33 108.73 L274.09 108.84M273.7 111.26 L274.57 111.32 L275.99 110.63 L275.24 110.74 L274.2 111.03 L273.7 111.26M275.72 110.34 L276.56 110.34 L277.43 110.22 L277.48 109.82 L276.7 109.94 L275.94 110.11 L275.72 110.34M269.52 106.23 L270.27 105.67 L270.16 104.38 L269.84 104.55 L269.52 106.23M265.38 100.36 L266.71 100.47 L268.63 99.62 L267.59 99.68 L266.16 99.94 L265.38 100.36M264.7 98.12 L265.51 98.48 L267.08 97.87 L267 97.36 L265.59 97.61 L264.7 98.12" fill="none" stroke="#111" stroke-width="1.0" stroke-linejoin="round"/></g><path d="M361.98 88.5 L363.69 88.98 L365.67 89.63 L367.86 90.42 L370.21 91.35 L372.64 92.39 L375 93.51 L377.18 94.67 L379.2 95.87 L381.13 97.11 L383 98.38 L384.82 99.68 L386.59 101 L388.31 102.35 L389.95 103.72 L391.53 105.11 L392.99 106.51 L394.34 107.93 L395.61 109.36 L396.82 110.8 L397.96 112.25 L398.98 113.7 L399.91 115.16 L400.75 116.62 L401.5 118.08 L402.16 119.54 L402.71 121 L403.16 122.46 L403.56 123.92 L403.93 125.38 L404.28 126.84 L404.56 128.3 L404.77 129.76 L404.95 131.22 L405.07 132.68 L405.15 134.14 L405.2 135.6 L405.15 137.06 L405.07 138.52 L404.95 139.98 L404.77 141.44 L404.56 142.9 L404.28 144.36 L403.93 145.82 L403.56 147.28 L403.16 148.74 L402.71 150.2 L402.16 151.66 L401.5 153.12 L400.75 154.58 L399.91 156.04 L398.98 157.5 L397.96 158.95 L396.82 160.4 L395.61 161.84 L394.34 163.27 L392.99 164.69 L391.53 166.09 L389.95 167.48 L388.31 168.85 L386.59 170.2 L384.82 171.52 L383 172.82 L381.13 174.09 L379.2 175.33 L377.18 176.53 L375 177.69 L372.64 178.81 L370.21 179.85 L367.86 180.78 L365.67 181.57 L363.69 182.22 L361.98 182.7 L263.62 182.7 L261.91 182.22 L259.93 181.57 L257.74 180.78 L255.39 179.85 L252.96 178.81 L250.6 177.69 L248.42 176.53 L246.4 175.33 L244.47 174.09 L242.6 172.82 L240.78 171.52 L239.01 170.2 L237.29 168.85 L235.65 167.48 L234.07 166.09 L232.61 164.69 L231.26 163.27 L229.99 161.84 L228.78 160.4 L227.64 158.95 L226.62 157.5 L225.69 156.04 L224.85 154.58 L224.1 153.12 L223.44 151.66 L222.89 150.2 L222.44 148.74 L222.04 147.28 L221.67 145.82 L221.32 144.36 L221.04 142.9 L220.83 141.44 L220.65 139.98 L220.53 138.52 L220.45 137.06 L220.4 135.6 L220.45 134.14 L220.53 132.68 L220.65 131.22 L220.83 129.76 L221.04 128.3 L221.32 126.84 L221.67 125.38 L222.04 123.92 L222.44 122.46 L222.89 121 L223.44 119.54 L224.1 118.08 L224.85 116.62 L225.69 115.16 L226.62 113.7 L227.64 112.25 L228.78 110.8 L229.99 109.36 L231.26 107.93 L232.61 106.51 L234.07 105.11 L235.65 103.72 L237.29 102.35 L239.01 101 L240.78 99.68 L242.6 98.38 L244.47 97.11 L246.4 95.87 L248.42 94.67 L250.6 93.51 L252.96 92.39 L255.39 91.35 L257.74 90.42 L259.93 89.63 L261.91 88.98 L263.62 88.5Z" fill="none" stroke="#555" stroke-width="0.9"/><rect x="299" y="158.4" width="8.1" height="8.4" fill="#7b7b7d" stroke="#4a4a4a" stroke-width="0.7"/><text x="310.7" y="165" class="nc">No change</text>
<rect x="238.1" y="188.3" width="7.46" height="8.6" fill="#0d4a40" stroke="#222" stroke-width="0.6"/><rect x="245.56" y="188.3" width="7.46" height="8.6" fill="#13665a" stroke="#222" stroke-width="0.6"/><rect x="253.02" y="188.3" width="7.46" height="8.6" fill="#1a7f72" stroke="#222" stroke-width="0.6"/><rect x="260.49" y="188.3" width="7.46" height="8.6" fill="#2a9486" stroke="#222" stroke-width="0.6"/><rect x="267.95" y="188.3" width="7.46" height="8.6" fill="#4aaa9a" stroke="#222" stroke-width="0.6"/><rect x="275.41" y="188.3" width="7.46" height="8.6" fill="#68bcae" stroke="#222" stroke-width="0.6"/><rect x="282.87" y="188.3" width="7.46" height="8.6" fill="#8dd0c4" stroke="#222" stroke-width="0.6"/><rect x="290.33" y="188.3" width="7.46" height="8.6" fill="#addfd7" stroke="#222" stroke-width="0.6"/><rect x="297.8" y="188.3" width="7.46" height="8.6" fill="#c9ebe6" stroke="#222" stroke-width="0.6"/><rect x="305.26" y="188.3" width="7.46" height="8.6" fill="#e8f5f3" stroke="#222" stroke-width="0.6"/><rect x="312.72" y="188.3" width="7.46" height="8.6" fill="#f4f0e6" stroke="#222" stroke-width="0.6"/><rect x="320.18" y="188.3" width="7.46" height="8.6" fill="#f3e7cc" stroke="#222" stroke-width="0.6"/><rect x="327.64" y="188.3" width="7.46" height="8.6" fill="#efdcb0" stroke="#222" stroke-width="0.6"/><rect x="335.1" y="188.3" width="7.46" height="8.6" fill="#e9cc92" stroke="#222" stroke-width="0.6"/><rect x="342.57" y="188.3" width="7.46" height="8.6" fill="#e0b872" stroke="#222" stroke-width="0.6"/><rect x="350.03" y="188.3" width="7.46" height="8.6" fill="#d7a55a" stroke="#222" stroke-width="0.6"/><rect x="357.49" y="188.3" width="7.46" height="8.6" fill="#cd9040" stroke="#222" stroke-width="0.6"/><rect x="364.95" y="188.3" width="7.46" height="8.6" fill="#bf7d30" stroke="#222" stroke-width="0.6"/><rect x="372.41" y="188.3" width="7.46" height="8.6" fill="#a8662a" stroke="#222" stroke-width="0.6"/><rect x="379.88" y="188.3" width="7.46" height="8.6" fill="#8f5326" stroke="#222" stroke-width="0.6"/><rect x="387.34" y="188.3" width="7.46" height="8.6" fill="#6d3c1a" stroke="#222" stroke-width="0.6"/><text transform="translate(250.66 206.5) scale(0.92 1)" text-anchor="end" class="tn">−0.9</text><text transform="translate(273.05 206.5) scale(0.92 1)" text-anchor="end" class="tn">−0.6</text><text transform="translate(295.43 206.5) scale(0.92 1)" text-anchor="end" class="tn">−0.3</text><text transform="translate(312.72 206.5) scale(0.92 1)" text-anchor="middle" class="tn">0</text><text transform="translate(335.1 206.5) scale(0.92 1)" text-anchor="middle" class="tn">0.3</text><text transform="translate(357.49 206.5) scale(0.92 1)" text-anchor="middle" class="tn">0.6</text><text transform="translate(379.88 206.5) scale(0.92 1)" text-anchor="middle" class="tn">0.9</text><text x="312.72" y="214.9" text-anchor="middle" class="t7">Trend <tspan font-size="5.2" dy="-0.7">•</tspan><tspan dy="0.7"> years</tspan></text>
<clipPath id="clipC"><path d="M551.32 90 L553.03 90.47 L555 91.11 L557.18 91.9 L559.52 92.82 L561.94 93.85 L564.3 94.95 L566.47 96.1 L568.48 97.29 L570.41 98.51 L572.27 99.76 L574.08 101.05 L575.85 102.35 L577.56 103.69 L579.2 105.04 L580.77 106.41 L582.23 107.8 L583.58 109.2 L584.84 110.62 L586.05 112.04 L587.18 113.47 L588.2 114.91 L589.12 116.35 L589.96 117.79 L590.72 119.23 L591.37 120.68 L591.91 122.12 L592.36 123.56 L592.76 125.01 L593.14 126.45 L593.48 127.89 L593.76 129.33 L593.98 130.78 L594.15 132.22 L594.27 133.66 L594.35 135.11 L594.4 136.55 L594.35 137.99 L594.27 139.44 L594.15 140.88 L593.98 142.32 L593.76 143.77 L593.48 145.21 L593.14 146.65 L592.76 148.09 L592.36 149.54 L591.91 150.98 L591.37 152.42 L590.72 153.87 L589.96 155.31 L589.12 156.75 L588.2 158.19 L587.18 159.63 L586.05 161.06 L584.84 162.48 L583.58 163.9 L582.23 165.3 L580.77 166.69 L579.2 168.06 L577.56 169.41 L575.85 170.75 L574.08 172.05 L572.27 173.34 L570.41 174.59 L568.48 175.81 L566.47 177 L564.3 178.15 L561.94 179.25 L559.52 180.28 L557.18 181.2 L555 181.99 L553.03 182.63 L551.32 183.1 L453.28 183.1 L451.57 182.63 L449.6 181.99 L447.42 181.2 L445.08 180.28 L442.66 179.25 L440.3 178.15 L438.13 177 L436.12 175.81 L434.19 174.59 L432.33 173.34 L430.52 172.05 L428.75 170.75 L427.04 169.41 L425.4 168.06 L423.83 166.69 L422.37 165.3 L421.02 163.9 L419.76 162.48 L418.55 161.06 L417.42 159.63 L416.4 158.19 L415.48 156.75 L414.64 155.31 L413.88 153.87 L413.23 152.42 L412.69 150.98 L412.24 149.54 L411.84 148.09 L411.46 146.65 L411.12 145.21 L410.84 143.77 L410.62 142.32 L410.45 140.88 L410.33 139.44 L410.25 137.99 L410.2 136.55 L410.25 135.11 L410.33 133.66 L410.45 132.22 L410.62 130.78 L410.84 129.33 L411.12 127.89 L411.46 126.45 L411.84 125.01 L412.24 123.56 L412.69 122.12 L413.23 120.68 L413.88 119.23 L414.64 117.79 L415.48 116.35 L416.4 114.91 L417.42 113.47 L418.55 112.04 L419.76 110.62 L421.02 109.2 L422.37 107.8 L423.83 106.41 L425.4 105.04 L427.04 103.69 L428.75 102.35 L430.52 101.05 L432.33 99.76 L434.19 98.51 L436.12 97.29 L438.13 96.1 L440.3 94.95 L442.66 93.85 L445.08 92.82 L447.42 91.9 L449.6 91.11 L451.57 90.47 L453.28 90Z"/></clipPath><path d="M551.32 90 L553.03 90.47 L555 91.11 L557.18 91.9 L559.52 92.82 L561.94 93.85 L564.3 94.95 L566.47 96.1 L568.48 97.29 L570.41 98.51 L572.27 99.76 L574.08 101.05 L575.85 102.35 L577.56 103.69 L579.2 105.04 L580.77 106.41 L582.23 107.8 L583.58 109.2 L584.84 110.62 L586.05 112.04 L587.18 113.47 L588.2 114.91 L589.12 116.35 L589.96 117.79 L590.72 119.23 L591.37 120.68 L591.91 122.12 L592.36 123.56 L592.76 125.01 L593.14 126.45 L593.48 127.89 L593.76 129.33 L593.98 130.78 L594.15 132.22 L594.27 133.66 L594.35 135.11 L594.4 136.55 L594.35 137.99 L594.27 139.44 L594.15 140.88 L593.98 142.32 L593.76 143.77 L593.48 145.21 L593.14 146.65 L592.76 148.09 L592.36 149.54 L591.91 150.98 L591.37 152.42 L590.72 153.87 L589.96 155.31 L589.12 156.75 L588.2 158.19 L587.18 159.63 L586.05 161.06 L584.84 162.48 L583.58 163.9 L582.23 165.3 L580.77 166.69 L579.2 168.06 L577.56 169.41 L575.85 170.75 L574.08 172.05 L572.27 173.34 L570.41 174.59 L568.48 175.81 L566.47 177 L564.3 178.15 L561.94 179.25 L559.52 180.28 L557.18 181.2 L555 181.99 L553.03 182.63 L551.32 183.1 L453.28 183.1 L451.57 182.63 L449.6 181.99 L447.42 181.2 L445.08 180.28 L442.66 179.25 L440.3 178.15 L438.13 177 L436.12 175.81 L434.19 174.59 L432.33 173.34 L430.52 172.05 L428.75 170.75 L427.04 169.41 L425.4 168.06 L423.83 166.69 L422.37 165.3 L421.02 163.9 L419.76 162.48 L418.55 161.06 L417.42 159.63 L416.4 158.19 L415.48 156.75 L414.64 155.31 L413.88 153.87 L413.23 152.42 L412.69 150.98 L412.24 149.54 L411.84 148.09 L411.46 146.65 L411.12 145.21 L410.84 143.77 L410.62 142.32 L410.45 140.88 L410.33 139.44 L410.25 137.99 L410.2 136.55 L410.25 135.11 L410.33 133.66 L410.45 132.22 L410.62 130.78 L410.84 129.33 L411.12 127.89 L411.46 126.45 L411.84 125.01 L412.24 123.56 L412.69 122.12 L413.23 120.68 L413.88 119.23 L414.64 117.79 L415.48 116.35 L416.4 114.91 L417.42 113.47 L418.55 112.04 L419.76 110.62 L421.02 109.2 L422.37 107.8 L423.83 106.41 L425.4 105.04 L427.04 103.69 L428.75 102.35 L430.52 101.05 L432.33 99.76 L434.19 98.51 L436.12 97.29 L438.13 96.1 L440.3 94.95 L442.66 93.85 L445.08 92.82 L447.42 91.9 L449.6 91.11 L451.57 90.47 L453.28 90Z" fill="#c6c7c9"/><g clip-path="url(#clipC)"><path d="M442.01 116.35 L444.42 116.35 L445.71 113.47 L443.36 113.47Z" fill="#efbcd9"/><path d="M443.36 113.47 L445.71 113.47 L447.27 110.62 L444.98 110.62Z" fill="#f4d3e5"/><path d="M444.98 110.62 L447.27 110.62 L449.01 107.8 L446.79 107.8Z" fill="#f4d3e5"/><path d="M443.36 119.23 L445.81 119.23 L446.83 116.35 L444.42 116.35Z" fill="#f4d3e5"/><path d="M444.42 116.35 L446.83 116.35 L448.07 113.47 L445.71 113.47Z" fill="#efbcd9"/><path d="M445.71 113.47 L448.07 113.47 L449.57 110.62 L447.27 110.62Z" fill="#f4d3e5"/><path d="M447.27 110.62 L449.57 110.62 L451.23 107.8 L449.01 107.8Z" fill="#f4d3e5"/><path d="M445.81 119.23 L448.27 119.23 L449.24 116.35 L446.83 116.35Z" fill="#efbcd9"/><path d="M446.83 116.35 L449.24 116.35 L450.43 113.47 L448.07 113.47Z" fill="#efbcd9"/><path d="M449.57 110.62 L451.86 110.62 L453.45 107.8 L451.23 107.8Z" fill="#f4d3e5"/><path d="M448.27 119.23 L450.72 119.23 L451.65 116.35 L449.24 116.35Z" fill="#f4d3e5"/><path d="M449.24 116.35 L451.65 116.35 L452.79 113.47 L450.43 113.47Z" fill="#f4d3e5"/><path d="M450.43 113.47 L452.79 113.47 L454.15 110.62 L451.86 110.62Z" fill="#f4d3e5"/><path d="M450.72 119.23 L453.18 119.23 L454.07 116.35 L451.65 116.35Z" fill="#f4d3e5"/><path d="M451.65 116.35 L454.07 116.35 L455.14 113.47 L452.79 113.47Z" fill="#f4d3e5"/><path d="M452.79 113.47 L455.14 113.47 L456.44 110.62 L454.15 110.62Z" fill="#f4d3e5"/><path d="M453.18 119.23 L455.64 119.23 L456.48 116.35 L454.07 116.35Z" fill="#eef6e2"/><path d="M454.07 116.35 L456.48 116.35 L457.5 113.47 L455.14 113.47Z" fill="#eef6e2"/><path d="M455.14 113.47 L457.5 113.47 L458.74 110.62 L456.44 110.62Z" fill="#eef6e2"/><path d="M455.64 119.23 L458.09 119.23 L458.89 116.35 L456.48 116.35Z" fill="#eef6e2"/><path d="M459.98 122.12 L462.47 122.12 L463 119.23 L460.55 119.23Z" fill="#eaa6cc"/><path d="M466.93 113.47 L469.29 113.47 L470.2 110.62 L467.91 110.62Z" fill="#f7e6ef"/><path d="M467.91 110.62 L470.2 110.62 L471.21 107.8 L468.99 107.8Z" fill="#f9f3f6"/><path d="M497.58 113.47 L499.94 113.47 L500.01 110.62 L497.71 110.62Z" fill="#e58fbf"/><path d="M497.86 107.8 L500.08 107.8 L500.16 105.04 L498.03 105.04Z" fill="#f9f3f6"/><path d="M500.08 107.8 L502.3 107.8 L502.3 105.04 L500.16 105.04Z" fill="#f7e6ef"/><path d="M500.16 105.04 L502.3 105.04 L502.3 102.35 L500.26 102.35Z" fill="#c8e6a6"/><path d="M502.3 107.8 L504.52 107.8 L504.44 105.04 L502.3 105.04Z" fill="#f4d3e5"/><path d="M504.59 110.62 L506.89 110.62 L506.74 107.8 L504.52 107.8Z" fill="#f7e6ef"/><path d="M504.52 107.8 L506.74 107.8 L506.57 105.04 L504.44 105.04Z" fill="#f7e6ef"/><path d="M507.02 113.47 L509.37 113.47 L509.18 110.62 L506.89 110.62Z" fill="#efbcd9"/><path d="M506.89 110.62 L509.18 110.62 L508.96 107.8 L506.74 107.8Z" fill="#f7e6ef"/><path d="M506.57 105.04 L508.71 105.04 L508.43 102.35 L506.39 102.35Z" fill="#efbcd9"/><path d="M509.18 110.62 L511.47 110.62 L511.18 107.8 L508.96 107.8Z" fill="#f9f3f6"/><path d="M508.71 105.04 L510.84 105.04 L510.47 102.35 L508.43 102.35Z" fill="#f7e6ef"/><path d="M511.47 110.62 L513.76 110.62 L513.4 107.8 L511.18 107.8Z" fill="#f9f3f6"/><path d="M514.09 113.47 L516.45 113.47 L516.06 110.62 L513.76 110.62Z" fill="#efbcd9"/><path d="M513.76 110.62 L516.06 110.62 L515.62 107.8 L513.4 107.8Z" fill="#efbcd9"/><path d="M513.4 107.8 L515.62 107.8 L515.12 105.04 L512.98 105.04Z" fill="#f9f3f6"/><path d="M512.52 102.35 L514.56 102.35 L513.96 99.76 L512.02 99.76Z" fill="#f9f3f6"/><path d="M515.62 107.8 L517.84 107.8 L517.25 105.04 L515.12 105.04Z" fill="#efbcd9"/><path d="M515.12 105.04 L517.25 105.04 L516.6 102.35 L514.56 102.35Z" fill="#efbcd9"/><path d="M518.8 113.47 L521.16 113.47 L520.64 110.62 L518.35 110.62Z" fill="#f9f3f6"/><path d="M518.35 110.62 L520.64 110.62 L520.06 107.8 L517.84 107.8Z" fill="#f7e6ef"/><path d="M517.25 105.04 L519.39 105.04 L518.64 102.35 L516.6 102.35Z" fill="#efbcd9"/><path d="M516.6 102.35 L518.64 102.35 L517.85 99.76 L515.9 99.76Z" fill="#f9f3f6"/><path d="M521.16 113.47 L523.52 113.47 L522.94 110.62 L520.64 110.62Z" fill="#efbcd9"/><path d="M520.64 110.62 L522.94 110.62 L522.28 107.8 L520.06 107.8Z" fill="#f4d3e5"/><path d="M520.06 107.8 L522.28 107.8 L521.53 105.04 L519.39 105.04Z" fill="#f4d3e5"/><path d="M518.64 102.35 L520.69 102.35 L519.79 99.76 L517.85 99.76Z" fill="#f9f3f6"/><path d="M523.52 113.47 L525.88 113.47 L525.23 110.62 L522.94 110.62Z" fill="#f9f3f6"/><path d="M521.53 105.04 L523.66 105.04 L522.73 102.35 L520.69 102.35Z" fill="#efbcd9"/><path d="M520.69 102.35 L522.73 102.35 L521.74 99.76 L519.79 99.76Z" fill="#f4d3e5"/><path d="M525.88 113.47 L528.24 113.47 L527.52 110.62 L525.23 110.62Z" fill="#f7e6ef"/><path d="M523.66 105.04 L525.8 105.04 L524.77 102.35 L522.73 102.35Z" fill="#efbcd9"/><path d="M522.73 102.35 L524.77 102.35 L523.68 99.76 L521.74 99.76Z" fill="#f4d3e5"/><path d="M527.52 110.62 L529.81 110.62 L528.94 107.8 L526.72 107.8Z" fill="#f7e6ef"/><path d="M526.72 107.8 L528.94 107.8 L527.93 105.04 L525.8 105.04Z" fill="#f7e6ef"/><path d="M530.59 113.47 L532.95 113.47 L532.11 110.62 L529.81 110.62Z" fill="#f9f3f6"/><path d="M529.81 110.62 L532.11 110.62 L531.16 107.8 L528.94 107.8Z" fill="#f7e6ef"/><path d="M528.94 107.8 L531.16 107.8 L530.07 105.04 L527.93 105.04Z" fill="#efbcd9"/><path d="M527.93 105.04 L530.07 105.04 L528.86 102.35 L526.82 102.35Z" fill="#f4d3e5"/><path d="M526.82 102.35 L528.86 102.35 L527.57 99.76 L525.62 99.76Z" fill="#f9f3f6"/><path d="M532.11 110.62 L534.4 110.62 L533.39 107.8 L531.16 107.8Z" fill="#f7e6ef"/><path d="M533.39 107.8 L535.61 107.8 L534.34 105.04 L532.21 105.04Z" fill="#efbcd9"/><path d="M537.67 113.47 L540.02 113.47 L538.98 110.62 L536.69 110.62Z" fill="#f9f3f6"/><path d="M536.48 105.04 L538.62 105.04 L537.03 102.35 L534.99 102.35Z" fill="#f9f3f6"/><path d="M540.05 107.8 L542.27 107.8 L540.75 105.04 L538.62 105.04Z" fill="#f4d3e5"/><path d="M542.27 107.8 L544.49 107.8 L542.89 105.04 L540.75 105.04Z" fill="#de72ae"/><path d="M540.75 105.04 L542.89 105.04 L541.12 102.35 L539.08 102.35Z" fill="#efbcd9"/><path d="M542.89 105.04 L545.02 105.04 L543.16 102.35 L541.12 102.35Z" fill="#f9f3f6"/><path d="M541.12 102.35 L543.16 102.35 L541.17 99.76 L539.23 99.76Z" fill="#f4d3e5"/><path d="M549.46 113.47 L551.81 113.47 L550.45 110.62 L548.16 110.62Z" fill="#f9f3f6"/><path d="M551.81 113.47 L554.17 113.47 L552.74 110.62 L550.45 110.62Z" fill="#f4d3e5"/><path d="M545.2 102.35 L547.25 102.35 L545.06 99.76 L543.11 99.76Z" fill="#f7e6ef"/><path d="M554.17 113.47 L556.53 113.47 L555.03 110.62 L552.74 110.62Z" fill="#efbcd9"/><path d="M551.15 107.8 L553.37 107.8 L551.43 105.04 L549.3 105.04Z" fill="#f7e6ef"/><path d="M553.37 107.8 L555.59 107.8 L553.57 105.04 L551.43 105.04Z" fill="#efbcd9"/><path d="M549.29 102.35 L551.33 102.35 L548.95 99.76 L547 99.76Z" fill="#f4d3e5"/><path d="M558.89 113.47 L561.24 113.47 L559.62 110.62 L557.33 110.62Z" fill="#efbcd9"/><path d="M561.24 113.47 L563.6 113.47 L561.91 110.62 L559.62 110.62Z" fill="#f9f3f6"/><path d="M557.81 107.8 L560.03 107.8 L557.84 105.04 L555.71 105.04Z" fill="#f9f3f6"/><path d="M555.71 105.04 L557.84 105.04 L555.42 102.35 L553.38 102.35Z" fill="#f9f3f6"/><path d="M444.62 105.04 L446.76 105.04 L449.18 102.35 L447.14 102.35Z" fill="#f4d3e5"/><path d="M446.76 105.04 L448.89 105.04 L451.22 102.35 L449.18 102.35Z" fill="#f9f3f6"/><path d="M446.79 107.8 L449.01 107.8 L451.03 105.04 L448.89 105.04Z" fill="#f7e6ef"/><path d="M448.89 105.04 L451.03 105.04 L453.27 102.35 L451.22 102.35Z" fill="#f9f3f6"/><path d="M451.03 105.04 L453.17 105.04 L455.31 102.35 L453.27 102.35Z" fill="#f9f3f6"/><path d="M451.23 107.8 L453.45 107.8 L455.3 105.04 L453.17 105.04Z" fill="#f9f3f6"/><path d="M451.86 110.62 L454.15 110.62 L455.67 107.8 L453.45 107.8Z" fill="#f7e6ef"/><path d="M454.15 110.62 L456.44 110.62 L457.89 107.8 L455.67 107.8Z" fill="#f9f3f6"/><path d="M552.09 122.12 L554.57 122.12 L553.88 119.23 L551.42 119.23Z" fill="#efbcd9"/><path d="M550.53 116.35 L552.95 116.35 L551.81 113.47 L549.46 113.47Z" fill="#f9f3f6"/><path d="M554.57 122.12 L557.06 122.12 L556.33 119.23 L553.88 119.23Z" fill="#f4d3e5"/><path d="M553.88 119.23 L556.33 119.23 L555.36 116.35 L552.95 116.35Z" fill="#f9f3f6"/><path d="M552.95 116.35 L555.36 116.35 L554.17 113.47 L551.81 113.47Z" fill="#f9f3f6"/><path d="M557.06 122.12 L559.55 122.12 L558.79 119.23 L556.33 119.23Z" fill="#efbcd9"/><path d="M556.33 119.23 L558.79 119.23 L557.77 116.35 L555.36 116.35Z" fill="#f4d3e5"/><path d="M558.79 119.23 L561.24 119.23 L560.18 116.35 L557.77 116.35Z" fill="#f9f3f6"/><path d="M537.76 127.89 L540.29 127.89 L539.99 125.01 L537.48 125.01Z" fill="#efbcd9"/><path d="M539.99 125.01 L542.5 125.01 L542.13 122.12 L539.64 122.12Z" fill="#efbcd9"/><path d="M542.13 122.12 L544.62 122.12 L544.05 119.23 L541.6 119.23Z" fill="#eaa6cc"/><path d="M545.02 125.01 L547.53 125.01 L547.11 122.12 L544.62 122.12Z" fill="#de72ae"/><path d="M557.77 156.75 L560.18 156.75 L561.24 153.87 L558.79 153.87Z" fill="#f4d3e5"/><path d="M558.79 153.87 L561.24 153.87 L562.04 150.98 L559.55 150.98Z" fill="#f7e6ef"/><path d="M560.18 156.75 L562.59 156.75 L563.7 153.87 L561.24 153.87Z" fill="#f4d3e5"/><path d="M561.24 153.87 L563.7 153.87 L564.53 150.98 L562.04 150.98Z" fill="#f4d3e5"/><path d="M562.04 150.98 L564.53 150.98 L565.12 148.09 L562.61 148.09Z" fill="#f4d3e5"/><path d="M562.61 148.09 L565.12 148.09 L565.62 145.21 L563.09 145.21Z" fill="#f7e6ef"/><path d="M563.7 153.87 L566.16 153.87 L567.02 150.98 L564.53 150.98Z" fill="#f4d3e5"/><path d="M564.53 150.98 L567.02 150.98 L567.63 148.09 L565.12 148.09Z" fill="#d6529c"/><path d="M565.12 148.09 L567.63 148.09 L568.15 145.21 L565.62 145.21Z" fill="#f7e6ef"/><path d="M565.01 156.75 L567.42 156.75 L568.61 153.87 L566.16 153.87Z" fill="#f7e6ef"/><path d="M566.16 153.87 L568.61 153.87 L569.51 150.98 L567.02 150.98Z" fill="#f7e6ef"/><path d="M567.02 150.98 L569.51 150.98 L570.15 148.09 L567.63 148.09Z" fill="#efbcd9"/><path d="M567.42 156.75 L569.83 156.75 L571.07 153.87 L568.61 153.87Z" fill="#f4d3e5"/><path d="M568.61 153.87 L571.07 153.87 L572 150.98 L569.51 150.98Z" fill="#f4d3e5"/><path d="M569.51 150.98 L572 150.98 L572.66 148.09 L570.15 148.09Z" fill="#de72ae"/><path d="M570.15 148.09 L572.66 148.09 L573.22 145.21 L570.68 145.21Z" fill="#efbcd9"/><path d="M568.32 159.63 L570.68 159.63 L572.24 156.75 L569.83 156.75Z" fill="#f7e6ef"/><path d="M569.83 156.75 L572.24 156.75 L573.52 153.87 L571.07 153.87Z" fill="#efbcd9"/><path d="M571.07 153.87 L573.52 153.87 L574.49 150.98 L572 150.98Z" fill="#f4d3e5"/><path d="M572 150.98 L574.49 150.98 L575.17 148.09 L572.66 148.09Z" fill="#f4d3e5"/><path d="M570.68 159.63 L573.03 159.63 L574.65 156.75 L572.24 156.75Z" fill="#f7e6ef"/><path d="M573.52 153.87 L575.98 153.87 L576.98 150.98 L574.49 150.98Z" fill="#f7e6ef"/><path d="M574.49 150.98 L576.98 150.98 L577.68 148.09 L575.17 148.09Z" fill="#f7e6ef"/><path d="M572.24 156.75 L574.65 156.75 L575.98 153.87 L573.52 153.87Z" fill="#d6529c"/><path d="M575.98 153.87 L578.44 153.87 L579.47 150.98 L576.98 150.98Z" fill="#de72ae"/><path d="M492.34 122.12 L494.83 122.12 L494.93 119.23 L492.48 119.23Z" fill="#de72ae"/><path d="M514.96 127.89 L517.5 127.89 L517.38 125.01 L514.86 125.01Z" fill="#efbcd9"/><path d="M517.24 122.12 L519.72 122.12 L519.49 119.23 L517.04 119.23Z" fill="#f4d3e5"/><path d="M511.95 156.75 L514.36 156.75 L514.58 153.87 L512.12 153.87Z" fill="#f7e6ef"/><path d="M514.58 153.87 L517.04 153.87 L517.24 150.98 L514.75 150.98Z" fill="#f4d3e5"/><path d="M529.32 119.23 L531.77 119.23 L531.24 116.35 L528.83 116.35Z" fill="#c8e6a6"/><path d="M567.42 116.35 L569.83 116.35 L568.32 113.47 L565.96 113.47Z" fill="#de72ae"/><path d="M421.89 125.01 L424.4 125.01 L425.13 122.12 L422.64 122.12Z" fill="#d6529c"/><path d="M471.65 159.63 L474.01 159.63 L473.36 156.75 L470.95 156.75Z" fill="#eaa6cc"/><path d="M473.36 156.75 L475.77 156.75 L475.28 153.87 L472.83 153.87Z" fill="#efbcd9"/><path d="M467.92 153.87 L470.37 153.87 L469.94 150.98 L467.45 150.98Z" fill="#f4d3e5"/><path d="M561.91 110.62 L564.21 110.62 L562.25 107.8 L560.03 107.8Z" fill="#e58fbf"/><path d="M512.12 153.87 L514.58 153.87 L514.75 150.98 L512.26 150.98Z" fill="#f9f3f6"/><path d="M514.75 150.98 L517.24 150.98 L517.38 148.09 L514.86 148.09Z" fill="#f4d3e5"/><path d="M481.93 142.32 L484.47 142.32 L484.42 139.44 L481.86 139.44Z" fill="#de72ae"/><path d="M499.75 130.78 L502.3 130.78 L502.3 127.89 L499.77 127.89Z" fill="#eaa6cc"/><path d="M520.03 127.89 L522.56 127.89 L522.4 125.01 L519.89 125.01Z" fill="#e58fbf"/><path d="M437.34 99.51 L437.44 100.02 L438.61 100.02 L438.74 100.53 L436.5 101.05 L435.32 101.83 L436.1 102.35 L436.95 103.04 L436.66 103.69 L433.38 104.77 L432.06 105.2 L434.34 104.66 L436.78 103.96 L438.2 103.42 L439.9 102.62 L440.98 101.83 L441.12 102.25 L442.23 101.99 L442.92 102.09 L443.87 102.35 L444.99 102.46 L445.64 103.04 L445.79 103.31 L445.78 104.23 L445.72 104.77 L446.24 105.15 L446.3 105.59 L446.07 106.69 L446 107.35 L446.6 108.08 L446.32 108.7 L445.96 109.77 L444.77 111.75 L443.84 113.18 L443.63 114.33 L443.84 114.91 L443.87 115.6 L444.03 116.58 L444.91 116.92 L445.24 117.73 L445.26 118.66 L445.42 119.23 L445.72 120.39 L446.24 121.25 L446.58 122.41 L447.3 123.33 L447.2 122.52 L446.92 121.54 L446.54 120.1 L446.24 118.37 L446.98 118.66 L447.36 119.81 L447.8 120.97 L448.11 121.77 L448.69 122.58 L449.31 123.27 L449.37 124.43 L449.38 125.01 L449.79 125.58 L450.38 126.04 L451.31 126.62 L452.27 126.97 L453.23 127.37 L454.25 127.31 L454.76 127.26 L455.43 128.06 L456.14 128.53 L457.13 128.82 L457.87 129.05 L458.1 129.33 L458.56 129.91 L458.67 130.49 L458.64 130.89 L459.25 131.07 L459.72 131.7 L460.48 131.82 L461.22 132.34 L461.48 132.16 L461.77 131.41 L462.27 131.7 L462.76 132.16 L462.88 131.7 L462.6 131.24 L462.05 131.07 L461.27 131.3 L460.75 131.47 L460.26 131.07 L459.8 130.32 L459.82 129.33 L460.09 128.01 L459.55 127.37 L458.79 127.37 L457.77 127.43 L457.74 126.45 L458.24 125.29 L458.68 124.2 L457.94 124.14 L456.95 124.43 L456.78 125.29 L456.2 125.87 L454.92 125.99 L454.2 125.76 L453.79 125.06 L453.5 123.97 L453.56 122.7 L453.97 121.54 L454.18 120.56 L454.94 120.04 L455.81 119.52 L457.05 119.46 L457.72 119.75 L458.34 119.64 L458.38 119.06 L459.14 118.94 L460.11 119 L460.79 119.23 L461.23 119.46 L461.43 120.39 L461.62 121.25 L461.99 122 L462.3 121.95 L462.59 121.08 L462.53 120.1 L462.4 119.06 L462.63 118.31 L463.26 117.73 L464.09 117.1 L464.84 116.64 L465.45 116.35 L465.95 115.89 L465.95 115.19 L466.13 114.73 L466.67 114.33 L466.73 113.81 L467.28 113.59 L467.51 113.13 L468.29 112.9 L469.29 112.55 L469.6 112.44 L469.42 111.98 L469.6 111.58 L470.47 111.19 L471.52 110.79 L472.32 110.45 L472.89 110.39 L472.06 110.84 L472.02 111.41 L473.11 110.84 L474.36 110.5 L474.92 110.16 L474.36 110.05 L473.18 109.88 L472.89 109.37 L473.36 108.64 L473.05 108.25 L472.16 108.25 L471.24 108.92 L470.36 109.49 L470.77 108.98 L471.96 108.19 L472.81 107.69 L474.38 107.63 L475.71 107.63 L477.02 107.02 L477.94 106.52 L478.1 105.81 L477.2 105.31 L476.73 104.88 L476.31 104.33 L476.17 103.69 L476.06 102.99 L475.99 102.25 L475.03 102.99 L474.1 103.2 L473.61 102.94 L473.97 101.83 L473.41 101.51 L472.85 101.15 L472.13 101.15 L471.32 101.1 L470.97 101.83 L470.52 102.62 L470.25 103.42 L469.92 104.28 L469.43 104.82 L468.28 105.31 L467.99 106.14 L467.71 106.91 L466.91 107.02 L466.8 106.36 L466.7 105.86 L467.18 105.04 L466.08 104.88 L465.2 104.55 L464.88 104.17 L464.23 103.85 L463.45 103.9 L463.33 102.99 L463.68 102.3 L464.4 101.62 L465.03 101.3 L466.35 100.79 L467.77 100.22 L468.41 99.86 L469.22 99.26 L469.08 98.66 L469.79 98.31 L470.79 97.62 L471.68 97.67 L471.84 98.01 L471.08 98.51 L470.25 99.16 L469.78 99 L469.15 99.26 L469.63 98.95 L469.19 98.01 L469.08 97.67 L468.6 97.58 L468.29 97.29 L468.36 96.57 L467.95 96.43 L466.82 97.29 L466.45 98.16 L465.43 98.26 L464.21 98.36 L463.17 98.26 L462.36 98.11 L461.57 98.16 L460.86 98.31 L459.69 98.36 L458.82 98.36 L458.54 97.82 L458.1 97.53 L457.34 97.38 L456.01 97.58 L455.53 97.19 L454.57 97.38 L453.66 97.53 L452.74 97.53 L451.46 97.82 L450.89 97.53 L450.27 97.43 L449.6 97.24 L448.75 97.19 L447.84 97.05 L446.95 96.9 L446.17 96.81 L445.65 96.66 L444.4 96.9 L443.13 97.14 L441.76 97.58 L440.48 97.82 L440.78 98.26 L440.5 98.66 L439.63 98.95 L438.59 99.16 L437.34 99.51M478.39 93.55 L480.68 92.82 L482.67 92.36 L484.83 92.01 L487.05 91.9 L489.64 91.67 L492.72 91.54 L495.02 91.8 L496.1 92.25 L496.94 92.63 L496 93.22 L496.17 93.85 L495.34 94.5 L495.71 95.18 L494.51 95.87 L494.36 96.57 L493.53 97.05 L494.03 97.29 L493.02 97.67 L491.04 98.16 L489.84 98.41 L488.45 99.26 L487.2 99.56 L486.39 100.27 L485.55 101.05 L484.81 102.09 L483.93 102.3 L483.24 101.93 L482.62 101.41 L482.36 100.53 L482.28 99.76 L481.83 99 L482.28 98.01 L483.33 97.77 L482.93 97.05 L482.62 96.57 L482.64 95.87 L482.52 95.18 L482.33 94.68 L481.33 94.42 L479.97 94.42 L479.35 94.15 L478.44 93.85 L478.39 93.55M470.21 96.1 L472.09 95.59 L473.88 95.54 L474.92 96.01 L475.58 96.57 L476.72 97.05 L477.24 97.38 L477.32 97.87 L478.14 98.76 L478.66 99 L477.89 99.61 L476.68 100.07 L476.78 100.63 L475.7 101.2 L474.87 100.89 L473.96 100.37 L472.99 100.02 L471.82 100.02 L472.72 99.51 L474.37 99 L474.64 98.26 L473.82 97.53 L472.48 97.33 L471.12 97.19 L470.18 97 L470.21 96.1M460.22 95.96 L462.09 95.73 L463.77 95.96 L463.97 96.81 L464.71 97.38 L462.96 97.67 L460.59 97.82 L458.98 97.58 L458.96 96.9 L460.22 95.96M457.21 96.38 L458.68 95.5 L460.61 95.22 L461.2 95.73 L458.97 96.57 L457.21 96.38M472.48 93.85 L473.25 94.37 L475.28 94.37 L476.33 93.98 L477.57 93.39 L479.26 92.98 L480.9 92.59 L483.12 92.04 L481.7 91.77 L478.71 91.73 L475.86 92.08 L473.54 92.44 L472.24 93.22 L472.48 93.85M471.18 94.42 L473.39 94.24 L475.11 94.37 L474.66 95.04 L472.46 95.18 L470.56 95 L471.18 94.42M462.78 94.37 L465.38 94.2 L466.22 94.59 L465.04 95 L463.09 95.18 L462.12 94.86 L462.78 94.37M472.04 92.63 L473.64 92.36 L474.51 92.67 L472.88 93.22 L471.18 93.55 L472.04 92.63M466.77 95.64 L468.36 95.45 L467.86 96.33 L466.38 96.57 L466.77 95.64M469.11 95.41 L470.81 95.45 L469.24 96.19 L469.11 95.41M468.3 100.02 L469.77 100.17 L470.55 100.48 L468.57 100.79 L468.32 100.27 L469.35 99.36 L468.3 100.02M475.5 109.15 L476.09 108.53 L476.87 107.47 L477.89 106.91 L477.65 107.8 L478.37 108.25 L478.47 109.15 L477.97 109.65 L477.02 109.49 L475.5 109.15M445.65 107.35 L446.65 107.69 L446.94 108.64 L446.39 108.58 L445.97 108.02 L445.65 107.35M459.77 123.91 L460.8 123.33 L461.82 123.22 L462.76 123.62 L463.6 124.14 L464.4 124.6 L465.02 124.89 L463.35 125.06 L463.25 124.6 L462.71 124.08 L461.71 124.02 L460.73 123.85 L459.77 123.91M464.81 125.93 L465.71 125.06 L466.61 125.12 L467.56 125.58 L467.84 125.81 L467.01 126.04 L466.22 126.39 L465.5 126.04 L464.81 125.93M468.44 125.87 L469.24 125.93 L469.02 126.16 L468.41 126.16M462.84 125.93 L463.84 126.04 L463.57 126.22 L462.83 126.04M462.88 131.7 L463.3 131.47 L463.73 131.07 L463.87 130.43 L464.55 130.09 L465.44 129.68 L465.81 129.39 L466.1 129.74 L465.76 130.2 L465.88 130.78 L466.16 130.32 L466.7 129.85 L467.45 130.03 L467.68 130.43 L468.7 130.43 L469.72 130.43 L470.48 130.43 L470.82 130.78 L471.3 131.64 L471.95 131.93 L472.69 132.62 L473.19 133.09 L474.21 133.14 L474.97 133.32 L475.73 133.84 L476.08 134.13 L476.22 134.82 L476.72 135.57 L476.72 136.43 L477.23 136.72 L477.59 137.13 L478.25 136.95 L479.28 137.36 L479.8 137.99 L480.82 138.17 L481.85 138.22 L482.62 138.74 L483.39 139.38 L484.27 139.61 L484.54 140.76 L484.36 141.86 L483.72 142.67 L483.19 143.59 L482.55 144.23 L482.56 145.5 L482.53 146.82 L482.33 147.86 L481.81 149.13 L481.3 149.83 L480.07 150 L479.11 150.52 L478.43 151.27 L478.25 152.42 L477.9 153.58 L477.48 154.44 L476.96 155.19 L476.42 156.06 L475.99 156.64 L475.13 156.7 L474.07 156.46 L474.73 157.1 L474.85 157.91 L474.51 158.77 L473.38 159 L472.78 159.06 L473.06 159.97 L471.98 160.15 L471.93 160.77 L472.4 161.12 L472.11 161.69 L472.22 162.48 L471.59 162.94 L471.59 163.61 L472.59 164.18 L472.22 165.02 L472.03 165.47 L471.99 166.13 L472.46 166.63 L472.03 166.74 L471.81 167.24 L471.42 167.35 L469.87 166.69 L469.23 165.86 L468.52 164.57 L468.06 163.5 L468.24 162.77 L468.4 161.91 L467.91 160.77 L467.5 159.63 L467.24 158.08 L467.4 157.04 L467.49 155.6 L467.23 153.87 L467.02 152.71 L467.19 151.27 L467.11 149.83 L467.1 148.38 L466.87 147.11 L466.27 146.71 L465.14 146.02 L464.05 145.09 L463.58 144.34 L462.94 143.36 L462.42 142.32 L461.74 141.05 L460.94 140.13 L460.8 139.15 L461.24 138.51 L461.49 137.99 L460.92 137.42 L461.32 136.55 L461.37 136.03 L461.89 135.68 L462.15 135.11 L462.68 134.47 L462.8 133.78 L462.78 132.97 L462.55 132.34 L462.88 131.7M472.42 166.74 L473.89 168.06 L473.37 168.33 L472.18 168.06 L470.85 167.51 L471.88 167.4 L472.42 166.74M475.31 165.97 L476.77 165.97 L476.7 166.41 L475.61 166.41M499.46 115.89 L500.13 116.23 L501.24 116.29 L502.3 115.83 L503.5 115.43 L504.69 115.31 L506.37 115.25 L507.17 115.08 L507.61 115.31 L507.34 115.77 L507.65 116.23 L507.23 116.75 L507.25 117.21 L507.89 117.5 L508.62 117.62 L509.71 117.91 L510.13 118.48 L511.12 118.77 L511.87 119.06 L512.13 118.54 L512.05 117.96 L512.76 117.56 L513.5 117.73 L514.5 118.14 L515.5 118.43 L516.5 118.71 L517.21 118.37 L518.1 118.48 L518.26 119.23 L518.98 120.73 L519.61 121.83 L520.12 122.81 L520.73 123.85 L521.01 124.43 L521.19 125.76 L521.77 126.28 L522.18 127.37 L522.56 127.89 L523.35 128.58 L523.89 129.22 L524.31 129.62 L524.27 129.97 L524.7 130.49 L525.46 130.37 L526.21 130.14 L526.98 130.09 L527.73 129.91 L528.33 129.74 L528.27 130.55 L528.1 131.64 L527.57 132.8 L526.83 133.95 L526.08 135.11 L525.06 135.86 L524.3 136.72 L523.58 137.53 L522.91 138.05 L522.54 139.03 L522.17 140.01 L522.41 140.59 L522.34 141.46 L522.57 142.21 L522.86 142.73 L522.88 143.77 L522.88 144.92 L522.63 145.79 L521.22 146.71 L520.43 147.46 L519.8 147.98 L519.99 148.96 L520.03 150.11 L519.74 150.75 L518.71 151.27 L518.57 151.85 L518.34 153 L517.7 153.58 L517.09 154.44 L516.18 155.31 L515.4 155.89 L514.7 156.12 L513.68 156.12 L512.94 156.35 L511.95 156.64 L511.39 156.35 L511.18 155.89 L511.17 155.14 L510.78 154.16 L510.44 153.06 L509.98 152.13 L509.77 150.98 L509.55 149.71 L509.07 148.67 L508.59 147.52 L508.26 146.54 L508.32 145.55 L508.64 144.34 L509.27 143.19 L509.03 142.03 L508.93 141.34 L508.58 140.48 L508.53 139.9 L508.33 139.32 L507.67 138.57 L507.01 137.47 L507.06 136.26 L507.21 135.11 L507.26 134.41 L506.8 134.01 L506.13 134.01 L505.37 134.07 L504.85 133.32 L504.44 132.86 L503.58 132.91 L502.91 133.03 L501.79 133.61 L501.02 133.72 L500.26 133.55 L499.49 133.61 L498.47 134.01 L497.96 133.78 L497.19 133.2 L496.43 132.57 L495.92 132.16 L495.57 131.7 L495.52 131.07 L494.92 130.43 L494.52 130.03 L494.01 129.62 L493.82 128.93 L493.58 128.18 L493.43 128.01 L493.96 127.2 L494.18 126.45 L494.09 125.58 L493.86 124.72 L493.77 124.31 L494.21 122.99 L494.62 122.41 L495.1 121.54 L495.72 120.68 L496.62 120.33 L497.38 119.7 L497.54 118.94 L497.51 118.37 L498.12 117.33 L498.96 116.87 L499.31 116.23 L499.46 115.89M527.36 143.48 L527.82 145.32 L527.52 146.07 L527.22 146.82 L526.65 148.38 L526.07 150.11 L525.75 150.92 L524.83 151.27 L524.22 150.87 L523.97 149.54 L524.27 148.79 L524.63 147.81 L524.51 146.59 L524.8 145.9 L525.73 145.55 L526.54 144.63 L527.1 143.77 L527.36 143.48M519.47 119.52 L519.08 118.48 L519.28 117.62 L519.5 116.98 L519.6 116.23 L519.45 115.37 L518.82 115.31 L518.14 115.66 L517.15 115.37 L516.45 115.6 L515.7 115.31 L515.33 114.91 L514.8 114.45 L514.98 113.87 L514.65 113.47 L515.01 113.24 L515.9 112.9 L517.02 112.84 L517.93 112.33 L518.72 112.33 L519.65 112.84 L520.37 112.95 L521.16 112.9 L521.75 112.55 L521.6 111.98 L520.82 111.53 L520.03 111.01 L519.48 110.79 L519.76 110.05 L520.09 109.43 L519.59 109.43 L518.66 109.77 L518.3 110.33 L518.97 110.5 L518.47 110.79 L517.76 110.96 L517.21 110.39 L517.57 110.05 L516.76 109.82 L516.26 109.82 L515.9 110.5 L515.52 111.01 L515.29 111.75 L515.32 112.33 L515.84 112.78 L515.44 112.9 L514.76 113.13 L514.51 113.01 L513.57 113.01 L513.12 113.24 L513.55 113.76 L513.09 113.93 L513.48 114.5 L513.74 114.79 L513.32 115.48 L513.08 115.37 L512.68 115.25 L512.33 114.45 L511.9 113.81 L511.42 113.18 L511.41 112.44 L510.91 112.04 L510.17 111.58 L509.45 111.19 L509.13 110.62 L508.51 110.28 L507.93 110.45 L507.96 111.01 L508.55 111.47 L509.06 112.21 L509.79 112.67 L510.52 113.07 L511.02 113.41 L510.39 113.81 L510.36 114.1 L509.97 114.62 L509.77 114.5 L509.91 113.76 L509.65 113.41 L509.32 113.3 L508.87 112.95 L508.14 112.44 L507.51 112.04 L507.17 111.75 L507.01 111.24 L506.3 110.96 L505.76 111.3 L505.17 111.7 L504.52 111.53 L503.78 111.64 L503.74 112.15 L503.79 112.38 L502.77 112.84 L502.39 113.47 L502.16 113.87 L502.35 114.16 L501.97 114.85 L501.54 115.14 L501.25 115.37 L500.19 115.37 L499.61 115.77 L499.24 115.31 L498.76 115.08 L498.04 115.19 L498.11 114.5 L497.79 114.16 L498.11 113.3 L498.24 112.44 L497.99 111.75 L498.6 111.36 L499.53 111.41 L500.68 111.47 L501.56 111.53 L501.75 110.79 L501.75 109.94 L501.3 109.43 L500.32 109.03 L500.24 108.58 L500.96 108.47 L501.58 108.53 L501.72 107.97 L502.39 108.14 L502.92 107.74 L503.05 107.3 L503.4 107.19 L503.97 106.97 L504.22 106.52 L504.38 106.14 L504.85 105.92 L505.37 105.81 L505.97 105.81 L506.13 105.53 L505.96 104.82 L505.71 104.17 L505.91 103.9 L506.64 103.58 L506.73 104.17 L506.9 104.28 L506.55 104.71 L506.4 105.04 L506.98 105.37 L507.59 105.48 L508.42 105.64 L509.26 105.42 L510.27 105.2 L510.76 105.37 L511.3 104.93 L511.18 104.06 L511.66 103.63 L512.17 103.96 L512.47 103.47 L512.04 102.94 L513.18 102.62 L513.88 102.62 L514.53 102.41 L513.77 102.09 L513.01 102.14 L511.67 102.41 L510.94 101.93 L510.87 100.99 L511.16 100.37 L511.87 99.81 L512.16 99.71 L511.74 99.36 L510.87 99.41 L510.57 99.91 L510.18 100.43 L509.65 100.84 L509.35 101.3 L509.33 102.04 L509.99 102.41 L509.79 102.73 L509.23 103.63 L509.21 104.12 L508.52 104.44 L507.75 104.77 L507.62 104.33 L507.32 103.69 L506.92 102.94 L506.62 102.73 L506.51 102.88 L505.79 103.26 L505.21 103.42 L504.62 103.04 L504.43 102.51 L504.32 101.72 L504.5 101.15 L505.31 100.73 L506.12 100.43 L506.56 100.02 L507.07 99.31 L507.46 98.66 L508.07 98.11 L508.44 97.77 L509.08 97.38 L509.64 97.24 L510.51 97 L511.2 96.81 L511.85 96.81 L512.53 96.76 L513.24 96.95 L513.73 97.14 L513.36 97.38 L514.12 97.33 L514.72 97.62 L515.88 97.77 L516.72 98.06 L517.59 98.41 L517.97 98.85 L517.67 99.11 L516.99 99.26 L515.94 99.21 L515.28 98.9 L514.7 98.76 L515.09 99.06 L515.7 99.31 L515.9 100.02 L516.66 100.22 L516.89 100.32 L517.25 99.97 L517.87 99.97 L518.06 99.81 L517.77 99.41 L518.54 99.06 L519.19 99.16 L519.06 98.61 L518.72 98.11 L519.57 98.16 L519.87 98.46 L519.5 98.76 L520.49 98.85 L520.82 98.46 L521.76 98.01 L522.34 97.82 L523.09 98.06 L523.79 97.96 L524.52 98.01 L524.57 97.33 L525.79 97.53 L526.4 97.62 L527.33 97.82 L527.95 98.11 L528 97.82 L527.46 97.43 L526.96 97.33 L526.51 96.66 L526.82 96.19 L526.88 95.87 L527.56 95.78 L528.22 96.05 L528.48 96.57 L528.32 96.66 L528.87 97.05 L529.31 97.77 L529.87 98.06 L529.97 98.41 L529.62 98.95 L530.02 99.11 L530.47 98.36 L530.16 97.77 L529.73 97.67 L529.31 97.05 L528.77 96.57 L529.11 96.24 L528.97 95.91 L529.64 96.38 L530.36 96.15 L531.62 96.43 L530.96 96.05 L530.69 95.59 L531.42 95.54 L532.67 95.45 L532.28 95 L532.63 94.86 L533.61 94.59 L534.49 94.46 L535.16 94.46 L535.46 94.28 L536.24 94.28 L536.1 94.07 L536.78 93.76 L537.51 93.89 L538.34 94.24 L539.55 94.2 L540.57 94.37 L541.17 94.59 L541.22 94.82 L541.21 95 L541.08 95.41 L541.89 95.5 L542.82 95.54 L544.04 95.59 L544.39 95.82 L545.93 95.87 L545.81 95.54 L546.88 95.59 L547.79 95.82 L548.42 96.15 L548.52 96.43 L549.3 96.71 L550.12 96.9 L549.85 96.43 L550.71 96.62 L551.14 96.48 L552.07 96.66 L552.81 96.57 L551.99 96.15 L552.5 96.05 L553.62 96.24 L554.73 96.24 L555.8 96.24 L556.53 96.52 L557.98 96.9 L559.34 96.81 L560.39 96.85 L560.92 97.19 L562.1 97.58 L562.81 97.43 L564.29 97.48 L565.61 97.92 L565.84 97.77 L564.92 97.24 L566.28 97.38 L567.13 97.33 L568.43 97.58 L569.26 97.77M435.34 97.77 L435.74 98.11 L435.9 98.66 L436.67 98.81 L436.99 99.21 L436.06 99.46 L434.9 100.02 L434.13 99.86 L433.4 99.56 L432.33 99.76M572.27 99.76 L572.13 100.02 L571.55 99.97 L572.26 100.22 L573.07 100.63 L573.99 101.15 L573.05 101.05 L572.42 101.41 L572.12 101.46 L571.99 101.83 L571.85 102.2 L571.95 102.41 L570.92 102.04 L570.38 102.46 L569.92 102.25 L569.87 102.51 L569.17 102.41 L569.61 103.31 L569.85 103.53 L570.47 103.63 L571.28 104.39 L570.91 104.44 L571.21 104.88 L571.61 105.09 L571.23 105.42 L571.67 106.03 L571.15 106.16 L571.58 106.74 L571.43 107.24 L570.9 106.85 L569.93 106.03 L568.47 104.82 L567.89 104.06 L567.92 103.74 L567.68 103.53 L568.23 103.42 L568.19 102.73 L568.27 102.2 L568.49 101.78 L567.84 100.99 L567.42 101.05 L567.77 101.51 L567.41 102.09 L566.27 101.41 L565.47 101.62 L565.43 102.46 L566.17 102.83 L565.38 102.94 L564.82 102.99 L564.42 102.62 L563.68 102.51 L563.44 102.78 L562.15 102.73 L560.95 102.88 L560.61 103.9 L560.16 105.2 L560.9 105.26 L561.41 105.6 L561.93 105.7 L561.97 105.45 L562.47 105.48 L563.61 106.08 L564.09 106.58 L564.2 107.13 L564.69 107.8 L565.19 108.7 L565.08 109.49 L565.17 109.88 L565.04 110.56 L564.81 111.19 L564.74 111.53 L564.31 111.87 L564.03 111.87 L563.58 111.58 L563.17 111.98 L563.26 112.21 L563.04 112.15 L562.95 112.55 L563.18 112.95 L563 113.07 L562.88 113.36 L562.69 113.53 L562.48 113.59 L562.63 113.87 L562.62 113.93 L563.22 114.27 L563.98 114.96 L564.29 115.31 L564.61 116 L564.55 116.29 L564.16 116.4 L563.87 116.64 L563.46 116.69 L563.29 116.4 L563.19 115.94 L562.69 115.37 L563.02 115.25 L562.47 114.79 L562.18 114.68 L562.16 114.73 L561.65 114.56 L561.68 114.33 L561.72 114.22 L561.41 113.7 L560.94 113.53 L560.37 113.7 L560.11 113.93 L559.69 114.1 L559.81 113.81 L559.62 113.61 L559.81 113.24 L559.37 112.95 L559.09 113.13 L558.73 113.53 L558.61 113.87 L558.17 113.93 L558.06 114.22 L558.51 114.56 L558.94 114.68 L559.07 114.96 L559.5 115.08 L559.84 114.68 L560.38 114.91 L560.71 114.91 L560.92 115.25 L560.3 115.37 L560.21 115.71 L559.89 116 L559.82 116.4 L560.42 116.69 L560.84 117.27 L561.33 117.79 L561.84 118.25 L562 118.71 L561.75 118.83 L561.96 119.18 L562.31 119.35 L562.4 120.27 L562.12 120.33 L561.94 120.91 L561.75 121.72 L561.46 122.41 L560.87 122.93 L560.26 123.39 L559.72 123.45 L559.47 123.74 L559.24 123.56 L558.98 123.79 L558.33 124.08 L557.85 124.2 L557.75 124.83 L557.5 124.83 L557.29 124.43 L557.4 124.2 L556.67 124.02 L556.48 124.08 L555.91 123.97 L555.81 124.6 L555.54 125.12 L555.5 125.53 L555.95 126.16 L556.57 126.91 L557.07 127.26 L557.44 127.72 L557.78 128.82 L557.83 129.8 L557.46 130.2 L556.88 130.55 L556.51 131.07 L555.94 131.59 L555.71 131.24 L555.83 130.84 L555.4 130.49 L554.99 130.43 L554.75 130.09 L554.45 129.51 L553.97 129.28 L553.51 129.28 L553.56 128.82 L553.11 128.82 L553.12 129.45 L552.94 130.32 L552.83 130.8 L553.21 131.24 L553.45 131.76 L553.58 132.28 L553.85 132.57 L554.17 132.68 L554.44 132.97 L554.9 133.38 L555.13 133.72 L555.15 134.24 L555.11 134.41 L555.17 134.59 L555.23 134.93 L555.44 135.11 L555.6 135.63 L555.25 135.86 L554.78 135.4 L554.15 134.93 L553.98 134.41 L553.78 134.3 L553.71 133.78 L553.49 133.49 L553.52 133.09 L553.41 132.8 L553.19 132.62 L553.08 132.34 L552.8 131.99 L552.53 131.7 L552.45 132.05 L552.38 131.7 L552.41 131.36 L552.52 130.78 L552.56 129.97 L552.32 129.62 L552.31 128.99 L552.08 128.7 L551.85 128.01 L551.66 127.26 L551.4 126.79 L551.08 127.08 L550.58 127.49 L550.27 127.43 L549.95 127.31 L550.01 126.56 L549.84 126.04 L549.34 125.35 L549.41 125.18 L549.1 125.06 L548.68 124.6 L548.49 124.31 L548.4 124.02 L548.26 123.74 L548.01 123.39 L547.56 123.39 L547.64 123.62 L547.54 123.97 L547.27 123.85 L547.23 123.91 L547.08 123.87 L546.86 123.79 L546.85 124.02 L546.5 124.02 L545.9 124.14 L545.97 124.6 L545.76 124.89 L545.1 125.29 L544.59 125.99 L544.27 126.33 L543.82 126.74 L543.84 126.97 L543.61 127.14 L543.17 127.31 L542.92 127.37 L542.82 127.83 L542.99 128.58 L543.08 129.05 L542.91 129.57 L542.98 130.55 L542.68 130.6 L542.5 131.07 L542.66 131.24 L542.21 131.41 L542.03 131.76 L541.83 131.95 L541.35 131.41 L541.05 130.6 L540.81 130.03 L540.64 129.74 L540.35 129.22 L540.14 128.47 L540.01 128.12 L539.48 127.31 L539.17 126.22 L538.94 125.47 L538.86 124.77 L538.7 124.2 L538.03 124.54 L537.68 124.49 L536.95 123.79 L537.12 123.56 L536.96 123.39 L536.35 122.87 L535.93 122.75 L535.73 122.29 L535.33 121.89 L534.4 122 L533.6 122 L532.91 122.06 L531.95 121.89 L531.38 121.77 L530.83 121.72 L530.53 120.98 L530.29 120.91 L529.9 120.99 L529.44 121.25 L528.82 121.08 L528.27 120.62 L527.76 120.45 L527.39 119.93 L526.9 119.18 L526.66 119.23 L526.3 119.06 L526.18 119.29 L525.86 119.24 L526.01 119.52 L525.98 119.64 L526.18 120.04 L526.43 120.56 L526.69 120.68 L526.82 120.91 L527.19 121.14 L527.19 121.6 L527.26 121.77 L527.42 121.95 L527.54 122.13 L527.6 122.23 L527.76 122.35 L527.91 122.35 L528.03 122.58 L528.14 122.7 L528.53 122.58 L529.24 122.64 L529.69 122.18 L529.86 121.89 L530.16 121.48 L530.29 121.31 L530.34 121.37 L530.32 121.6 L530.28 121.72 L530.39 122.18 L530.63 122.58 L530.94 122.75 L531.3 122.87 L531.61 122.93 L532.06 123.45 L532.22 123.56 L532.23 123.68 L532.03 124.2 L531.84 124.37 L531.68 124.77 L531.42 124.72 L531.34 124.89 L531.31 125.18 L531.39 125.53 L531.35 125.64 L531.1 125.64 L530.81 125.81 L530.79 126.1 L530.69 126.22 L530.39 126.22 L530.2 126.39 L530.22 126.62 L529.98 126.77 L529.67 126.74 L529.38 126.91 L529.13 126.91 L528.79 127.08 L528.71 127.37 L528.72 127.55 L528.23 127.78 L527.44 128.06 L527 128.47 L526.75 128.53 L526.6 128.47 L526.35 128.7 L526 128.82 L525.6 128.87 L525.45 128.87 L525.35 129.05 L525.2 129.07 L525.16 129.22 L524.91 129.22 L524.76 129.28 L524.4 129.28 L524.23 128.93 L524.27 128.58 L524.16 128.41 L524.04 128.01 L523.87 127.78 L523.97 127.72 L523.91 127.49 L523.95 127.37 L523.94 127.14 L523.82 126.85 L523.66 126.68 L523.65 126.45 L523.38 126.28 L523.05 125.76 L522.87 125.29 L522.5 124.89 L522.29 124.83 L521.91 124.26 L521.83 123.85 L521.86 123.5 L521.52 122.87 L521.25 122.64 L521 122.52 L520.82 122.18 L520.82 122.06 L520.65 121.77 L520.49 121.66 L520.25 121.2 L519.92 120.73 L519.64 120.33 L519.39 120.33 L519.47 120.04 L519.45 119.81 L519.47 119.52 L519.25 120.39 L519.07 120.62 L518.64 120.16 L518.32 119.29M499.77 107.74 L500.44 107.58 L500.97 107.41 L501.86 107.35 L502.87 107.13 L502.56 106.97 L503.04 106.36 L503 106.19 L502.39 105.97 L502.34 105.81 L502.04 105.31 L501.79 105.26 L501.62 104.77 L501.37 104.5 L501.12 104.33 L501.5 103.85 L501.55 103.63 L501.05 103.58 L500.59 103.63 L501.02 103.1 L500.23 103.1 L499.96 103.53 L499.78 103.96 L499.93 104.33 L499.79 104.88 L500.17 104.99 L500.2 105.26 L500.76 105.26 L500.88 105.48 L501.05 105.64 L500.96 105.92 L500.31 105.97 L500.47 106.52 L499.98 106.74 L500.46 106.91 L500.81 107.02 L500.14 107.19 L499.77 107.74M499.63 105.64 L499.68 106.58 L499.33 106.58 L498.53 106.85 L497.96 106.8 L498.21 106.36 L497.97 105.92 L498.21 105.53 L498.65 105.31 L499.06 104.99 L499.44 104.93 L499.86 105.26 L499.63 105.64M493.41 100.32 L493.77 100.07 L492.96 99.81 L493.68 99.71 L492.91 99.46 L493.29 99.11 L493.84 99.06 L494.35 99.41 L495.02 99.11 L495.45 99.26 L496.1 99 L496.75 99 L496.63 99.36 L497.02 99.71 L496.47 100.07 L494.92 100.53 L494.22 100.43 L493.41 100.32M505.88 93.39 L506.14 92.98 L507.39 92.86 L507.99 92.7 L509.25 92.67 L510.87 92.78 L510.33 93.06 L509.13 93.39 L508.59 93.81 L508.01 94.24 L507.28 93.89 L506.74 93.64 L505.88 93.39M521.26 96.57 L521.32 95.68 L521.87 95.13 L522.35 94.55 L523.24 94.37 L524.38 94.11 L525.46 94.28 L524.83 94.68 L523.58 95.09 L522.82 95.54 L522.57 96.01 L522.59 96.71 L523.29 97 L521.87 96.85 L521.26 96.57M532.86 93.1 L533.14 92.7 L533.56 92.44 L535.81 93.14 L535.17 93.39 L535 93.64 L533.59 93.43 L532.86 93.1M549.28 94.82 L549.39 94.46 L551.05 94.64 L552.37 94.82 L553.07 94.73 L554.06 94.91 L552.81 95.09 L551.63 95.45 L550.32 95.27 L549.28 94.82M517.43 92.63 L518.5 92.36 L520.28 92.25 L521.78 92.55 L520.1 92.82 L518.19 92.82M437.49 96.57 L437.97 96.71 L437.37 96.85 L436.94 96.81M565.72 116.98 L565.88 116.69 L566.15 116.12 L567.04 115.94 L567.64 116 L567.71 115.25 L568.03 115.31 L568.4 114.91 L568.61 114.5 L568.52 113.81 L568.07 113.13 L568.05 112.78 L568.49 112.67 L569 113.36 L569.53 113.93 L569.37 114.5 L569.66 115.14 L569.75 115.6 L569.99 115.89 L569.65 116.17 L569.49 116.35 L569.16 116.58 L568.49 116.58 L568.47 116.75 L568.19 117.21 L567.57 116.58 L566.75 116.69 L566.35 116.98 L565.72 116.98M565.3 117.39 L565.49 117.73 L565.98 118.48 L566.3 118.54 L566.54 118.43 L566.51 117.73 L566.27 117.27 L565.72 116.98 L565.3 117.39M566.66 117.5 L567.03 117.67 L567.63 117.04 L567.43 116.81 L566.81 116.92 L566.66 117.5M567.8 112.61 L567.65 112.15 L567.36 111.98 L567.75 111.53 L567.11 110.45 L567.27 110.33 L568.6 111.07 L569.69 111.58 L569.19 111.81 L569.11 112.33 L568.15 111.98 L568.27 112.61 L567.8 112.61M567.02 110.05 L567.67 109.99 L566.91 109.32 L566.33 108.19 L567 108.42 L565.06 106.8 L564.51 105.97 L563.53 105.37 L563.71 105.75 L564.39 106.52 L564.31 106.74 L565.74 108.47 L566.38 109.09 L567.02 110.05M562.34 123.27 L562.46 122.41 L562.75 121.95 L563.01 122.12 L562.95 123.1 L562.81 123.91 L562.41 123.39 L562.34 123.27M556.95 125.47 L557.33 125.01 L557.92 124.95 L558.11 125.18 L558 125.7 L557.5 126.04 L557.07 125.87 L556.95 125.47M563.06 125.87 L563.95 126.04 L564.01 126.68 L563.87 127.37 L563.84 127.83 L564 128.3 L564.7 128.58 L565.2 128.93 L565.35 129.33 L564.91 129.05 L564.54 128.87 L563.93 128.53 L563.53 128.53 L563.41 128.01 L562.99 127.6 L562.91 127.08 L563.14 127.26 L563.05 126.39 L563.06 125.87M564.57 132.57 L565 132.05 L565.64 131.82 L566.22 131.41 L566.45 131.07 L566.76 131.7 L566.86 132.39 L566.74 132.91 L566.36 133.32 L566.16 132.62 L565.62 132.97 L565.52 132.22 L565.01 132.16 L564.57 132.57M564.33 130.2 L564.9 129.85 L565.76 129.33 L566.19 130.03 L565.95 130.66 L565.61 130.78 L565.13 131.18 L564.7 130.84 L564.33 130.2M562.07 131.7 L563.14 130.49 L563.21 130.2 L562.98 130.43 L562.26 131.53 L562.07 131.7M558.11 135.68 L558.41 135.4 L558.77 135.57 L559.18 135.45 L559.27 134.99 L560.08 134.76 L560.42 134.3 L560.87 133.89 L561.3 133.43 L561.64 133.03 L561.87 132.57 L562.35 132.86 L562.41 133.09 L563.19 133.43 L563.15 133.66 L562.8 133.68 L562.91 133.95 L562.56 134.18 L562.28 134.7 L562.7 135.22 L562.61 135.51 L563.18 136.03 L562.57 136.09 L562.42 136.49 L562.41 137.01 L561.95 137.42 L561.88 137.99 L561.65 138.86 L561.09 138.74 L560.84 138.57 L560.23 138.34 L559.61 138.57 L559.42 138.28 L559.06 138.28 L558.65 138.22 L558.62 137.47 L558.37 137.13 L558.12 136.84 L558.07 136.32 L558.11 135.68M550.98 133.38 L552.11 133.55 L552.59 134.07 L553.28 134.7 L553.75 135.34 L554.32 135.34 L555.05 136.2 L555.41 136.49 L555.2 136.95 L555.71 137.18 L555.95 137.88 L556.55 138.34 L556.43 139.03 L556.34 139.96 L555.77 139.96 L555.39 139.44 L554.74 138.97 L554.15 138.17 L553.91 137.76 L553.51 136.95 L553.11 136.43 L552.73 135.51 L552.27 135.11 L552 134.65 L551.58 134.3 L551.04 133.66 L550.98 133.38M556.31 140.36 L556.69 139.98 L557.61 140.07 L557.89 140.48 L558.7 140.53 L558.98 140.24 L559.78 140.53 L559.85 140.94 L560.71 141.05 L560.72 141.63 L560.18 141.34 L559.72 141.4 L559.16 141.34 L558.71 141.23 L558.11 140.99 L557.55 141.05 L556.9 140.82 L556.65 140.76 L556.1 140.53 L556.31 140.36M561.1 141.34 L561.45 141.4 L562.47 141.4 L562.97 141.51 L563.75 141.34 L564.93 141.23 L563.98 141.69 L562.96 141.74 L561.93 141.8 L561.43 141.69 L561.1 141.34M565.44 142.44 L566.05 141.98 L567.07 141.34 L566.07 141.69 L565.48 142.09 L565.44 142.44M563.3 139.67 L563.43 139.03 L563.39 138.57 L563.05 138.17 L563.27 137.76 L563.6 136.43 L563.75 136.2 L564.15 135.8 L565.18 136.03 L565.79 136.03 L566.29 135.63 L565.95 136.32 L565.59 136.43 L565.08 136.32 L564.26 136.32 L563.8 136.43 L563.75 136.84 L564.15 137.36 L564.46 137.13 L565.38 136.9 L564.45 137.65 L564.94 138.4 L564.78 138.57 L565.24 139.61 L564.93 139.72 L564.75 139.15 L564.45 138.97 L564.14 139.21 L564.11 138.63 L563.86 139.72 L563.3 139.67M567.72 135.28 L568.14 135.92 L567.84 136.32 L568.09 136.95 L567.64 136.72 L567.53 135.86 L567.72 135.28M567.74 138.51 L569.03 138.28 L569.16 138.8 L567.89 138.63 L567.74 138.51M569.31 137.3 L570.04 136.78 L570.86 137.01 L571.03 138.17 L571.58 138.51 L572.59 137.42 L573.04 137.53 L573.85 137.94 L574.41 138.05 L575.26 138.45 L576.22 138.8 L576.79 139.49 L576.83 139.72 L577.68 140.07 L577.81 140.36 L577.29 140.42 L577.41 140.82 L577.84 141.17 L578.09 141.8 L578.59 141.86 L578.37 142.03 L579.08 142.5 L578.65 142.73 L577.62 142.38 L577.25 142.03 L576.77 141.23 L576.13 140.94 L575.71 141.11 L575.39 141.28 L575.39 141.74 L574.97 141.92 L574.17 141.8 L573.75 141.34 L573.25 141.23 L573.13 141.4 L572.47 141.4 L572.71 140.94 L573.08 140.76 L572.97 140.13 L572.75 139.67 L571.8 139.15 L571.4 139.15 L570.65 138.57 L570.49 138.86 L570.18 138.92 L570.19 138.69 L569.8 138.17 L570.37 137.99 L569.76 137.82 L569.06 137.07 L569.31 137.3M578.05 139.78 L579.13 139.72 L579.98 139.21 L579.9 139.72 L579.15 140.19 L578.05 139.78M559.14 149.25 L558.91 150.75 L558.98 151.73 L558.88 153.58 L558.54 154.79 L558.48 155.77 L557.95 156.29 L558.54 156.75 L559.19 156.81 L560.36 156.18 L561.14 156.06 L562.23 156.12 L562.68 155.6 L563.78 155.14 L565.26 154.85 L566.47 154.73 L567 155.02 L567.68 155.37 L567.64 156.46 L567.73 156.7 L568.6 156.06 L569.34 155.6 L568.86 156.23 L569.07 156.41 L569.03 156.81 L569.2 157.16 L569.1 157.85 L569.24 158.48 L569.72 158.65 L570.37 158.94 L571.07 158.54 L571.63 159.06 L572.42 158.6 L572.98 158.37 L573.84 158.19 L574.28 157.56 L575.15 156.64 L575.63 156.06 L576.27 155.43 L577.01 154.79 L577.6 153.75 L578.18 152.77 L578.35 151.56 L578.37 151.15 L578.06 150.69 L577.71 150.11 L577.64 149.6 L577.46 149.31 L577.16 148.84 L577.03 148.33 L576.44 147.81 L576 147.52 L575.99 146.82 L575.91 146.25 L575.81 145.96 L575.86 145.44 L575.74 144.98 L575.46 144.8 L575.14 144.63 L575.14 143.94 L574.83 142.73 L574.59 143.07 L574.33 143.88 L574.08 145.21 L573.83 146.02 L573.27 146.59 L572.96 146.59 L572.61 146.59 L572.32 146.25 L571.66 145.73 L571.18 145.27 L570.91 145.04 L571.04 144.57 L571.59 144.23 L571.77 143.65 L571.6 143.42 L571.07 143.59 L570.53 143.42 L569.9 143.13 L569.74 143.25 L569.35 143.07 L568.76 143.77 L568.41 144.11 L567.95 144.86 L567.85 145.21 L567.24 145.21 L567.13 144.92 L566.83 144.52 L566.24 144.75 L565.75 144.98 L565.26 145.55 L564.67 146.07 L564.04 146.54 L563.6 147.34 L563.27 147.75 L562.56 148.09 L562.01 148.33 L561.28 148.5 L560.87 148.56 L560.2 148.96 L559.71 149.13 L559.44 149.54 L559.14 149.25M570.29 160.03 L570.94 160.26 L571.91 160.15 L571.49 160.77 L570.84 161.46 L570.22 161.69 L569.89 161.63 L569.87 161.17 L570 160.77 L570.29 160.03M585.8 156.41 L586.11 156.87 L586.1 157.44 L586.07 158.02 L586.46 157.79 L586.35 158.25 L586.77 158.48 L587.41 158.31 L586.96 158.83 L586.52 159.17 L585.81 159.57 L585.68 159.69 L584.73 160.37 L584.18 160.6 L584.12 160.37 L584.7 159.92 L584.81 159.51 L584.58 159.17 L585.12 158.94 L585.71 158.14 L585.85 157.62 L586.03 157.33 L585.68 156.87 L585.8 156.41M583.58 159.92 L583.42 160.37 L583.89 160.37 L583.67 160.66 L583.35 160.89 L582.84 161.29 L582.24 161.57 L582.19 161.86 L581.83 161.86 L581.32 162.03 L580.85 162.43 L580.11 162.99 L579.5 163.28 L579.18 163.39 L578.77 163.39 L578.64 163.22 L578.19 163.16 L578.24 162.99 L578.83 162.54 L579.89 161.97 L580.26 161.86 L581.4 161.35 L581.91 161.06 L582.45 160.66 L582.72 160.49 L583.03 160.2 L583.58 159.92M543.09 132.62 L542.95 131.82 L543.1 130.89 L543.48 131.18 L543.75 131.59 L544.04 132.22 L543.96 132.8 L543.31 133.09 L543.09 132.62M506.61 112.67 L506.77 112.21 L506.66 111.75 L506.35 111.98 L506.36 112.38 L506.61 112.67M506.81 112.95 L506.91 113.18 L506.89 113.93 L506.57 114.04 L506.28 113.93 L506.25 113.24 L506.15 112.9 L506.81 112.95M509.67 114.5 L509.53 115.43 L508.21 114.85 L508.77 114.5 L509.67 114.5M513.7 115.94 L514.97 116.17 L513.98 116.4 L513.62 116.17M518.24 116.58 L518.94 115.94 L517.87 116.29 L518.24 116.58M443.34 179.55 L446.7 179.59 L449.71 179.46 L451.8 178.82 L453.6 178.28 L455.53 177.97 L458.62 177.69 L462.12 177.69 L465.51 177.6 L467.12 177.46 L470.21 177 L473.42 176.53 L474.56 176.1 L476.56 175.81 L477.09 174.84 L477.3 173.84 L477.88 173.08 L478.84 172.21 L479.77 172.52 L479.51 173.24 L479.16 174.1 L479.29 175.09 L479.78 176.29 L479.99 177.23 L480.2 177.97 L482.62 178.6 L485.21 178.95 L487.27 179.03 L489.45 178.68 L491.91 177.97 L495.17 177 L497.94 176.29 L499.87 175.77 L502.3 176.2 L504.13 175.96 L505.98 175.81 L507.82 175.77 L509.65 175.81 L511.46 175.96 L513.36 175.72 L515.29 175.43 L517.21 175.23 L519.27 174.74 L521.32 174.34 L523.34 174.1 L525.08 174.44 L526.89 174.59 L528.7 174.74 L528.56 175.57 L529.94 175.72 L531.48 175.09 L533.39 174.49 L535.93 174.15 L538.76 173.94 L540.84 173.74 L542.68 173.84 L544.52 173.94 L546.1 174.29 L548.06 174.25 L550.17 174.04 L552.19 173.94 L554.22 173.84 L555.74 174.2 L557.16 174.59 L558.42 175.09 L559.96 175.33 L561.27 175.72 L561.66 176.2 L562.96 176.53 L563.08 177 L561.76 177.46 L559.89 177.92 L558.03 178.37 L556.58 179.03 L556.2 179.46 L556.74 179.67 L558.55 179.59 L559.86 179.59 L561.26 179.55M524.57 109.77 L525.63 109.49 L526.46 109.71 L526.56 110.45 L525.8 110.5 L525.77 110.96 L526.75 112.15 L527.07 112.9 L527.53 113.47 L527.86 114.33 L528.08 114.96 L527.2 115.37 L526.34 115.08 L525.67 114.85 L525.53 114.33 L525.57 113.36 L525 112.44 L524.34 111.75 L524.22 111.01 L523.77 110.84 L524.02 110.33 L524.57 109.77M528.87 109.71 L530.02 109.77 L530.5 110.62 L529.81 111.41 L529.07 110.73 L528.87 109.71M547.92 106.85 L548.51 106.41 L549.04 105.59 L549.02 104.66 L548.67 104.77 L548.58 105.86 L547.96 106.58 L547.92 106.85M518.67 136.72 L519.59 136.38 L519.69 137.13 L519.28 137.99 L518.57 137.65 L518.67 136.72M517.18 138.51 L517.52 140.01 L518.11 141.51 L518.02 140.76 L517.43 139.32 L517.18 138.51M519.62 142.03 L520 143.19 L520.2 144.8 L519.83 143.77 L519.62 142.03M460.5 109.65 L461.43 109.71 L462.38 109.32 L462.54 109.77 L463.86 109.77 L464.01 109.2 L463.77 108.53 L462.6 108.64 L462.02 108.92 L460.5 109.65M461.34 112.33 L461.75 111.19 L462.6 110.16 L463.56 110.05 L463.14 110.5 L462.56 110.9 L462.21 111.75 L461.75 112.33 L461.34 112.33M463.72 110.11 L464.13 110.45 L463.94 111.01 L464.02 111.75 L464.66 111.07 L465.34 110.73 L465.54 110.22 L464.95 109.99 L463.72 110.11M463.32 112.5 L464.19 112.55 L465.61 111.87 L464.87 111.98 L463.83 112.27 L463.32 112.5M465.34 111.58 L466.17 111.58 L467.05 111.47 L467.1 111.07 L466.32 111.19 L465.56 111.36 L465.34 111.58M459.16 107.52 L459.91 106.97 L459.8 105.7 L459.48 105.86 L459.16 107.52M455.04 101.72 L456.36 101.83 L458.28 100.99 L457.24 101.05 L455.81 101.3 L455.04 101.72M454.35 99.51 L455.17 99.86 L456.72 99.26 L456.64 98.76 L455.25 99 L454.35 99.51" fill="none" stroke="#111" stroke-width="1.0" stroke-linejoin="round"/></g><path d="M551.32 90 L553.03 90.47 L555 91.11 L557.18 91.9 L559.52 92.82 L561.94 93.85 L564.3 94.95 L566.47 96.1 L568.48 97.29 L570.41 98.51 L572.27 99.76 L574.08 101.05 L575.85 102.35 L577.56 103.69 L579.2 105.04 L580.77 106.41 L582.23 107.8 L583.58 109.2 L584.84 110.62 L586.05 112.04 L587.18 113.47 L588.2 114.91 L589.12 116.35 L589.96 117.79 L590.72 119.23 L591.37 120.68 L591.91 122.12 L592.36 123.56 L592.76 125.01 L593.14 126.45 L593.48 127.89 L593.76 129.33 L593.98 130.78 L594.15 132.22 L594.27 133.66 L594.35 135.11 L594.4 136.55 L594.35 137.99 L594.27 139.44 L594.15 140.88 L593.98 142.32 L593.76 143.77 L593.48 145.21 L593.14 146.65 L592.76 148.09 L592.36 149.54 L591.91 150.98 L591.37 152.42 L590.72 153.87 L589.96 155.31 L589.12 156.75 L588.2 158.19 L587.18 159.63 L586.05 161.06 L584.84 162.48 L583.58 163.9 L582.23 165.3 L580.77 166.69 L579.2 168.06 L577.56 169.41 L575.85 170.75 L574.08 172.05 L572.27 173.34 L570.41 174.59 L568.48 175.81 L566.47 177 L564.3 178.15 L561.94 179.25 L559.52 180.28 L557.18 181.2 L555 181.99 L553.03 182.63 L551.32 183.1 L453.28 183.1 L451.57 182.63 L449.6 181.99 L447.42 181.2 L445.08 180.28 L442.66 179.25 L440.3 178.15 L438.13 177 L436.12 175.81 L434.19 174.59 L432.33 173.34 L430.52 172.05 L428.75 170.75 L427.04 169.41 L425.4 168.06 L423.83 166.69 L422.37 165.3 L421.02 163.9 L419.76 162.48 L418.55 161.06 L417.42 159.63 L416.4 158.19 L415.48 156.75 L414.64 155.31 L413.88 153.87 L413.23 152.42 L412.69 150.98 L412.24 149.54 L411.84 148.09 L411.46 146.65 L411.12 145.21 L410.84 143.77 L410.62 142.32 L410.45 140.88 L410.33 139.44 L410.25 137.99 L410.2 136.55 L410.25 135.11 L410.33 133.66 L410.45 132.22 L410.62 130.78 L410.84 129.33 L411.12 127.89 L411.46 126.45 L411.84 125.01 L412.24 123.56 L412.69 122.12 L413.23 120.68 L413.88 119.23 L414.64 117.79 L415.48 116.35 L416.4 114.91 L417.42 113.47 L418.55 112.04 L419.76 110.62 L421.02 109.2 L422.37 107.8 L423.83 106.41 L425.4 105.04 L427.04 103.69 L428.75 102.35 L430.52 101.05 L432.33 99.76 L434.19 98.51 L436.12 97.29 L438.13 96.1 L440.3 94.95 L442.66 93.85 L445.08 92.82 L447.42 91.9 L449.6 91.11 L451.57 90.47 L453.28 90Z" fill="none" stroke="#555" stroke-width="0.9"/><rect x="490.1" y="158.5" width="8.1" height="8.4" fill="#7b7b7d" stroke="#4a4a4a" stroke-width="0.7"/><text x="501.8" y="165.1" class="nc">No change</text>
<rect x="427.7" y="189" width="7.46" height="8.4" fill="#2f7a2a" stroke="#222" stroke-width="0.6"/><rect x="435.16" y="189" width="7.46" height="8.4" fill="#3f8f35" stroke="#222" stroke-width="0.6"/><rect x="442.62" y="189" width="7.46" height="8.4" fill="#4fa03d" stroke="#222" stroke-width="0.6"/><rect x="450.09" y="189" width="7.46" height="8.4" fill="#63b247" stroke="#222" stroke-width="0.6"/><rect x="457.55" y="189" width="7.46" height="8.4" fill="#7ec253" stroke="#222" stroke-width="0.6"/><rect x="465.01" y="189" width="7.46" height="8.4" fill="#98cf6a" stroke="#222" stroke-width="0.6"/><rect x="472.47" y="189" width="7.46" height="8.4" fill="#b2dc8a" stroke="#222" stroke-width="0.6"/><rect x="479.93" y="189" width="7.46" height="8.4" fill="#c8e6a6" stroke="#222" stroke-width="0.6"/><rect x="487.4" y="189" width="7.46" height="8.4" fill="#dcefc4" stroke="#222" stroke-width="0.6"/><rect x="494.86" y="189" width="7.46" height="8.4" fill="#eef6e2" stroke="#222" stroke-width="0.6"/><rect x="502.32" y="189" width="7.46" height="8.4" fill="#f9f3f6" stroke="#222" stroke-width="0.6"/><rect x="509.78" y="189" width="7.46" height="8.4" fill="#f7e6ef" stroke="#222" stroke-width="0.6"/><rect x="517.24" y="189" width="7.46" height="8.4" fill="#f4d3e5" stroke="#222" stroke-width="0.6"/><rect x="524.7" y="189" width="7.46" height="8.4" fill="#efbcd9" stroke="#222" stroke-width="0.6"/><rect x="532.17" y="189" width="7.46" height="8.4" fill="#eaa6cc" stroke="#222" stroke-width="0.6"/><rect x="539.63" y="189" width="7.46" height="8.4" fill="#e58fbf" stroke="#222" stroke-width="0.6"/><rect x="547.09" y="189" width="7.46" height="8.4" fill="#de72ae" stroke="#222" stroke-width="0.6"/><rect x="554.55" y="189" width="7.46" height="8.4" fill="#d6529c" stroke="#222" stroke-width="0.6"/><rect x="562.01" y="189" width="7.46" height="8.4" fill="#c9268a" stroke="#222" stroke-width="0.6"/><rect x="569.48" y="189" width="7.46" height="8.4" fill="#b11a78" stroke="#222" stroke-width="0.6"/><rect x="576.94" y="189" width="7.46" height="8.4" fill="#8c1a5c" stroke="#222" stroke-width="0.6"/><text transform="translate(440.26 207) scale(0.92 1)" text-anchor="end" class="tn">−0.9</text><text transform="translate(462.65 207) scale(0.92 1)" text-anchor="end" class="tn">−0.6</text><text transform="translate(485.03 207) scale(0.92 1)" text-anchor="end" class="tn">−0.3</text><text transform="translate(502.32 207) scale(0.92 1)" text-anchor="middle" class="tn">0</text><text transform="translate(524.7 207) scale(0.92 1)" text-anchor="middle" class="tn">0.3</text><text transform="translate(547.09 207) scale(0.92 1)" text-anchor="middle" class="tn">0.6</text><text transform="translate(569.48 207) scale(0.92 1)" text-anchor="middle" class="tn">0.9</text><text x="502.32" y="215.4" text-anchor="middle" class="t7">Trend <tspan font-size="5.2" dy="-0.7">•</tspan><tspan dy="0.7"> years</tspan></text>
<rect x="45.7" y="227.3" width="158.2" height="50.4" fill="none" stroke="#333" stroke-width="0.9"/><path d="M45.7 276.1 V229.4" stroke="#222" stroke-width="0.8"/><path d="M41.9 276.1 H45.7" stroke="#222" stroke-width="0.9"/><path d="M41.9 266.76 H45.7" stroke="#222" stroke-width="0.9"/><path d="M41.9 257.42 H45.7" stroke="#222" stroke-width="0.9"/><path d="M41.9 248.08 H45.7" stroke="#222" stroke-width="0.9"/><path d="M41.9 238.74 H45.7" stroke="#222" stroke-width="0.9"/><path d="M41.9 229.4 H45.7" stroke="#222" stroke-width="0.9"/><text transform="translate(38.1 276.1) rotate(-90) scale(0.92 1)" text-anchor="middle" class="tn">0.0</text><text transform="translate(38.1 257.42) rotate(-90) scale(0.92 1)" text-anchor="middle" class="tn">0.4</text><text transform="translate(38.1 238.74) rotate(-90) scale(0.92 1)" text-anchor="middle" class="tn">0.8</text><path d="M67.9 277.7 V280.1" stroke="#222" stroke-width="0.9"/><text transform="translate(67.9 289) scale(0.92 1)" text-anchor="middle" class="tn">1940</text><path d="M101.22 277.7 V280.1" stroke="#222" stroke-width="0.9"/><text transform="translate(101.22 289) scale(0.92 1)" text-anchor="middle" class="tn">1960</text><path d="M134.54 277.7 V280.1" stroke="#222" stroke-width="0.9"/><text transform="translate(134.54 289) scale(0.92 1)" text-anchor="middle" class="tn">1980</text><path d="M167.86 277.7 V280.1" stroke="#222" stroke-width="0.9"/><text transform="translate(167.86 289) scale(0.92 1)" text-anchor="middle" class="tn">2000</text><path d="M201.18 277.7 V280.1" stroke="#222" stroke-width="0.9"/><text transform="translate(201.18 289) scale(0.92 1)" text-anchor="middle" class="tn">2020</text><text x="31.6" y="225.5" class="lb">D</text><text transform="translate(23.1 253.8) rotate(-90)" text-anchor="middle" class="pl">Probability</text>
<rect x="236.6" y="227.4" width="158.5" height="50.5" fill="none" stroke="#333" stroke-width="0.9"/><path d="M236.6 276.2 V229.4" stroke="#222" stroke-width="0.8"/><path d="M232.8 276.2 H236.6" stroke="#222" stroke-width="0.9"/><path d="M232.8 266.84 H236.6" stroke="#222" stroke-width="0.9"/><path d="M232.8 257.48 H236.6" stroke="#222" stroke-width="0.9"/><path d="M232.8 248.12 H236.6" stroke="#222" stroke-width="0.9"/><path d="M232.8 238.76 H236.6" stroke="#222" stroke-width="0.9"/><path d="M232.8 229.4 H236.6" stroke="#222" stroke-width="0.9"/><text transform="translate(229 276.2) rotate(-90) scale(0.92 1)" text-anchor="middle" class="tn">0.0</text><text transform="translate(229 257.48) rotate(-90) scale(0.92 1)" text-anchor="middle" class="tn">0.4</text><text transform="translate(229 238.76) rotate(-90) scale(0.92 1)" text-anchor="middle" class="tn">0.8</text><path d="M259 277.9 V280.3" stroke="#222" stroke-width="0.9"/><text transform="translate(259 289.2) scale(0.92 1)" text-anchor="middle" class="tn">1940</text><path d="M292.32 277.9 V280.3" stroke="#222" stroke-width="0.9"/><text transform="translate(292.32 289.2) scale(0.92 1)" text-anchor="middle" class="tn">1960</text><path d="M325.64 277.9 V280.3" stroke="#222" stroke-width="0.9"/><text transform="translate(325.64 289.2) scale(0.92 1)" text-anchor="middle" class="tn">1980</text><path d="M358.96 277.9 V280.3" stroke="#222" stroke-width="0.9"/><text transform="translate(358.96 289.2) scale(0.92 1)" text-anchor="middle" class="tn">2000</text><path d="M392.28 277.9 V280.3" stroke="#222" stroke-width="0.9"/><text transform="translate(392.28 289.2) scale(0.92 1)" text-anchor="middle" class="tn">2020</text><text x="222" y="225.3" class="lb">E</text>
<rect x="429" y="227.6" width="158.8" height="50.8" fill="none" stroke="#333" stroke-width="0.9"/><path d="M429 276.6 V229.7" stroke="#222" stroke-width="0.8"/><path d="M425.2 276.6 H429" stroke="#222" stroke-width="0.9"/><path d="M425.2 267.22 H429" stroke="#222" stroke-width="0.9"/><path d="M425.2 257.84 H429" stroke="#222" stroke-width="0.9"/><path d="M425.2 248.46 H429" stroke="#222" stroke-width="0.9"/><path d="M425.2 239.08 H429" stroke="#222" stroke-width="0.9"/><path d="M425.2 229.7 H429" stroke="#222" stroke-width="0.9"/><text transform="translate(421.4 276.6) rotate(-90) scale(0.92 1)" text-anchor="middle" class="tn">0.0</text><text transform="translate(421.4 257.84) rotate(-90) scale(0.92 1)" text-anchor="middle" class="tn">0.4</text><text transform="translate(421.4 239.08) rotate(-90) scale(0.92 1)" text-anchor="middle" class="tn">0.8</text><path d="M451.5 278.4 V280.8" stroke="#222" stroke-width="0.9"/><text transform="translate(451.5 289.7) scale(0.92 1)" text-anchor="middle" class="tn">1940</text><path d="M484.82 278.4 V280.8" stroke="#222" stroke-width="0.9"/><text transform="translate(484.82 289.7) scale(0.92 1)" text-anchor="middle" class="tn">1960</text><path d="M518.14 278.4 V280.8" stroke="#222" stroke-width="0.9"/><text transform="translate(518.14 289.7) scale(0.92 1)" text-anchor="middle" class="tn">1980</text><path d="M551.46 278.4 V280.8" stroke="#222" stroke-width="0.9"/><text transform="translate(551.46 289.7) scale(0.92 1)" text-anchor="middle" class="tn">2000</text><path d="M584.78 278.4 V280.8" stroke="#222" stroke-width="0.9"/><text transform="translate(584.78 289.7) scale(0.92 1)" text-anchor="middle" class="tn">2020</text><text x="415.6" y="225.3" class="lb">F</text>
<text x="53.8" y="238.6" class="t75">Observations</text>
<text x="243.8" y="238.6" class="t75">Observations</text>
<text x="436.0" y="238.8" class="t75">Observations</text>
<path d="M52.91 245.75 L54.57 245.96 L56.24 246.17 L57.9 246.38 L59.57 246.58 L61.24 246.78 L62.9 246.97 L64.57 247.15 L66.23 247.31 L67.9 247.47 L69.57 247.62 L71.23 247.76 L72.9 247.9 L74.56 248.03 L76.23 248.16 L77.9 248.28 L79.56 248.4 L81.23 248.53 L82.89 248.65 L84.56 248.78 L86.23 248.91 L87.89 249.04 L89.56 249.17 L91.22 249.28 L92.89 249.38 L94.56 249.46 L96.22 249.51 L97.89 249.54 L99.55 249.53 L101.22 249.48 L102.89 249.39 L104.55 249.26 L106.22 249.09 L107.88 248.89 L109.55 248.66 L111.22 248.4 L112.88 248.11 L114.55 247.81 L116.21 247.48 L117.88 247.15 L119.55 246.8 L121.21 246.43 L122.88 246.06 L124.54 245.67 L126.21 245.26 L127.88 244.83 L129.54 244.39 L131.21 243.93 L132.87 243.45 L134.54 242.94 L136.21 242.42 L137.87 241.87 L139.54 241.3 L141.2 240.72 L142.87 240.12 L144.54 239.52 L146.2 238.9 L147.87 238.27 L149.53 237.64 L151.2 237.02 L152.87 236.39 L154.53 235.79 L156.2 235.2 L157.86 234.63 L159.53 234.1 L161.2 233.6 L162.86 233.15 L164.53 232.74 L166.19 232.36 L167.86 232.03 L169.53 231.73 L171.19 231.47 L172.86 231.24 L174.52 231.03 L176.19 230.86 L177.86 230.72 L179.52 230.59 L181.19 230.49 L182.85 230.41 L184.52 230.33 L186.19 230.27 L187.85 230.22 L189.52 230.18 L191.18 230.14 L192.85 230.1 L192.85 237.57 L191.18 237.35 L189.52 237.14 L187.85 236.95 L186.19 236.78 L184.52 236.64 L182.85 236.54 L181.19 236.49 L179.52 236.49 L177.86 236.55 L176.19 236.68 L174.52 236.87 L172.86 237.14 L171.19 237.49 L169.53 237.92 L167.86 238.41 L166.19 238.97 L164.53 239.61 L162.86 240.31 L161.2 241.08 L159.53 241.9 L157.86 242.78 L156.2 243.7 L154.53 244.66 L152.87 245.63 L151.2 246.61 L149.53 247.58 L147.87 248.55 L146.2 249.49 L144.54 250.4 L142.87 251.28 L141.2 252.12 L139.54 252.93 L137.87 253.69 L136.21 254.41 L134.54 255.09 L132.87 255.71 L131.21 256.28 L129.54 256.8 L127.88 257.28 L126.21 257.71 L124.54 258.1 L122.88 258.45 L121.21 258.77 L119.55 259.04 L117.88 259.29 L116.21 259.5 L114.55 259.68 L112.88 259.84 L111.22 259.96 L109.55 260.06 L107.88 260.14 L106.22 260.19 L104.55 260.22 L102.89 260.23 L101.22 260.22 L99.55 260.2 L97.89 260.15 L96.22 260.1 L94.56 260.03 L92.89 259.96 L91.22 259.87 L89.56 259.79 L87.89 259.7 L86.23 259.61 L84.56 259.52 L82.89 259.44 L81.23 259.37 L79.56 259.31 L77.9 259.27 L76.23 259.25 L74.56 259.26 L72.9 259.31 L71.23 259.4 L69.57 259.53 L67.9 259.7 L66.23 259.93 L64.57 260.22 L62.9 260.57 L61.24 260.98 L59.57 261.42 L57.9 261.91 L56.24 262.42 L54.57 262.95 L52.91 263.49Z" fill="#e8735b"/><path d="M52.91 254.62 L54.57 254.45 L56.24 254.3 L57.9 254.14 L59.57 254 L61.24 253.88 L62.9 253.77 L64.57 253.68 L66.23 253.62 L67.9 253.59 L69.57 253.57 L71.23 253.58 L72.9 253.6 L74.56 253.65 L76.23 253.7 L77.9 253.77 L79.56 253.86 L81.23 253.95 L82.89 254.05 L84.56 254.15 L86.23 254.26 L87.89 254.37 L89.56 254.48 L91.22 254.58 L92.89 254.67 L94.56 254.74 L96.22 254.81 L97.89 254.85 L99.55 254.86 L101.22 254.85 L102.89 254.81 L104.55 254.74 L106.22 254.64 L107.88 254.51 L109.55 254.36 L111.22 254.18 L112.88 253.97 L114.55 253.74 L116.21 253.49 L117.88 253.22 L119.55 252.92 L121.21 252.6 L122.88 252.26 L124.54 251.88 L126.21 251.49 L127.88 251.06 L129.54 250.6 L131.21 250.1 L132.87 249.58 L134.54 249.01 L136.21 248.41 L137.87 247.78 L139.54 247.11 L141.2 246.41 L142.87 245.69 L144.54 244.95 L146.2 244.19 L147.87 243.41 L149.53 242.62 L151.2 241.82 L152.87 241.03 L154.53 240.24 L156.2 239.48 L157.86 238.73 L159.53 238.02 L161.2 237.34 L162.86 236.71 L164.53 236.12 L166.19 235.58 L167.86 235.09 L169.53 234.64 L171.19 234.25 L172.86 233.9 L174.52 233.6 L176.19 233.35 L177.86 233.15 L179.52 232.99 L181.19 232.86 L182.85 232.75 L184.52 232.67 L186.19 232.6 L187.85 232.55 L189.52 232.51 L191.18 232.47 L192.85 232.44" fill="none" stroke="#a01f1a" stroke-width="1.35"/>
<path d="M244.01 245.55 L245.67 245.78 L247.34 246.02 L249 246.25 L250.67 246.48 L252.34 246.71 L254 246.93 L255.67 247.14 L257.33 247.35 L259 247.55 L260.67 247.73 L262.33 247.91 L264 248.07 L265.66 248.22 L267.33 248.35 L269 248.47 L270.66 248.58 L272.33 248.67 L273.99 248.74 L275.66 248.81 L277.33 248.86 L278.99 248.91 L280.66 248.95 L282.32 248.98 L283.99 249 L285.66 249.02 L287.32 249.03 L288.99 249.04 L290.65 249.05 L292.32 249.06 L293.99 249.06 L295.65 249.07 L297.32 249.08 L298.98 249.09 L300.65 249.09 L302.32 249.1 L303.98 249.11 L305.65 249.12 L307.31 249.13 L308.98 249.14 L310.65 249.15 L312.31 249.16 L313.98 249.17 L315.64 249.19 L317.31 249.2 L318.98 249.22 L320.64 249.23 L322.31 249.25 L323.97 249.27 L325.64 249.29 L327.31 249.31 L328.97 249.33 L330.64 249.36 L332.3 249.38 L333.97 249.4 L335.64 249.43 L337.3 249.45 L338.97 249.47 L340.63 249.49 L342.3 249.51 L343.97 249.52 L345.63 249.54 L347.3 249.55 L348.96 249.56 L350.63 249.56 L352.3 249.56 L353.96 249.56 L355.63 249.55 L357.29 249.54 L358.96 249.52 L360.63 249.5 L362.29 249.47 L363.96 249.44 L365.62 249.41 L367.29 249.36 L368.96 249.32 L370.62 249.27 L372.29 249.22 L373.95 249.17 L375.62 249.12 L377.29 249.06 L378.95 249 L380.62 248.94 L382.28 248.88 L383.95 248.82 L383.95 260.05 L382.28 259.85 L380.62 259.65 L378.95 259.45 L377.29 259.26 L375.62 259.06 L373.95 258.87 L372.29 258.69 L370.62 258.51 L368.96 258.34 L367.29 258.17 L365.62 258.02 L363.96 257.87 L362.29 257.73 L360.63 257.6 L358.96 257.48 L357.29 257.37 L355.63 257.28 L353.96 257.19 L352.3 257.12 L350.63 257.06 L348.96 257 L347.3 256.95 L345.63 256.91 L343.97 256.88 L342.3 256.85 L340.63 256.83 L338.97 256.81 L337.3 256.8 L335.64 256.79 L333.97 256.78 L332.3 256.78 L330.64 256.78 L328.97 256.78 L327.31 256.78 L325.64 256.78 L323.97 256.78 L322.31 256.78 L320.64 256.77 L318.98 256.77 L317.31 256.77 L315.64 256.76 L313.98 256.76 L312.31 256.75 L310.65 256.74 L308.98 256.73 L307.31 256.72 L305.65 256.71 L303.98 256.69 L302.32 256.68 L300.65 256.66 L298.98 256.64 L297.32 256.62 L295.65 256.6 L293.99 256.57 L292.32 256.54 L290.65 256.52 L288.99 256.49 L287.32 256.45 L285.66 256.42 L283.99 256.39 L282.32 256.37 L280.66 256.34 L278.99 256.32 L277.33 256.3 L275.66 256.29 L273.99 256.28 L272.33 256.27 L270.66 256.28 L269 256.29 L267.33 256.31 L265.66 256.34 L264 256.38 L262.33 256.42 L260.67 256.47 L259 256.53 L257.33 256.6 L255.67 256.67 L254 256.74 L252.34 256.82 L250.67 256.9 L249 256.98 L247.34 257.07 L245.67 257.16 L244.01 257.25Z" fill="#c88b51"/><path d="M244.01 251.4 L245.67 251.47 L247.34 251.55 L249 251.62 L250.67 251.69 L252.34 251.77 L254 251.84 L255.67 251.91 L257.33 251.97 L259 252.04 L260.67 252.1 L262.33 252.17 L264 252.22 L265.66 252.28 L267.33 252.33 L269 252.38 L270.66 252.43 L272.33 252.47 L273.99 252.51 L275.66 252.55 L277.33 252.58 L278.99 252.61 L280.66 252.64 L282.32 252.67 L283.99 252.7 L285.66 252.72 L287.32 252.74 L288.99 252.76 L290.65 252.78 L292.32 252.8 L293.99 252.82 L295.65 252.83 L297.32 252.85 L298.98 252.86 L300.65 252.88 L302.32 252.89 L303.98 252.9 L305.65 252.91 L307.31 252.92 L308.98 252.93 L310.65 252.95 L312.31 252.96 L313.98 252.97 L315.64 252.97 L317.31 252.98 L318.98 252.99 L320.64 253 L322.31 253.01 L323.97 253.02 L325.64 253.03 L327.31 253.04 L328.97 253.06 L330.64 253.07 L332.3 253.08 L333.97 253.09 L335.64 253.11 L337.3 253.12 L338.97 253.14 L340.63 253.16 L342.3 253.18 L343.97 253.2 L345.63 253.22 L347.3 253.25 L348.96 253.28 L350.63 253.31 L352.3 253.34 L353.96 253.38 L355.63 253.42 L357.29 253.46 L358.96 253.5 L360.63 253.55 L362.29 253.6 L363.96 253.65 L365.62 253.71 L367.29 253.77 L368.96 253.83 L370.62 253.89 L372.29 253.96 L373.95 254.02 L375.62 254.09 L377.29 254.16 L378.95 254.23 L380.62 254.3 L382.28 254.37 L383.95 254.44" fill="none" stroke="#5a3212" stroke-width="1.35"/>
<path d="M436.51 257.14 L438.17 257.3 L439.84 257.46 L441.5 257.62 L443.17 257.78 L444.84 257.94 L446.5 258.1 L448.17 258.25 L449.83 258.4 L451.5 258.55 L453.17 258.7 L454.83 258.84 L456.5 258.98 L458.16 259.12 L459.83 259.25 L461.5 259.37 L463.16 259.49 L464.83 259.61 L466.49 259.72 L468.16 259.82 L469.83 259.91 L471.49 260 L473.16 260.08 L474.82 260.16 L476.49 260.22 L478.16 260.28 L479.82 260.33 L481.49 260.37 L483.15 260.4 L484.82 260.42 L486.49 260.43 L488.15 260.43 L489.82 260.42 L491.48 260.39 L493.15 260.36 L494.82 260.31 L496.48 260.25 L498.15 260.18 L499.81 260.09 L501.48 259.99 L503.15 259.87 L504.81 259.74 L506.48 259.59 L508.14 259.43 L509.81 259.25 L511.48 259.05 L513.14 258.84 L514.81 258.61 L516.47 258.37 L518.14 258.12 L519.81 257.86 L521.47 257.59 L523.14 257.31 L524.8 257.03 L526.47 256.74 L528.14 256.45 L529.8 256.15 L531.47 255.85 L533.13 255.56 L534.8 255.26 L536.47 254.97 L538.13 254.68 L539.8 254.39 L541.46 254.11 L543.13 253.84 L544.8 253.57 L546.46 253.3 L548.13 253.05 L549.79 252.8 L551.46 252.56 L553.13 252.33 L554.79 252.11 L556.46 251.9 L558.12 251.7 L559.79 251.51 L561.46 251.33 L563.12 251.17 L564.79 251.01 L566.45 250.87 L568.12 250.73 L569.79 250.6 L571.45 250.47 L573.12 250.34 L574.78 250.22 L576.45 250.1 L576.45 262.3 L574.78 262.14 L573.12 261.99 L571.45 261.84 L569.79 261.71 L568.12 261.59 L566.45 261.49 L564.79 261.41 L563.12 261.36 L561.46 261.34 L559.79 261.36 L558.12 261.41 L556.46 261.49 L554.79 261.61 L553.13 261.76 L551.46 261.93 L549.79 262.13 L548.13 262.36 L546.46 262.6 L544.8 262.86 L543.13 263.13 L541.46 263.42 L539.8 263.72 L538.13 264.02 L536.47 264.33 L534.8 264.64 L533.13 264.95 L531.47 265.26 L529.8 265.57 L528.14 265.87 L526.47 266.17 L524.8 266.46 L523.14 266.74 L521.47 267.02 L519.81 267.29 L518.14 267.54 L516.47 267.79 L514.81 268.02 L513.14 268.24 L511.48 268.44 L509.81 268.63 L508.14 268.8 L506.48 268.95 L504.81 269.09 L503.15 269.21 L501.48 269.32 L499.81 269.42 L498.15 269.5 L496.48 269.57 L494.82 269.63 L493.15 269.68 L491.48 269.72 L489.82 269.75 L488.15 269.77 L486.49 269.79 L484.82 269.8 L483.15 269.8 L481.49 269.8 L479.82 269.8 L478.16 269.79 L476.49 269.79 L474.82 269.78 L473.16 269.78 L471.49 269.78 L469.83 269.79 L468.16 269.81 L466.49 269.83 L464.83 269.86 L463.16 269.91 L461.5 269.96 L459.83 270.03 L458.16 270.12 L456.5 270.22 L454.83 270.33 L453.17 270.46 L451.5 270.6 L449.83 270.74 L448.17 270.9 L446.5 271.06 L444.84 271.23 L443.17 271.41 L441.5 271.59 L439.84 271.77 L438.17 271.96 L436.51 272.14Z" fill="#eabfe4"/><path d="M436.51 264.64 L438.17 264.63 L439.84 264.62 L441.5 264.61 L443.17 264.6 L444.84 264.59 L446.5 264.58 L448.17 264.58 L449.83 264.57 L451.5 264.58 L453.17 264.58 L454.83 264.59 L456.5 264.6 L458.16 264.62 L459.83 264.64 L461.5 264.67 L463.16 264.7 L464.83 264.73 L466.49 264.77 L468.16 264.81 L469.83 264.85 L471.49 264.89 L473.16 264.93 L474.82 264.97 L476.49 265.01 L478.16 265.04 L479.82 265.06 L481.49 265.09 L483.15 265.1 L484.82 265.11 L486.49 265.11 L488.15 265.1 L489.82 265.08 L491.48 265.06 L493.15 265.02 L494.82 264.97 L496.48 264.91 L498.15 264.84 L499.81 264.75 L501.48 264.65 L503.15 264.54 L504.81 264.41 L506.48 264.27 L508.14 264.11 L509.81 263.94 L511.48 263.75 L513.14 263.54 L514.81 263.32 L516.47 263.08 L518.14 262.83 L519.81 262.57 L521.47 262.3 L523.14 262.03 L524.8 261.74 L526.47 261.45 L528.14 261.16 L529.8 260.86 L531.47 260.56 L533.13 260.25 L534.8 259.95 L536.47 259.65 L538.13 259.35 L539.8 259.05 L541.46 258.77 L543.13 258.48 L544.8 258.21 L546.46 257.95 L548.13 257.7 L549.79 257.47 L551.46 257.25 L553.13 257.04 L554.79 256.86 L556.46 256.69 L558.12 256.55 L559.79 256.43 L561.46 256.34 L563.12 256.27 L564.79 256.21 L566.45 256.18 L568.12 256.16 L569.79 256.15 L571.45 256.16 L573.12 256.17 L574.78 256.18 L576.45 256.2" fill="none" stroke="#944e9e" stroke-width="1.4"/>
<rect x="45.9" y="313.3" width="158.2" height="50.2" fill="none" stroke="#333" stroke-width="0.9"/><path d="M45.9 361.6 V315.3" stroke="#222" stroke-width="0.8"/><path d="M42.1 361.6 H45.9" stroke="#222" stroke-width="0.9"/><path d="M42.1 352.34 H45.9" stroke="#222" stroke-width="0.9"/><path d="M42.1 343.08 H45.9" stroke="#222" stroke-width="0.9"/><path d="M42.1 333.82 H45.9" stroke="#222" stroke-width="0.9"/><path d="M42.1 324.56 H45.9" stroke="#222" stroke-width="0.9"/><path d="M42.1 315.3 H45.9" stroke="#222" stroke-width="0.9"/><text transform="translate(38.3 361.6) rotate(-90) scale(0.92 1)" text-anchor="middle" class="tn">0.0</text><text transform="translate(38.3 343.08) rotate(-90) scale(0.92 1)" text-anchor="middle" class="tn">0.4</text><text transform="translate(38.3 324.56) rotate(-90) scale(0.92 1)" text-anchor="middle" class="tn">0.8</text><path d="M68.3 363.5 V365.9" stroke="#222" stroke-width="0.9"/><text transform="translate(68.3 374.8) scale(0.92 1)" text-anchor="middle" class="tn">1940</text><path d="M101.62 363.5 V365.9" stroke="#222" stroke-width="0.9"/><text transform="translate(101.62 374.8) scale(0.92 1)" text-anchor="middle" class="tn">1960</text><path d="M134.94 363.5 V365.9" stroke="#222" stroke-width="0.9"/><text transform="translate(134.94 374.8) scale(0.92 1)" text-anchor="middle" class="tn">1980</text><path d="M168.26 363.5 V365.9" stroke="#222" stroke-width="0.9"/><text transform="translate(168.26 374.8) scale(0.92 1)" text-anchor="middle" class="tn">2000</text><path d="M201.58 363.5 V365.9" stroke="#222" stroke-width="0.9"/><text transform="translate(201.58 374.8) scale(0.92 1)" text-anchor="middle" class="tn">2020</text><text x="31.1" y="311.5" class="lb">G</text><text transform="translate(23.3 339.7) rotate(-90)" text-anchor="middle" class="pl">Probability</text>
<rect x="235.8" y="313.9" width="158.6" height="50.6" fill="none" stroke="#333" stroke-width="0.9"/><path d="M235.8 362.3 V315.9" stroke="#222" stroke-width="0.8"/><path d="M232 362.3 H235.8" stroke="#222" stroke-width="0.9"/><path d="M232 353.02 H235.8" stroke="#222" stroke-width="0.9"/><path d="M232 343.74 H235.8" stroke="#222" stroke-width="0.9"/><path d="M232 334.46 H235.8" stroke="#222" stroke-width="0.9"/><path d="M232 325.18 H235.8" stroke="#222" stroke-width="0.9"/><path d="M232 315.9 H235.8" stroke="#222" stroke-width="0.9"/><text transform="translate(228.2 362.3) rotate(-90) scale(0.92 1)" text-anchor="middle" class="tn">0.0</text><text transform="translate(228.2 343.74) rotate(-90) scale(0.92 1)" text-anchor="middle" class="tn">0.4</text><text transform="translate(228.2 325.18) rotate(-90) scale(0.92 1)" text-anchor="middle" class="tn">0.8</text><path d="M258.4 364.5 V366.9" stroke="#222" stroke-width="0.9"/><text transform="translate(258.4 375.8) scale(0.92 1)" text-anchor="middle" class="tn">1940</text><path d="M291.72 364.5 V366.9" stroke="#222" stroke-width="0.9"/><text transform="translate(291.72 375.8) scale(0.92 1)" text-anchor="middle" class="tn">1960</text><path d="M325.04 364.5 V366.9" stroke="#222" stroke-width="0.9"/><text transform="translate(325.04 375.8) scale(0.92 1)" text-anchor="middle" class="tn">1980</text><path d="M358.36 364.5 V366.9" stroke="#222" stroke-width="0.9"/><text transform="translate(358.36 375.8) scale(0.92 1)" text-anchor="middle" class="tn">2000</text><path d="M391.68 364.5 V366.9" stroke="#222" stroke-width="0.9"/><text transform="translate(391.68 375.8) scale(0.92 1)" text-anchor="middle" class="tn">2020</text><text x="222" y="311.4" class="lb">H</text>
<rect x="427.6" y="314.4" width="159" height="50.3" fill="none" stroke="#333" stroke-width="0.9"/><path d="M427.6 362.7 V316.6" stroke="#222" stroke-width="0.8"/><path d="M423.8 362.7 H427.6" stroke="#222" stroke-width="0.9"/><path d="M423.8 353.48 H427.6" stroke="#222" stroke-width="0.9"/><path d="M423.8 344.26 H427.6" stroke="#222" stroke-width="0.9"/><path d="M423.8 335.04 H427.6" stroke="#222" stroke-width="0.9"/><path d="M423.8 325.82 H427.6" stroke="#222" stroke-width="0.9"/><path d="M423.8 316.6 H427.6" stroke="#222" stroke-width="0.9"/><text transform="translate(420 362.7) rotate(-90) scale(0.92 1)" text-anchor="middle" class="tn">0.0</text><text transform="translate(420 344.26) rotate(-90) scale(0.92 1)" text-anchor="middle" class="tn">0.4</text><text transform="translate(420 325.82) rotate(-90) scale(0.92 1)" text-anchor="middle" class="tn">0.8</text><path d="M451.9 364.7 V367.1" stroke="#222" stroke-width="0.9"/><text transform="translate(451.9 376) scale(0.92 1)" text-anchor="middle" class="tn">1940</text><path d="M485.22 364.7 V367.1" stroke="#222" stroke-width="0.9"/><text transform="translate(485.22 376) scale(0.92 1)" text-anchor="middle" class="tn">1960</text><path d="M518.54 364.7 V367.1" stroke="#222" stroke-width="0.9"/><text transform="translate(518.54 376) scale(0.92 1)" text-anchor="middle" class="tn">1980</text><path d="M551.86 364.7 V367.1" stroke="#222" stroke-width="0.9"/><text transform="translate(551.86 376) scale(0.92 1)" text-anchor="middle" class="tn">2000</text><path d="M585.18 364.7 V367.1" stroke="#222" stroke-width="0.9"/><text transform="translate(585.18 376) scale(0.92 1)" text-anchor="middle" class="tn">2020</text><text x="419.9" y="310.9" class="lb">I</text>
<path d="M53.31 334.28 L54.97 334.43 L56.64 334.57 L58.3 334.71 L59.97 334.85 L61.64 334.99 L63.3 335.13 L64.97 335.26 L66.63 335.4 L68.3 335.53 L69.97 335.65 L71.63 335.78 L73.3 335.9 L74.96 336.01 L76.63 336.12 L78.3 336.23 L79.96 336.33 L81.63 336.43 L83.29 336.51 L84.96 336.6 L86.63 336.67 L88.29 336.74 L89.96 336.8 L91.62 336.85 L93.29 336.88 L94.96 336.9 L96.62 336.9 L98.29 336.89 L99.95 336.85 L101.62 336.79 L103.29 336.71 L104.95 336.61 L106.62 336.48 L108.28 336.32 L109.95 336.13 L111.62 335.92 L113.28 335.67 L114.95 335.39 L116.61 335.09 L118.28 334.75 L119.95 334.39 L121.61 334.01 L123.28 333.6 L124.94 333.16 L126.61 332.71 L128.28 332.23 L129.94 331.73 L131.61 331.21 L133.27 330.67 L134.94 330.12 L136.61 329.54 L138.27 328.96 L139.94 328.36 L141.6 327.76 L143.27 327.15 L144.94 326.55 L146.6 325.95 L148.27 325.36 L149.93 324.78 L151.6 324.22 L153.27 323.68 L154.93 323.16 L156.6 322.67 L158.26 322.21 L159.93 321.78 L161.6 321.39 L163.26 321.04 L164.93 320.72 L166.59 320.42 L168.26 320.15 L169.93 319.9 L171.59 319.66 L173.26 319.44 L174.92 319.22 L176.59 319 L176.59 330.12 L174.92 330.31 L173.26 330.52 L171.59 330.73 L169.93 330.95 L168.26 331.2 L166.59 331.47 L164.93 331.77 L163.26 332.1 L161.6 332.48 L159.93 332.89 L158.26 333.36 L156.6 333.87 L154.93 334.41 L153.27 334.99 L151.6 335.6 L149.93 336.23 L148.27 336.89 L146.6 337.55 L144.94 338.22 L143.27 338.9 L141.6 339.57 L139.94 340.24 L138.27 340.9 L136.61 341.54 L134.94 342.15 L133.27 342.75 L131.61 343.31 L129.94 343.85 L128.28 344.36 L126.61 344.84 L124.94 345.29 L123.28 345.72 L121.61 346.12 L119.95 346.5 L118.28 346.85 L116.61 347.17 L114.95 347.46 L113.28 347.72 L111.62 347.96 L109.95 348.17 L108.28 348.36 L106.62 348.52 L104.95 348.65 L103.29 348.77 L101.62 348.87 L99.95 348.96 L98.29 349.04 L96.62 349.1 L94.96 349.17 L93.29 349.22 L91.62 349.28 L89.96 349.34 L88.29 349.41 L86.63 349.48 L84.96 349.56 L83.29 349.66 L81.63 349.76 L79.96 349.88 L78.3 350.01 L76.63 350.15 L74.96 350.3 L73.3 350.46 L71.63 350.63 L69.97 350.8 L68.3 350.98 L66.63 351.17 L64.97 351.36 L63.3 351.56 L61.64 351.76 L59.97 351.96 L58.3 352.17 L56.64 352.38 L54.97 352.59 L53.31 352.8Z" fill="#e66f58" fill-opacity="1.0" stroke="#b8392b" stroke-width="0.6"/><path d="M53.31 343.54 L54.97 343.51 L56.64 343.47 L58.3 343.43 L59.97 343.39 L61.64 343.36 L63.3 343.32 L64.97 343.29 L66.63 343.26 L68.3 343.23 L69.97 343.2 L71.63 343.18 L73.3 343.15 L74.96 343.13 L76.63 343.12 L78.3 343.1 L79.96 343.09 L81.63 343.08 L83.29 343.08 L84.96 343.08 L86.63 343.08 L88.29 343.09 L89.96 343.09 L91.62 343.1 L93.29 343.09 L94.96 343.08 L96.62 343.05 L98.29 343.02 L99.95 342.96 L101.62 342.89 L103.29 342.8 L104.95 342.68 L106.62 342.53 L108.28 342.36 L109.95 342.15 L111.62 341.92 L113.28 341.64 L114.95 341.34 L116.61 341.01 L118.28 340.64 L119.95 340.25 L121.61 339.84 L123.28 339.39 L124.94 338.92 L126.61 338.43 L128.28 337.92 L129.94 337.39 L131.61 336.83 L133.27 336.26 L134.94 335.67 L136.61 335.07 L138.27 334.45 L139.94 333.82 L141.6 333.19 L143.27 332.56 L144.94 331.93 L146.6 331.3 L148.27 330.68 L149.93 330.07 L151.6 329.48 L153.27 328.91 L154.93 328.36 L156.6 327.83 L158.26 327.34 L159.93 326.88 L161.6 326.45 L163.26 326.05 L164.93 325.69 L166.59 325.35 L168.26 325.03 L169.93 324.73 L171.59 324.44 L173.26 324.17 L174.92 323.9 L176.59 323.63" fill="none" stroke="#a81c18" stroke-width="1.45"/>
<path d="M53.31 347.71 L54.97 347.73 L56.64 347.75 L58.3 347.77 L59.97 347.8 L61.64 347.82 L63.3 347.84 L64.97 347.86 L66.63 347.89 L68.3 347.91 L69.97 347.94 L71.63 347.96 L73.3 347.99 L74.96 348.02 L76.63 348.04 L78.3 348.07 L79.96 348.1 L81.63 348.14 L83.29 348.17 L84.96 348.2 L86.63 348.24 L88.29 348.28 L89.96 348.31 L91.62 348.35 L93.29 348.4 L94.96 348.44 L96.62 348.49 L98.29 348.53 L99.95 348.58 L101.62 348.64 L103.29 348.69 L104.95 348.75 L106.62 348.8 L108.28 348.86 L109.95 348.91 L111.62 348.96 L113.28 349.01 L114.95 349.06 L116.61 349.1 L118.28 349.13 L119.95 349.16 L121.61 349.18 L123.28 349.19 L124.94 349.2 L126.61 349.19 L128.28 349.18 L129.94 349.15 L131.61 349.11 L133.27 349.05 L134.94 348.99 L136.61 348.9 L138.27 348.8 L139.94 348.69 L141.6 348.56 L143.27 348.4 L144.94 348.23 L146.6 348.05 L148.27 347.84 L149.93 347.62 L151.6 347.38 L153.27 347.13 L154.93 346.86 L156.6 346.58 L158.26 346.29 L159.93 345.99 L161.6 345.68 L163.26 345.36 L164.93 345.04 L166.59 344.7 L168.26 344.37 L169.93 344.02 L171.59 343.67 L173.26 343.32 L174.92 342.97 L176.59 342.62 L176.59 353.73 L174.92 353.74 L173.26 353.76 L171.59 353.77 L169.93 353.79 L168.26 353.8 L166.59 353.82 L164.93 353.83 L163.26 353.85 L161.6 353.86 L159.93 353.87 L158.26 353.88 L156.6 353.9 L154.93 353.91 L153.27 353.92 L151.6 353.93 L149.93 353.94 L148.27 353.94 L146.6 353.95 L144.94 353.96 L143.27 353.96 L141.6 353.96 L139.94 353.97 L138.27 353.97 L136.61 353.97 L134.94 353.97 L133.27 353.97 L131.61 353.97 L129.94 353.97 L128.28 353.97 L126.61 353.96 L124.94 353.96 L123.28 353.96 L121.61 353.96 L119.95 353.96 L118.28 353.95 L116.61 353.95 L114.95 353.95 L113.28 353.95 L111.62 353.95 L109.95 353.95 L108.28 353.95 L106.62 353.95 L104.95 353.95 L103.29 353.96 L101.62 353.96 L99.95 353.97 L98.29 353.97 L96.62 353.98 L94.96 353.99 L93.29 354 L91.62 354.01 L89.96 354.02 L88.29 354.03 L86.63 354.05 L84.96 354.06 L83.29 354.08 L81.63 354.09 L79.96 354.11 L78.3 354.12 L76.63 354.14 L74.96 354.16 L73.3 354.18 L71.63 354.2 L69.97 354.22 L68.3 354.24 L66.63 354.26 L64.97 354.28 L63.3 354.3 L61.64 354.32 L59.97 354.34 L58.3 354.36 L56.64 354.38 L54.97 354.4 L53.31 354.42Z" fill="#e63c5a" fill-opacity="0.3" stroke="#d8566a" stroke-width="0.6"/><path d="M53.31 350.49 L54.97 350.5 L56.64 350.51 L58.3 350.53 L59.97 350.54 L61.64 350.55 L63.3 350.57 L64.97 350.58 L66.63 350.6 L68.3 350.61 L69.97 350.62 L71.63 350.64 L73.3 350.65 L74.96 350.67 L76.63 350.68 L78.3 350.7 L79.96 350.71 L81.63 350.73 L83.29 350.74 L84.96 350.76 L86.63 350.78 L88.29 350.8 L89.96 350.81 L91.62 350.83 L93.29 350.85 L94.96 350.87 L96.62 350.89 L98.29 350.91 L99.95 350.93 L101.62 350.95 L103.29 350.97 L104.95 350.99 L106.62 351.02 L108.28 351.04 L109.95 351.06 L111.62 351.08 L113.28 351.1 L114.95 351.12 L116.61 351.13 L118.28 351.15 L119.95 351.16 L121.61 351.17 L123.28 351.18 L124.94 351.18 L126.61 351.18 L128.28 351.18 L129.94 351.17 L131.61 351.16 L133.27 351.15 L134.94 351.13 L136.61 351.1 L138.27 351.07 L139.94 351.04 L141.6 351 L143.27 350.95 L144.94 350.9 L146.6 350.84 L148.27 350.77 L149.93 350.7 L151.6 350.63 L153.27 350.55 L154.93 350.46 L156.6 350.37 L158.26 350.28 L159.93 350.18 L161.6 350.08 L163.26 349.98 L164.93 349.88 L166.59 349.77 L168.26 349.66 L169.93 349.55 L171.59 349.44 L173.26 349.33 L174.92 349.21 L176.59 349.1" fill="none" stroke="#c81e30" stroke-width="1.3"/>
<rect x="56.1" y="317" width="7.6" height="6.6" fill="#e0664c" stroke="#9e2a20" stroke-width="0.7"/><text x="65.9" y="323.1" class="lg">Historical</text><rect x="102.6" y="317" width="7.6" height="6.6" fill="#f6b7c0" stroke="#d5606e" stroke-width="0.7"/><text x="112.4" y="323.1" class="lg">Natural</text>
<path d="M243.41 332.28 L245.07 332.34 L246.74 332.4 L248.4 332.46 L250.07 332.52 L251.74 332.58 L253.4 332.64 L255.07 332.7 L256.73 332.76 L258.4 332.82 L260.07 332.88 L261.73 332.94 L263.4 333 L265.06 333.06 L266.73 333.11 L268.4 333.17 L270.06 333.22 L271.73 333.28 L273.39 333.33 L275.06 333.38 L276.73 333.43 L278.39 333.49 L280.06 333.53 L281.72 333.58 L283.39 333.63 L285.06 333.68 L286.72 333.72 L288.39 333.76 L290.05 333.81 L291.72 333.85 L293.39 333.89 L295.05 333.93 L296.72 333.96 L298.38 334 L300.05 334.03 L301.72 334.06 L303.38 334.09 L305.05 334.12 L306.71 334.14 L308.38 334.16 L310.05 334.18 L311.71 334.19 L313.38 334.21 L315.04 334.21 L316.71 334.22 L318.38 334.22 L320.04 334.21 L321.71 334.21 L323.37 334.19 L325.04 334.17 L326.71 334.15 L328.37 334.12 L330.04 334.08 L331.7 334.04 L333.37 334 L335.04 333.94 L336.7 333.88 L338.37 333.82 L340.03 333.75 L341.7 333.67 L343.37 333.59 L345.03 333.51 L346.7 333.42 L348.36 333.32 L350.03 333.23 L351.7 333.13 L353.36 333.03 L355.03 332.92 L356.69 332.81 L358.36 332.7 L360.03 332.59 L361.69 332.48 L363.36 332.37 L365.02 332.25 L366.69 332.14 L366.69 347.92 L365.02 347.69 L363.36 347.46 L361.69 347.24 L360.03 347.02 L358.36 346.8 L356.69 346.58 L355.03 346.37 L353.36 346.16 L351.7 345.95 L350.03 345.76 L348.36 345.56 L346.7 345.38 L345.03 345.2 L343.37 345.03 L341.7 344.87 L340.03 344.71 L338.37 344.57 L336.7 344.44 L335.04 344.31 L333.37 344.2 L331.7 344.11 L330.04 344.02 L328.37 343.94 L326.71 343.88 L325.04 343.82 L323.37 343.78 L321.71 343.74 L320.04 343.72 L318.38 343.7 L316.71 343.68 L315.04 343.68 L313.38 343.68 L311.71 343.69 L310.05 343.71 L308.38 343.73 L306.71 343.75 L305.05 343.78 L303.38 343.81 L301.72 343.85 L300.05 343.89 L298.38 343.93 L296.72 343.97 L295.05 344.01 L293.39 344.06 L291.72 344.1 L290.05 344.15 L288.39 344.2 L286.72 344.26 L285.06 344.31 L283.39 344.36 L281.72 344.42 L280.06 344.47 L278.39 344.53 L276.73 344.59 L275.06 344.65 L273.39 344.71 L271.73 344.77 L270.06 344.84 L268.4 344.9 L266.73 344.97 L265.06 345.03 L263.4 345.1 L261.73 345.16 L260.07 345.23 L258.4 345.3 L256.73 345.37 L255.07 345.43 L253.4 345.5 L251.74 345.57 L250.07 345.64 L248.4 345.71 L246.74 345.78 L245.07 345.85 L243.41 345.92Z" fill="#c2813f" fill-opacity="1.0" stroke="#8a531f" stroke-width="0.6"/><path d="M243.41 339.1 L245.07 339.1 L246.74 339.09 L248.4 339.09 L250.07 339.08 L251.74 339.08 L253.4 339.07 L255.07 339.07 L256.73 339.06 L258.4 339.06 L260.07 339.06 L261.73 339.05 L263.4 339.05 L265.06 339.04 L266.73 339.04 L268.4 339.03 L270.06 339.03 L271.73 339.03 L273.39 339.02 L275.06 339.02 L276.73 339.01 L278.39 339.01 L280.06 339 L281.72 339 L283.39 339 L285.06 338.99 L286.72 338.99 L288.39 338.98 L290.05 338.98 L291.72 338.98 L293.39 338.97 L295.05 338.97 L296.72 338.96 L298.38 338.96 L300.05 338.96 L301.72 338.95 L303.38 338.95 L305.05 338.95 L306.71 338.95 L308.38 338.94 L310.05 338.94 L311.71 338.94 L313.38 338.94 L315.04 338.95 L316.71 338.95 L318.38 338.96 L320.04 338.96 L321.71 338.97 L323.37 338.98 L325.04 339 L326.71 339.01 L328.37 339.03 L330.04 339.05 L331.7 339.07 L333.37 339.1 L335.04 339.13 L336.7 339.16 L338.37 339.19 L340.03 339.23 L341.7 339.27 L343.37 339.31 L345.03 339.35 L346.7 339.4 L348.36 339.44 L350.03 339.49 L351.7 339.54 L353.36 339.59 L355.03 339.64 L356.69 339.7 L358.36 339.75 L360.03 339.81 L361.69 339.86 L363.36 339.92 L365.02 339.97 L366.69 340.03" fill="none" stroke="#6b3d14" stroke-width="1.1"/>
<path d="M243.41 335.39 L245.07 335.42 L246.74 335.45 L248.4 335.47 L250.07 335.5 L251.74 335.53 L253.4 335.56 L255.07 335.59 L256.73 335.62 L258.4 335.65 L260.07 335.68 L261.73 335.71 L263.4 335.74 L265.06 335.77 L266.73 335.8 L268.4 335.83 L270.06 335.86 L271.73 335.9 L273.39 335.93 L275.06 335.96 L276.73 335.99 L278.39 336.03 L280.06 336.06 L281.72 336.1 L283.39 336.13 L285.06 336.17 L286.72 336.2 L288.39 336.24 L290.05 336.28 L291.72 336.32 L293.39 336.35 L295.05 336.39 L296.72 336.43 L298.38 336.47 L300.05 336.51 L301.72 336.55 L303.38 336.59 L305.05 336.62 L306.71 336.66 L308.38 336.69 L310.05 336.72 L311.71 336.75 L313.38 336.77 L315.04 336.79 L316.71 336.81 L318.38 336.83 L320.04 336.84 L321.71 336.85 L323.37 336.86 L325.04 336.86 L326.71 336.85 L328.37 336.84 L330.04 336.83 L331.7 336.81 L333.37 336.78 L335.04 336.75 L336.7 336.71 L338.37 336.67 L340.03 336.62 L341.7 336.56 L343.37 336.51 L345.03 336.44 L346.7 336.38 L348.36 336.31 L350.03 336.24 L351.7 336.16 L353.36 336.08 L355.03 336 L356.69 335.92 L358.36 335.83 L360.03 335.74 L361.69 335.66 L363.36 335.57 L365.02 335.48 L366.69 335.39 L366.69 342.81 L365.02 342.73 L363.36 342.65 L361.69 342.57 L360.03 342.49 L358.36 342.41 L356.69 342.33 L355.03 342.26 L353.36 342.18 L351.7 342.11 L350.03 342.03 L348.36 341.96 L346.7 341.89 L345.03 341.82 L343.37 341.76 L341.7 341.7 L340.03 341.63 L338.37 341.58 L336.7 341.52 L335.04 341.47 L333.37 341.42 L331.7 341.37 L330.04 341.33 L328.37 341.29 L326.71 341.26 L325.04 341.22 L323.37 341.19 L321.71 341.16 L320.04 341.14 L318.38 341.11 L316.71 341.09 L315.04 341.07 L313.38 341.06 L311.71 341.04 L310.05 341.03 L308.38 341.01 L306.71 341 L305.05 340.99 L303.38 340.99 L301.72 340.98 L300.05 340.97 L298.38 340.97 L296.72 340.97 L295.05 340.96 L293.39 340.96 L291.72 340.96 L290.05 340.95 L288.39 340.95 L286.72 340.95 L285.06 340.95 L283.39 340.95 L281.72 340.95 L280.06 340.94 L278.39 340.94 L276.73 340.94 L275.06 340.94 L273.39 340.94 L271.73 340.94 L270.06 340.94 L268.4 340.94 L266.73 340.94 L265.06 340.94 L263.4 340.94 L261.73 340.94 L260.07 340.94 L258.4 340.95 L256.73 340.95 L255.07 340.95 L253.4 340.95 L251.74 340.95 L250.07 340.95 L248.4 340.95 L246.74 340.95 L245.07 340.95 L243.41 340.96Z" fill="#e6b66a" fill-opacity="0.4" stroke="#a8702e" stroke-width="0.6"/><path d="M243.41 338.17 L245.07 338.19 L246.74 338.21 L248.4 338.22 L250.07 338.24 L251.74 338.26 L253.4 338.28 L255.07 338.29 L256.73 338.31 L258.4 338.33 L260.07 338.35 L261.73 338.36 L263.4 338.38 L265.06 338.4 L266.73 338.41 L268.4 338.43 L270.06 338.44 L271.73 338.46 L273.39 338.48 L275.06 338.49 L276.73 338.51 L278.39 338.52 L280.06 338.54 L281.72 338.55 L283.39 338.57 L285.06 338.58 L286.72 338.6 L288.39 338.61 L290.05 338.62 L291.72 338.64 L293.39 338.65 L295.05 338.66 L296.72 338.67 L298.38 338.69 L300.05 338.7 L301.72 338.71 L303.38 338.72 L305.05 338.74 L306.71 338.75 L308.38 338.77 L310.05 338.78 L311.71 338.8 L313.38 338.81 L315.04 338.83 L316.71 338.85 L318.38 338.87 L320.04 338.89 L321.71 338.91 L323.37 338.93 L325.04 338.96 L326.71 338.98 L328.37 339.01 L330.04 339.04 L331.7 339.07 L333.37 339.1 L335.04 339.13 L336.7 339.17 L338.37 339.21 L340.03 339.25 L341.7 339.29 L343.37 339.33 L345.03 339.38 L346.7 339.42 L348.36 339.47 L350.03 339.52 L351.7 339.56 L353.36 339.61 L355.03 339.66 L356.69 339.71 L358.36 339.77 L360.03 339.82 L361.69 339.87 L363.36 339.92 L365.02 339.98 L366.69 340.03" fill="none" stroke="#8b5a22" stroke-width="0.8"/>
<rect x="246.1" y="319.2" width="7.6" height="6.6" fill="#b97a3e" stroke="#6b3d14" stroke-width="0.7"/><text x="255.9" y="325.3" class="lg">Historical</text><rect x="292.6" y="319.2" width="7.6" height="6.6" fill="#f8e2b0" stroke="#c8924c" stroke-width="0.7"/><text x="302.4" y="325.3" class="lg">Natural</text>
<path d="M436.91 345.64 L438.57 345.76 L440.24 345.88 L441.9 345.99 L443.57 346.11 L445.24 346.23 L446.9 346.34 L448.57 346.45 L450.23 346.56 L451.9 346.67 L453.57 346.77 L455.23 346.88 L456.9 346.98 L458.56 347.07 L460.23 347.17 L461.9 347.26 L463.56 347.34 L465.23 347.42 L466.89 347.5 L468.56 347.57 L470.23 347.63 L471.89 347.69 L473.56 347.75 L475.22 347.8 L476.89 347.84 L478.56 347.88 L480.22 347.9 L481.89 347.93 L483.55 347.94 L485.22 347.95 L486.89 347.95 L488.55 347.94 L490.22 347.92 L491.88 347.89 L493.55 347.85 L495.22 347.8 L496.88 347.74 L498.55 347.67 L500.21 347.58 L501.88 347.49 L503.55 347.37 L505.21 347.25 L506.88 347.1 L508.54 346.95 L510.21 346.77 L511.88 346.58 L513.54 346.38 L515.21 346.15 L516.87 345.91 L518.54 345.64 L520.21 345.36 L521.87 345.06 L523.54 344.75 L525.2 344.42 L526.87 344.08 L528.54 343.73 L530.2 343.38 L531.87 343.02 L533.53 342.66 L535.2 342.3 L536.87 341.94 L538.53 341.58 L540.2 341.24 L541.86 340.9 L543.53 340.57 L545.2 340.26 L546.86 339.96 L548.53 339.66 L550.19 339.38 L551.86 339.11 L553.53 338.84 L555.19 338.58 L556.86 338.32 L558.52 338.06 L560.19 337.81 L560.19 352.1 L558.52 352.1 L556.86 352.11 L555.19 352.12 L553.53 352.15 L551.86 352.18 L550.19 352.22 L548.53 352.28 L546.86 352.35 L545.2 352.44 L543.53 352.56 L541.86 352.7 L540.2 352.86 L538.53 353.04 L536.87 353.23 L535.2 353.44 L533.53 353.67 L531.87 353.9 L530.2 354.14 L528.54 354.38 L526.87 354.63 L525.2 354.87 L523.54 355.11 L521.87 355.34 L520.21 355.57 L518.54 355.78 L516.87 355.99 L515.21 356.18 L513.54 356.35 L511.88 356.52 L510.21 356.68 L508.54 356.82 L506.88 356.96 L505.21 357.08 L503.55 357.2 L501.88 357.31 L500.21 357.41 L498.55 357.5 L496.88 357.59 L495.22 357.68 L493.55 357.75 L491.88 357.83 L490.22 357.9 L488.55 357.96 L486.89 358.03 L485.22 358.09 L483.55 358.15 L481.89 358.21 L480.22 358.27 L478.56 358.32 L476.89 358.38 L475.22 358.43 L473.56 358.49 L471.89 358.54 L470.23 358.59 L468.56 358.64 L466.89 358.69 L465.23 358.74 L463.56 358.79 L461.9 358.83 L460.23 358.88 L458.56 358.92 L456.9 358.97 L455.23 359.01 L453.57 359.06 L451.9 359.1 L450.23 359.14 L448.57 359.18 L446.9 359.23 L445.24 359.27 L443.57 359.31 L441.9 359.35 L440.24 359.39 L438.57 359.43 L436.91 359.47Z" fill="#eac4e7" fill-opacity="1.0" stroke="#a865a8" stroke-width="0.8"/><path d="M436.91 353.94 L438.57 353.94 L440.24 353.93 L441.9 353.93 L443.57 353.92 L445.24 353.92 L446.9 353.91 L448.57 353.91 L450.23 353.9 L451.9 353.89 L453.57 353.89 L455.23 353.88 L456.9 353.87 L458.56 353.86 L460.23 353.85 L461.9 353.83 L463.56 353.82 L465.23 353.8 L466.89 353.79 L468.56 353.77 L470.23 353.75 L471.89 353.73 L473.56 353.7 L475.22 353.68 L476.89 353.65 L478.56 353.62 L480.22 353.59 L481.89 353.55 L483.55 353.52 L485.22 353.48 L486.89 353.44 L488.55 353.4 L490.22 353.35 L491.88 353.29 L493.55 353.24 L495.22 353.17 L496.88 353.1 L498.55 353.02 L500.21 352.93 L501.88 352.83 L503.55 352.73 L505.21 352.61 L506.88 352.48 L508.54 352.34 L510.21 352.18 L511.88 352.01 L513.54 351.83 L515.21 351.62 L516.87 351.41 L518.54 351.18 L520.21 350.92 L521.87 350.66 L523.54 350.38 L525.2 350.09 L526.87 349.8 L528.54 349.5 L530.2 349.19 L531.87 348.89 L533.53 348.59 L535.2 348.3 L536.87 348.02 L538.53 347.75 L540.2 347.49 L541.86 347.25 L543.53 347.03 L545.2 346.83 L546.86 346.64 L548.53 346.48 L550.19 346.33 L551.86 346.2 L553.53 346.07 L555.19 345.96 L556.86 345.85 L558.52 345.75 L560.19 345.64" fill="none" stroke="#924598" stroke-width="1.4"/>
<path d="M436.91 353.94 L438.57 353.96 L440.24 353.99 L441.9 354.01 L443.57 354.03 L445.24 354.05 L446.9 354.08 L448.57 354.1 L450.23 354.12 L451.9 354.14 L453.57 354.16 L455.23 354.18 L456.9 354.2 L458.56 354.22 L460.23 354.24 L461.9 354.26 L463.56 354.27 L465.23 354.29 L466.89 354.31 L468.56 354.32 L470.23 354.33 L471.89 354.35 L473.56 354.36 L475.22 354.37 L476.89 354.38 L478.56 354.38 L480.22 354.39 L481.89 354.4 L483.55 354.4 L485.22 354.4 L486.89 354.4 L488.55 354.4 L490.22 354.4 L491.88 354.4 L493.55 354.39 L495.22 354.38 L496.88 354.37 L498.55 354.35 L500.21 354.34 L501.88 354.31 L503.55 354.29 L505.21 354.26 L506.88 354.23 L508.54 354.19 L510.21 354.15 L511.88 354.11 L513.54 354.06 L515.21 354.01 L516.87 353.95 L518.54 353.88 L520.21 353.81 L521.87 353.74 L523.54 353.66 L525.2 353.57 L526.87 353.48 L528.54 353.38 L530.2 353.28 L531.87 353.17 L533.53 353.05 L535.2 352.93 L536.87 352.8 L538.53 352.67 L540.2 352.54 L541.86 352.4 L543.53 352.26 L545.2 352.11 L546.86 351.96 L548.53 351.81 L550.19 351.66 L551.86 351.5 L553.53 351.35 L555.19 351.19 L556.86 351.03 L558.52 350.87 L560.19 350.71 L560.19 359.01 L558.52 359.04 L556.86 359.06 L555.19 359.08 L553.53 359.1 L551.86 359.13 L550.19 359.15 L548.53 359.17 L546.86 359.2 L545.2 359.22 L543.53 359.24 L541.86 359.27 L540.2 359.29 L538.53 359.31 L536.87 359.34 L535.2 359.36 L533.53 359.38 L531.87 359.4 L530.2 359.43 L528.54 359.45 L526.87 359.47 L525.2 359.5 L523.54 359.52 L521.87 359.54 L520.21 359.56 L518.54 359.59 L516.87 359.61 L515.21 359.63 L513.54 359.65 L511.88 359.67 L510.21 359.69 L508.54 359.71 L506.88 359.73 L505.21 359.75 L503.55 359.77 L501.88 359.79 L500.21 359.81 L498.55 359.83 L496.88 359.84 L495.22 359.86 L493.55 359.87 L491.88 359.89 L490.22 359.9 L488.55 359.91 L486.89 359.92 L485.22 359.93 L483.55 359.94 L481.89 359.95 L480.22 359.96 L478.56 359.97 L476.89 359.97 L475.22 359.98 L473.56 359.98 L471.89 359.98 L470.23 359.99 L468.56 359.99 L466.89 359.99 L465.23 359.99 L463.56 359.99 L461.9 359.99 L460.23 359.99 L458.56 359.99 L456.9 359.98 L455.23 359.98 L453.57 359.98 L451.9 359.97 L450.23 359.97 L448.57 359.97 L446.9 359.96 L445.24 359.96 L443.57 359.95 L441.9 359.95 L440.24 359.94 L438.57 359.94 L436.91 359.93Z" fill="#e070b0" fill-opacity="0.28" stroke="#d08ab8" stroke-width="0.6"/><path d="M436.91 356.71 L438.57 356.73 L440.24 356.75 L441.9 356.77 L443.57 356.79 L445.24 356.81 L446.9 356.84 L448.57 356.86 L450.23 356.88 L451.9 356.9 L453.57 356.92 L455.23 356.94 L456.9 356.96 L458.56 356.97 L460.23 356.99 L461.9 357.01 L463.56 357.03 L465.23 357.04 L466.89 357.06 L468.56 357.07 L470.23 357.09 L471.89 357.1 L473.56 357.11 L475.22 357.12 L476.89 357.13 L478.56 357.14 L480.22 357.15 L481.89 357.16 L483.55 357.16 L485.22 357.17 L486.89 357.17 L488.55 357.17 L490.22 357.18 L491.88 357.17 L493.55 357.17 L495.22 357.17 L496.88 357.16 L498.55 357.16 L500.21 357.15 L501.88 357.14 L503.55 357.13 L505.21 357.11 L506.88 357.09 L508.54 357.08 L510.21 357.06 L511.88 357.03 L513.54 357.01 L515.21 356.98 L516.87 356.95 L518.54 356.91 L520.21 356.88 L521.87 356.84 L523.54 356.8 L525.2 356.75 L526.87 356.71 L528.54 356.66 L530.2 356.6 L531.87 356.55 L533.53 356.49 L535.2 356.43 L536.87 356.36 L538.53 356.3 L540.2 356.23 L541.86 356.16 L543.53 356.09 L545.2 356.02 L546.86 355.95 L548.53 355.87 L550.19 355.79 L551.86 355.72 L553.53 355.64 L555.19 355.56 L556.86 355.48 L558.52 355.4 L560.19 355.32" fill="none" stroke="#d0569a" stroke-width="1.2"/>
<rect x="438.1" y="320.2" width="7.6" height="6.6" fill="#ddb0dc" stroke="#9a5aa0" stroke-width="0.7"/><text x="447.9" y="326.3" class="lg">Historical</text><rect x="485.3" y="320.2" width="7.6" height="6.6" fill="#f6d0e4" stroke="#d58ab8" stroke-width="0.7"/><text x="495.1" y="326.3" class="lg">Natural</text>
</svg>
</body></html>
